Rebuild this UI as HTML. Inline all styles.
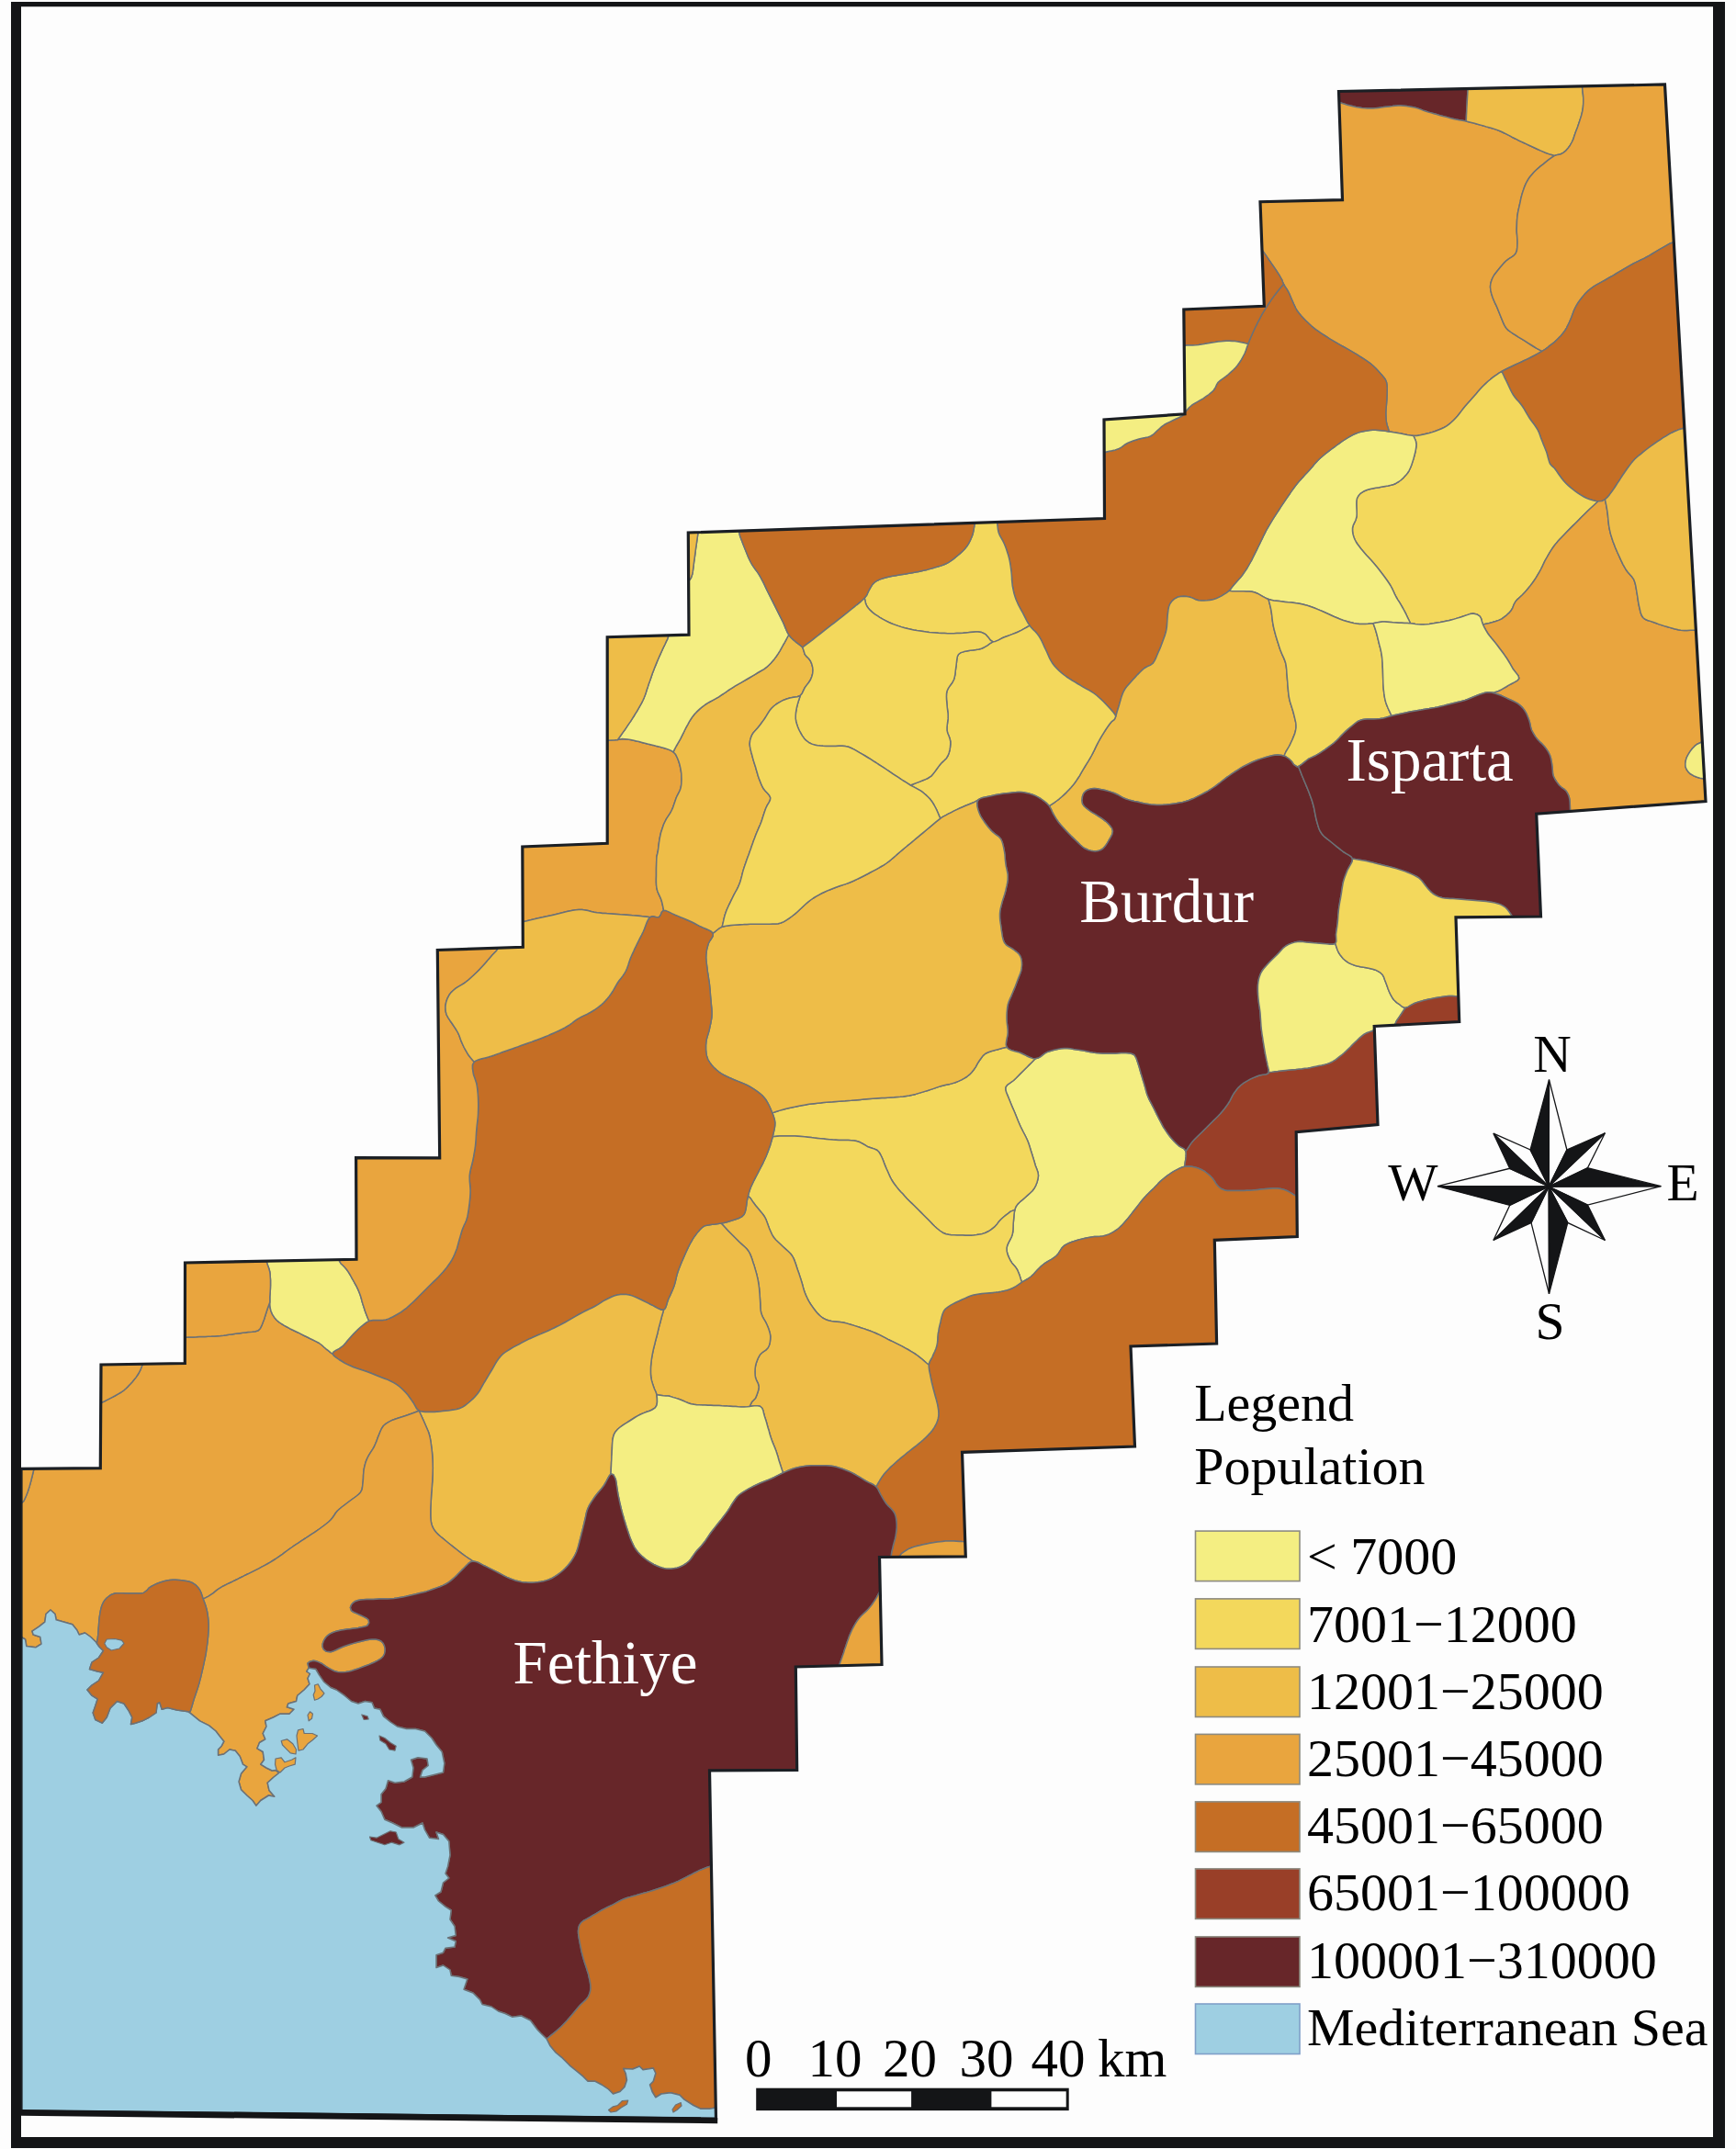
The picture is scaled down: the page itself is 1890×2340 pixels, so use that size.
<!DOCTYPE html>
<html lang="en"><head><meta charset="utf-8"><title>Population map</title>
<style>
html,body{margin:0;padding:0;background:#fdfdfd;}
svg{display:block}
text{font-family:"Liberation Serif","Times New Roman",serif;}
.lg{font-size:58px;fill:#000}
.city{font-size:67px;fill:#fff}
.cmp{font-size:57.5px;fill:#000}
.sc{font-size:59px;fill:#000}
</style></head><body>
<svg width="1890" height="2340" viewBox="0 0 1890 2340">
<rect x="0" y="0" width="1890" height="2340" fill="#fdfdfd"/>
<g id="map" stroke="#6c7176" stroke-width="1.5" stroke-linejoin="round">
<path d="M1457.9,111.2 1460.6,112.2 1463.8,113.2 1466.9,114.2 1470.0,115.0 1473.1,115.8 1476.2,116.5 1479.4,117.0 1482.5,117.5 1485.6,117.8 1488.6,118.0 1491.7,118.1 1495.0,118.0 1497.8,117.8 1500.8,117.4 1503.9,117.0 1507.0,116.6 1510.0,116.2 1513.0,115.9 1516.0,115.6 1519.0,115.2 1522.0,115.0 1525.0,115.0 1528.0,115.2 1531.1,115.5 1534.2,115.9 1537.2,116.4 1540.0,117.0 1543.2,117.9 1546.1,118.9 1549.1,120.1 1552.5,121.2 1555.2,122.1 1558.1,122.9 1561.1,123.8 1564.2,124.6 1567.2,125.5 1570.0,126.2 1573.2,127.1 1576.4,127.9 1579.4,128.7 1582.3,129.4 1585.0,130.0 1588.8,130.7 1592.1,131.2 1596.2,132.0 1596.4,128.6 1596.5,125.2 1596.7,121.8 1596.8,118.4 1597.0,115.0 1597.2,111.6 1597.4,108.2 1597.6,104.8 1597.8,101.4 1598.0,96.5 1457.5,99.5Z" fill="#672629"/>
<path d="M1596.2,132.0 1592.1,131.2 1588.8,130.7 1585.0,130.0 1582.3,129.4 1579.4,128.7 1576.4,127.9 1573.2,127.1 1570.0,126.2 1567.2,125.5 1564.2,124.6 1561.1,123.8 1558.1,122.9 1555.2,122.1 1552.5,121.2 1549.1,120.1 1546.1,118.9 1543.2,117.9 1540.0,117.0 1537.2,116.4 1534.2,115.9 1531.1,115.5 1528.0,115.2 1525.0,115.0 1522.0,115.0 1519.0,115.2 1516.0,115.6 1513.0,115.9 1510.0,116.2 1507.0,116.6 1503.9,117.0 1500.8,117.4 1497.8,117.8 1495.0,118.0 1491.7,118.1 1488.6,118.0 1485.6,117.8 1482.5,117.5 1479.4,117.0 1476.2,116.5 1473.1,115.8 1470.0,115.0 1466.9,114.2 1463.8,113.2 1460.6,112.2 1457.9,111.2 1461.5,217.6 1372.0,219.7 1374.0,272.0 1375.8,274.6 1377.7,277.3 1379.6,280.1 1381.5,283.0 1383.5,285.8 1385.3,288.5 1387.2,291.2 1388.9,293.7 1390.4,296.0 1391.8,298.1 1393.0,300.0 1395.6,304.6 1396.5,307.1 1397.5,309.5 1399.1,312.2 1400.8,314.6 1402.5,317.5 1403.8,320.1 1405.0,323.0 1406.2,325.9 1407.5,328.8 1409.0,332.2 1410.6,335.5 1412.5,338.8 1414.4,341.2 1416.5,343.8 1418.8,346.2 1421.2,348.8 1423.3,350.8 1425.4,352.8 1427.6,354.8 1430.0,356.8 1432.5,358.8 1434.8,360.4 1437.2,362.1 1439.8,363.8 1442.4,365.5 1445.0,367.2 1447.5,368.8 1450.5,370.6 1453.5,372.3 1456.5,374.1 1459.5,375.8 1462.5,377.5 1465.5,379.2 1468.5,380.9 1471.5,382.7 1474.5,384.4 1477.5,386.2 1480.1,387.8 1482.7,389.5 1485.3,391.2 1487.9,392.9 1490.3,394.6 1492.5,396.2 1495.4,398.8 1498.0,401.2 1500.3,403.8 1502.5,406.2 1504.6,408.6 1506.6,410.9 1508.3,413.3 1509.5,416.2 1510.0,419.1 1510.3,422.2 1510.2,425.6 1510.1,429.1 1510.0,432.5 1509.8,436.0 1509.5,439.7 1509.2,443.3 1508.9,446.8 1508.8,450.0 1508.9,453.6 1509.1,457.0 1509.5,459.9 1510.0,462.5 1511.2,466.0 1512.3,470.0 1512.5,470.0 1515.8,470.5 1518.8,471.0 1521.8,471.5 1525.0,472.0 1528.4,472.7 1532.0,473.5 1535.5,474.1 1538.8,474.5 1542.6,474.4 1546.3,473.8 1550.0,473.0 1553.0,472.3 1556.2,471.5 1559.3,470.6 1562.5,469.5 1565.7,468.3 1568.9,467.0 1572.1,465.5 1575.0,463.8 1577.7,461.9 1580.2,459.8 1582.6,457.5 1585.0,455.0 1587.0,452.7 1589.0,450.2 1591.0,447.6 1593.0,445.0 1595.0,442.5 1597.0,440.2 1599.0,437.9 1601.0,435.7 1603.0,433.5 1605.0,431.2 1607.0,429.0 1609.0,426.6 1611.0,424.3 1613.0,422.1 1615.0,420.0 1617.5,417.6 1620.0,415.3 1622.5,413.2 1625.0,411.2 1627.4,409.4 1629.7,407.8 1632.1,406.2 1635.0,404.5 1637.7,403.0 1640.6,401.5 1643.8,400.0 1646.9,398.5 1650.0,397.0 1653.0,395.6 1656.1,394.2 1659.1,392.8 1662.1,391.4 1665.0,390.0 1667.9,388.5 1670.8,387.0 1673.7,385.4 1676.3,383.9 1678.8,382.5 1675.9,380.9 1673.0,379.3 1670.0,377.5 1666.8,375.5 1663.4,373.4 1660.0,371.2 1656.7,369.2 1653.3,367.2 1650.0,365.0 1647.4,363.3 1644.7,361.5 1642.1,359.6 1640.0,357.5 1638.0,354.4 1636.5,351.1 1635.0,347.5 1633.8,344.5 1632.5,341.3 1631.2,338.1 1630.0,335.0 1628.7,332.1 1627.3,329.3 1626.1,326.5 1625.0,323.8 1623.8,320.0 1622.9,316.2 1622.5,312.5 1622.8,309.0 1623.7,305.7 1625.0,302.5 1626.7,299.5 1628.8,296.7 1631.2,293.8 1633.2,291.3 1635.4,288.7 1637.7,286.1 1640.0,283.8 1642.6,281.8 1645.4,280.1 1648.0,278.3 1650.0,276.2 1651.4,272.9 1651.8,269.2 1652.0,265.0 1652.0,262.2 1651.8,259.3 1651.6,256.2 1651.3,253.1 1651.2,250.0 1651.3,247.0 1651.4,243.9 1651.5,240.8 1651.7,237.8 1652.0,235.0 1652.5,231.7 1653.1,228.6 1653.8,225.6 1654.5,222.5 1655.2,219.4 1655.8,216.2 1656.6,213.1 1657.5,210.0 1658.6,206.8 1659.7,203.6 1661.0,200.4 1662.5,197.5 1664.1,194.8 1665.9,192.3 1667.9,189.9 1670.0,187.5 1672.3,185.2 1674.7,183.1 1677.3,180.9 1680.0,178.8 1682.4,176.8 1685.1,174.7 1687.8,172.7 1690.4,170.9 1692.5,169.5 1689.4,168.5 1686.2,167.6 1682.5,166.2 1679.9,165.1 1677.0,163.9 1673.9,162.5 1670.7,161.0 1667.5,159.5 1664.7,158.2 1661.9,156.9 1658.9,155.5 1655.9,154.1 1652.9,152.7 1650.0,151.2 1647.1,149.8 1644.2,148.2 1641.2,146.7 1638.3,145.2 1635.4,143.8 1632.5,142.5 1629.6,141.4 1626.7,140.4 1623.8,139.5 1620.9,138.7 1618.0,137.9 1615.0,137.0 1611.9,136.1 1608.6,135.2 1605.2,134.3 1602.0,133.4 1599.0,132.7Z" fill="#e9a53e"/>
<path d="M1596.2,132.0 1599.0,132.7 1602.0,133.4 1605.2,134.3 1608.6,135.2 1611.9,136.1 1615.0,137.0 1618.0,137.9 1620.9,138.7 1623.8,139.5 1626.7,140.4 1629.6,141.4 1632.5,142.5 1635.4,143.8 1638.3,145.2 1641.2,146.7 1644.2,148.2 1647.1,149.8 1650.0,151.2 1652.9,152.7 1655.9,154.1 1658.9,155.5 1661.9,156.9 1664.7,158.2 1667.5,159.5 1670.7,161.0 1673.9,162.5 1677.0,163.9 1679.9,165.1 1682.5,166.2 1686.2,167.6 1689.4,168.5 1692.5,169.5 1696.0,168.4 1698.8,168.0 1701.9,166.3 1705.0,163.8 1707.2,161.2 1709.4,158.2 1711.2,155.0 1712.7,151.9 1713.8,148.6 1715.0,145.0 1716.1,142.1 1717.3,138.9 1718.4,135.7 1719.5,132.5 1720.5,129.4 1721.5,126.2 1722.3,123.1 1723.0,120.0 1723.4,116.9 1723.7,113.8 1723.8,110.6 1723.8,107.5 1723.6,104.4 1723.2,101.2 1722.9,98.1 1722.5,93.9 1598.0,96.5 1597.8,101.4 1597.6,104.8 1597.4,108.2 1597.2,111.6 1597.0,115.0 1596.8,118.4 1596.7,121.8 1596.5,125.2 1596.4,128.6Z" fill="#eebd48"/>
<path d="M1722.5,93.9 1722.9,98.1 1723.2,101.2 1723.6,104.4 1723.8,107.5 1723.8,110.6 1723.7,113.8 1723.4,116.9 1723.0,120.0 1722.3,123.1 1721.5,126.2 1720.5,129.4 1719.5,132.5 1718.4,135.7 1717.3,138.9 1716.1,142.1 1715.0,145.0 1713.8,148.6 1712.7,151.9 1711.2,155.0 1709.4,158.2 1707.2,161.2 1705.0,163.8 1701.9,166.3 1698.8,168.0 1696.0,168.4 1692.5,169.5 1690.4,170.9 1687.8,172.7 1685.1,174.7 1682.4,176.8 1680.0,178.8 1677.3,180.9 1674.7,183.1 1672.3,185.2 1670.0,187.5 1667.9,189.9 1665.9,192.3 1664.1,194.8 1662.5,197.5 1661.0,200.4 1659.7,203.6 1658.6,206.8 1657.5,210.0 1656.6,213.1 1655.8,216.2 1655.2,219.4 1654.5,222.5 1653.8,225.6 1653.1,228.6 1652.5,231.7 1652.0,235.0 1651.7,237.8 1651.5,240.8 1651.4,243.9 1651.3,247.0 1651.2,250.0 1651.3,253.1 1651.6,256.2 1651.8,259.3 1652.0,262.2 1652.0,265.0 1651.8,269.2 1651.4,272.9 1650.0,276.2 1648.0,278.3 1645.4,280.1 1642.6,281.8 1640.0,283.8 1637.7,286.1 1635.4,288.7 1633.2,291.3 1631.2,293.8 1628.8,296.7 1626.7,299.5 1625.0,302.5 1623.7,305.7 1622.8,309.0 1622.5,312.5 1622.9,316.2 1623.8,320.0 1625.0,323.8 1626.1,326.5 1627.3,329.3 1628.7,332.1 1630.0,335.0 1631.2,338.1 1632.5,341.3 1633.8,344.5 1635.0,347.5 1636.5,351.1 1638.0,354.4 1640.0,357.5 1642.1,359.6 1644.7,361.5 1647.4,363.3 1650.0,365.0 1653.3,367.2 1656.7,369.2 1660.0,371.2 1663.4,373.4 1666.8,375.5 1670.0,377.5 1673.0,379.3 1675.9,380.9 1678.8,382.5 1682.1,380.3 1684.9,378.3 1687.5,376.2 1690.0,374.3 1692.5,372.4 1695.0,370.0 1697.2,367.8 1699.5,365.4 1701.7,362.8 1703.8,360.0 1705.5,357.1 1707.1,353.9 1708.6,350.7 1710.0,347.5 1711.3,344.3 1712.4,341.2 1713.6,338.0 1715.0,335.0 1716.6,332.1 1718.4,329.2 1720.4,326.4 1722.5,323.8 1724.7,321.1 1727.0,318.6 1729.6,316.1 1732.5,313.8 1735.2,311.9 1738.1,310.2 1741.3,308.4 1744.4,306.7 1747.5,305.0 1750.5,303.2 1753.5,301.5 1756.5,299.8 1759.5,298.0 1762.5,296.2 1765.5,294.5 1768.5,292.7 1771.5,290.9 1774.5,289.2 1777.5,287.5 1780.5,285.9 1783.5,284.5 1786.5,283.0 1789.5,281.6 1792.5,280.0 1795.5,278.3 1798.6,276.5 1801.6,274.7 1804.6,272.9 1807.5,271.2 1810.2,269.7 1812.8,268.2 1815.4,266.7 1817.9,265.2 1822.3,263.6 1812.5,92.0Z" fill="#e9a53e"/>
<path d="M1822.3,263.6 1817.9,265.2 1815.4,266.7 1812.8,268.2 1810.2,269.7 1807.5,271.2 1804.6,272.9 1801.6,274.7 1798.6,276.5 1795.5,278.3 1792.5,280.0 1789.5,281.6 1786.5,283.0 1783.5,284.5 1780.5,285.9 1777.5,287.5 1774.5,289.2 1771.5,290.9 1768.5,292.7 1765.5,294.5 1762.5,296.2 1759.5,298.0 1756.5,299.8 1753.5,301.5 1750.5,303.2 1747.5,305.0 1744.4,306.7 1741.3,308.4 1738.1,310.2 1735.2,311.9 1732.5,313.8 1729.6,316.1 1727.0,318.6 1724.7,321.1 1722.5,323.8 1720.4,326.4 1718.4,329.2 1716.6,332.1 1715.0,335.0 1713.6,338.0 1712.4,341.2 1711.3,344.3 1710.0,347.5 1708.6,350.7 1707.1,353.9 1705.5,357.1 1703.8,360.0 1701.7,362.8 1699.5,365.4 1697.2,367.8 1695.0,370.0 1692.5,372.4 1690.0,374.3 1687.5,376.2 1684.9,378.3 1682.1,380.3 1678.8,382.5 1676.3,383.9 1673.7,385.4 1670.8,387.0 1667.9,388.5 1665.0,390.0 1662.1,391.4 1659.1,392.8 1656.1,394.2 1653.0,395.6 1650.0,397.0 1646.9,398.5 1643.8,400.0 1640.6,401.5 1637.7,403.0 1635.0,404.5 1636.6,407.8 1638.1,411.2 1640.0,415.0 1641.3,417.8 1642.7,420.8 1644.2,424.0 1645.8,427.1 1647.5,430.0 1649.4,432.7 1651.4,435.2 1653.6,437.6 1655.6,440.0 1657.5,442.5 1659.5,445.6 1661.3,448.8 1663.1,451.9 1665.0,455.0 1666.7,457.5 1668.6,460.0 1670.5,462.5 1672.2,465.0 1673.8,467.5 1675.3,470.6 1676.5,473.8 1677.6,476.9 1678.8,480.0 1680.0,483.1 1681.3,486.2 1682.6,489.4 1683.8,492.5 1684.7,495.8 1685.6,499.2 1686.5,502.4 1687.5,505.0 1689.6,507.4 1692.5,510.0 1694.1,512.2 1696.0,515.0 1698.1,518.0 1700.3,521.0 1702.5,523.8 1704.8,526.2 1707.3,528.6 1709.9,530.9 1712.5,533.0 1715.0,535.0 1718.1,537.2 1721.2,539.2 1724.4,541.0 1727.5,542.5 1730.7,543.7 1734.1,544.7 1737.2,545.4 1740.0,545.8 1744.1,545.5 1747.5,543.8 1750.0,541.4 1752.5,538.4 1755.0,535.0 1756.9,532.4 1758.8,529.5 1760.6,526.6 1762.5,523.8 1764.4,520.9 1766.2,518.0 1768.1,515.2 1770.0,512.5 1771.9,509.8 1773.9,507.1 1775.8,504.6 1777.5,502.5 1779.7,500.0 1782.5,497.5 1784.5,495.8 1787.0,493.8 1789.6,491.7 1792.4,489.5 1795.0,487.5 1797.5,485.6 1800.0,483.9 1802.5,482.1 1805.0,480.4 1807.5,478.8 1810.6,476.7 1813.8,474.8 1816.9,472.9 1820.0,471.2 1823.0,469.8 1825.9,468.6 1828.8,467.4 1833.8,466.1Z" fill="#c56e25"/>
<path d="M1635.0,404.5 1632.1,406.2 1629.7,407.8 1627.4,409.4 1625.0,411.2 1622.5,413.2 1620.0,415.3 1617.5,417.6 1615.0,420.0 1613.0,422.1 1611.0,424.3 1609.0,426.6 1607.0,429.0 1605.0,431.2 1603.0,433.5 1601.0,435.7 1599.0,437.9 1597.0,440.2 1595.0,442.5 1593.0,445.0 1591.0,447.6 1589.0,450.2 1587.0,452.7 1585.0,455.0 1582.6,457.5 1580.2,459.8 1577.7,461.9 1575.0,463.8 1572.1,465.5 1568.9,467.0 1565.7,468.3 1562.5,469.5 1559.3,470.6 1556.2,471.5 1553.0,472.3 1550.0,473.0 1546.3,473.8 1542.6,474.4 1538.8,474.5 1540.1,477.3 1541.4,480.1 1542.0,483.8 1541.8,486.6 1541.3,489.8 1540.6,493.3 1539.7,496.7 1538.8,500.0 1537.8,503.1 1536.8,506.3 1535.6,509.3 1534.2,512.3 1532.5,515.0 1530.4,517.6 1528.1,520.1 1525.5,522.5 1522.8,524.5 1520.0,526.2 1517.2,527.5 1514.3,528.3 1511.3,528.9 1508.2,529.4 1505.0,530.0 1501.5,530.7 1497.8,531.3 1494.1,531.9 1490.6,532.7 1487.5,533.8 1484.2,535.3 1481.4,537.1 1479.2,539.4 1477.5,542.5 1476.9,545.3 1476.8,548.6 1476.9,552.3 1477.1,556.0 1477.2,559.5 1477.0,562.5 1476.0,566.2 1474.6,569.2 1473.2,572.1 1472.5,575.0 1472.5,578.1 1472.9,581.2 1473.8,584.4 1475.0,587.5 1476.3,590.0 1477.9,592.5 1479.8,595.0 1481.7,597.5 1483.8,600.0 1485.9,602.5 1488.1,605.0 1490.5,607.5 1492.8,610.0 1495.0,612.5 1497.1,615.0 1499.2,617.5 1501.2,620.0 1503.1,622.5 1505.0,625.0 1506.9,627.5 1508.7,630.0 1510.5,632.5 1512.2,635.0 1513.8,637.5 1515.5,640.6 1517.0,643.8 1518.4,646.9 1520.0,650.0 1521.8,653.1 1523.8,656.2 1525.7,659.4 1527.5,662.5 1529.3,665.8 1531.0,669.2 1532.5,672.4 1533.8,675.0 1535.6,678.8 1538.0,679.0 1541.0,679.4 1544.0,679.7 1547.0,679.9 1550.0,680.0 1553.0,679.8 1556.0,679.5 1559.0,679.0 1562.0,678.5 1565.0,678.0 1568.0,677.5 1571.1,676.9 1574.2,676.3 1577.2,675.7 1580.0,675.0 1583.3,674.1 1586.5,673.1 1589.5,672.2 1592.5,671.2 1596.5,669.9 1600.3,668.6 1603.8,668.0 1608.0,668.9 1611.2,671.2 1612.6,673.7 1613.4,676.8 1614.5,680.0 1618.0,679.2 1621.5,678.4 1625.0,677.5 1628.4,676.5 1631.7,675.4 1635.0,673.8 1637.6,671.9 1640.3,669.8 1642.9,667.4 1645.0,665.0 1646.9,661.8 1648.1,658.4 1650.0,655.0 1652.1,652.6 1654.7,650.2 1657.4,647.7 1660.0,645.0 1662.0,642.7 1664.1,640.2 1666.2,637.6 1668.2,635.0 1670.0,632.5 1672.1,629.4 1674.0,626.2 1675.8,623.1 1677.5,620.0 1679.1,616.9 1680.5,613.8 1682.0,610.7 1683.8,607.5 1685.3,604.8 1686.9,602.1 1688.6,599.3 1690.5,596.5 1692.5,593.8 1694.4,591.4 1696.4,589.1 1698.5,586.8 1700.7,584.5 1702.9,582.2 1705.0,580.0 1707.5,577.4 1710.0,574.9 1712.5,572.4 1715.0,570.0 1717.5,567.5 1720.0,564.9 1722.6,562.3 1725.2,559.8 1727.7,557.3 1730.0,555.0 1732.7,552.5 1735.2,550.2 1737.6,548.0 1740.0,545.8 1737.2,545.4 1734.1,544.7 1730.7,543.7 1727.5,542.5 1724.4,541.0 1721.2,539.2 1718.1,537.2 1715.0,535.0 1712.5,533.0 1709.9,530.9 1707.3,528.6 1704.8,526.2 1702.5,523.8 1700.3,521.0 1698.1,518.0 1696.0,515.0 1694.1,512.2 1692.5,510.0 1689.6,507.4 1687.5,505.0 1686.5,502.4 1685.6,499.2 1684.7,495.8 1683.8,492.5 1682.6,489.4 1681.3,486.2 1680.0,483.1 1678.8,480.0 1677.6,476.9 1676.5,473.8 1675.3,470.6 1673.8,467.5 1672.2,465.0 1670.5,462.5 1668.6,460.0 1666.7,457.5 1665.0,455.0 1663.1,451.9 1661.3,448.8 1659.5,445.6 1657.5,442.5 1655.6,440.0 1653.6,437.6 1651.4,435.2 1649.4,432.7 1647.5,430.0 1645.8,427.1 1644.2,424.0 1642.7,420.8 1641.3,417.8 1640.0,415.0 1638.1,411.2 1636.6,407.8Z" fill="#f3d85c"/>
<path d="M1538.8,474.5 1535.5,474.1 1532.0,473.5 1528.4,472.7 1525.0,472.0 1521.8,471.5 1518.8,471.0 1515.8,470.5 1512.5,470.0 1512.3,470.0 1509.7,469.6 1506.7,469.1 1503.6,468.7 1500.5,468.4 1497.5,468.2 1494.5,468.3 1491.4,468.5 1488.3,468.9 1485.3,469.4 1482.5,470.0 1479.3,470.9 1476.2,472.0 1473.2,473.3 1470.0,475.0 1467.7,476.3 1465.3,477.8 1462.8,479.5 1460.3,481.2 1457.7,483.1 1455.0,485.0 1452.6,486.8 1450.0,488.7 1447.4,490.6 1444.8,492.7 1442.2,494.7 1439.8,496.8 1437.5,498.8 1435.1,501.0 1433.0,503.3 1430.9,505.6 1429.0,507.9 1427.0,510.2 1425.0,512.5 1422.9,514.8 1420.7,517.1 1418.6,519.4 1416.5,521.7 1414.4,524.0 1412.5,526.2 1410.3,529.0 1408.3,531.7 1406.4,534.4 1404.5,537.2 1402.5,540.0 1400.9,542.4 1399.3,544.7 1397.7,547.1 1396.0,549.6 1394.3,552.2 1392.5,555.0 1390.8,557.6 1389.0,560.3 1387.2,563.2 1385.3,566.2 1383.5,569.1 1381.7,572.1 1380.0,575.0 1378.4,577.9 1376.9,580.8 1375.5,583.7 1374.1,586.6 1372.7,589.5 1371.3,592.3 1370.0,595.0 1368.5,598.1 1367.0,601.2 1365.5,604.1 1364.1,607.0 1362.7,609.8 1361.2,612.5 1359.5,615.5 1357.8,618.5 1356.0,621.2 1354.2,623.8 1352.5,626.2 1350.3,629.1 1348.0,631.6 1345.8,634.0 1343.8,636.2 1341.5,639.0 1339.6,641.5 1338.0,643.3 1341.6,643.7 1344.6,643.7 1347.7,643.7 1351.0,643.8 1353.8,643.8 1356.8,643.9 1359.9,644.0 1363.0,644.3 1366.0,645.0 1369.0,646.2 1372.0,647.8 1375.0,649.6 1378.0,651.2 1381.0,652.5 1383.9,653.3 1386.8,653.9 1389.6,654.2 1392.7,654.6 1396.0,655.0 1399.1,655.4 1402.5,655.8 1406.0,656.1 1409.5,656.5 1412.9,657.0 1416.0,657.5 1419.2,658.2 1421.9,658.9 1424.6,659.7 1427.5,660.7 1431.0,662.0 1433.7,663.1 1436.7,664.4 1440.0,665.8 1443.3,667.3 1446.6,668.8 1449.8,670.2 1452.6,671.5 1455.0,672.5 1459.2,674.3 1461.8,675.3 1465.0,676.2 1467.7,677.0 1470.6,677.8 1473.8,678.5 1476.9,679.1 1480.0,679.5 1483.1,679.6 1486.2,679.5 1489.4,679.3 1492.3,679.0 1495.0,678.8 1498.5,678.1 1501.5,677.4 1505.0,677.0 1507.7,677.0 1510.6,677.2 1513.8,677.5 1516.9,677.8 1520.0,678.0 1523.0,678.2 1526.0,678.3 1529.0,678.4 1532.0,678.6 1535.0,678.8 1535.6,678.8 1533.8,675.0 1532.5,672.4 1531.0,669.2 1529.3,665.8 1527.5,662.5 1525.7,659.4 1523.8,656.2 1521.8,653.1 1520.0,650.0 1518.4,646.9 1517.0,643.8 1515.5,640.6 1513.8,637.5 1512.2,635.0 1510.5,632.5 1508.7,630.0 1506.9,627.5 1505.0,625.0 1503.1,622.5 1501.2,620.0 1499.2,617.5 1497.1,615.0 1495.0,612.5 1492.8,610.0 1490.5,607.5 1488.1,605.0 1485.9,602.5 1483.8,600.0 1481.7,597.5 1479.8,595.0 1477.9,592.5 1476.3,590.0 1475.0,587.5 1473.8,584.4 1472.9,581.2 1472.5,578.1 1472.5,575.0 1473.2,572.1 1474.6,569.2 1476.0,566.2 1477.0,562.5 1477.2,559.5 1477.1,556.0 1476.9,552.3 1476.8,548.6 1476.9,545.3 1477.5,542.5 1479.2,539.4 1481.4,537.1 1484.2,535.3 1487.5,533.8 1490.6,532.7 1494.1,531.9 1497.8,531.3 1501.5,530.7 1505.0,530.0 1508.2,529.4 1511.3,528.9 1514.3,528.3 1517.2,527.5 1520.0,526.2 1522.8,524.5 1525.5,522.5 1528.1,520.1 1530.4,517.6 1532.5,515.0 1534.2,512.3 1535.6,509.3 1536.8,506.3 1537.8,503.1 1538.8,500.0 1539.7,496.7 1540.6,493.3 1541.3,489.8 1541.8,486.6 1542.0,483.8 1541.4,480.1 1540.1,477.3Z" fill="#f4ee82"/>
<path d="M1338.0,643.3 1339.6,641.5 1341.5,639.0 1343.8,636.2 1345.8,634.0 1348.0,631.6 1350.3,629.1 1352.5,626.2 1354.2,623.8 1356.0,621.2 1357.8,618.5 1359.5,615.5 1361.2,612.5 1362.7,609.8 1364.1,607.0 1365.5,604.1 1367.0,601.2 1368.5,598.1 1370.0,595.0 1371.3,592.3 1372.7,589.5 1374.1,586.6 1375.5,583.7 1376.9,580.8 1378.4,577.9 1380.0,575.0 1381.7,572.1 1383.5,569.1 1385.3,566.2 1387.2,563.2 1389.0,560.3 1390.8,557.6 1392.5,555.0 1394.3,552.2 1396.0,549.6 1397.7,547.1 1399.3,544.7 1400.9,542.4 1402.5,540.0 1404.5,537.2 1406.4,534.4 1408.3,531.7 1410.3,529.0 1412.5,526.2 1414.4,524.0 1416.5,521.7 1418.6,519.4 1420.7,517.1 1422.9,514.8 1425.0,512.5 1427.0,510.2 1429.0,507.9 1430.9,505.6 1433.0,503.3 1435.1,501.0 1437.5,498.8 1439.8,496.8 1442.2,494.7 1444.8,492.7 1447.4,490.6 1450.0,488.7 1452.6,486.8 1455.0,485.0 1457.7,483.1 1460.3,481.2 1462.8,479.5 1465.3,477.8 1467.7,476.3 1470.0,475.0 1473.2,473.3 1476.2,472.0 1479.3,470.9 1482.5,470.0 1485.3,469.4 1488.3,468.9 1491.4,468.5 1494.5,468.3 1497.5,468.2 1500.5,468.4 1503.6,468.7 1506.7,469.1 1509.7,469.6 1512.3,470.0 1511.2,466.0 1510.0,462.5 1509.5,459.9 1509.1,457.0 1508.9,453.6 1508.8,450.0 1508.9,446.8 1509.2,443.3 1509.5,439.7 1509.8,436.0 1510.0,432.5 1510.1,429.1 1510.2,425.6 1510.3,422.2 1510.0,419.1 1509.5,416.2 1508.3,413.3 1506.6,410.9 1504.6,408.6 1502.5,406.2 1500.3,403.8 1498.0,401.2 1495.4,398.8 1492.5,396.2 1490.3,394.6 1487.9,392.9 1485.3,391.2 1482.7,389.5 1480.1,387.8 1477.5,386.2 1474.5,384.4 1471.5,382.7 1468.5,380.9 1465.5,379.2 1462.5,377.5 1459.5,375.8 1456.5,374.1 1453.5,372.3 1450.5,370.6 1447.5,368.8 1445.0,367.2 1442.4,365.5 1439.8,363.8 1437.2,362.1 1434.8,360.4 1432.5,358.8 1430.0,356.8 1427.6,354.8 1425.4,352.8 1423.3,350.8 1421.2,348.8 1418.8,346.2 1416.5,343.8 1414.4,341.2 1412.5,338.8 1410.6,335.5 1409.0,332.2 1407.5,328.8 1406.2,325.9 1405.0,323.0 1403.8,320.1 1402.5,317.5 1400.8,314.6 1399.1,312.2 1397.5,309.5 1395.3,312.1 1393.1,314.6 1390.9,317.2 1388.8,320.0 1387.0,322.4 1385.2,324.9 1383.4,327.4 1381.7,330.0 1380.0,332.5 1378.0,335.6 1376.2,338.6 1374.3,341.7 1372.5,345.0 1371.0,347.8 1369.4,350.8 1367.9,353.9 1366.4,357.0 1365.0,360.0 1363.6,363.0 1362.3,366.0 1361.0,369.0 1359.8,371.9 1358.8,374.5 1357.5,378.2 1356.4,381.5 1355.0,385.0 1353.4,388.0 1351.6,391.3 1349.6,394.5 1347.5,397.5 1345.2,400.2 1342.7,402.7 1340.1,405.1 1337.5,407.5 1334.6,409.8 1331.6,412.0 1328.7,414.1 1326.2,416.2 1324.4,419.2 1323.1,422.1 1321.2,425.0 1318.9,427.2 1316.1,429.5 1313.0,431.7 1310.0,433.8 1306.8,435.7 1303.5,437.6 1300.3,439.4 1297.5,441.2 1294.6,443.8 1292.3,446.4 1290.0,449.0 1290.0,450.8 1290.0,450.8 1290.0,450.8 1286.8,453.0 1283.5,454.6 1280.0,456.2 1276.9,457.7 1273.6,459.3 1270.3,460.9 1267.5,462.5 1264.6,464.6 1262.3,466.7 1260.0,468.8 1257.7,471.0 1255.4,473.2 1252.5,475.0 1249.7,475.9 1246.6,476.6 1243.2,477.2 1240.0,478.0 1236.8,479.0 1233.6,480.0 1230.4,481.2 1227.5,482.5 1224.1,484.5 1221.1,486.8 1217.5,488.8 1214.2,489.9 1210.5,490.8 1206.7,491.6 1202.2,492.5 1202.5,564.5 1085.5,568.5 1086.1,573.5 1086.5,576.8 1087.2,580.0 1088.5,583.1 1090.2,586.1 1091.9,589.2 1093.5,592.5 1094.6,595.3 1095.7,598.3 1096.7,601.4 1097.7,604.5 1098.5,607.5 1099.2,610.5 1099.7,613.5 1100.2,616.5 1100.6,619.5 1101.0,622.5 1101.3,625.5 1101.5,628.5 1101.6,631.5 1101.9,634.5 1102.2,637.5 1102.8,640.5 1103.4,643.5 1104.1,646.5 1105.0,649.5 1106.0,652.5 1107.3,655.5 1108.7,658.6 1110.3,661.6 1111.9,664.6 1113.5,667.5 1115.0,670.4 1116.4,673.2 1117.8,676.0 1119.3,678.7 1121.0,681.2 1122.9,683.6 1124.9,685.8 1127.1,687.8 1129.1,690.1 1131.0,692.5 1132.7,695.3 1134.2,698.2 1135.6,701.3 1137.0,704.4 1138.5,707.5 1139.9,710.5 1141.3,713.6 1142.6,716.7 1144.2,719.7 1146.0,722.5 1148.1,725.2 1150.4,727.7 1152.9,730.2 1155.6,732.6 1158.5,735.0 1161.2,737.0 1164.1,738.9 1167.1,740.9 1170.2,742.7 1173.2,744.5 1176.0,746.2 1179.2,748.1 1182.3,749.8 1185.3,751.4 1188.2,753.1 1191.0,755.0 1193.7,757.0 1196.2,759.2 1198.7,761.5 1201.1,763.8 1203.5,766.2 1206.1,769.0 1208.9,771.9 1211.5,774.9 1213.6,777.7 1214.8,780.0 1215.7,776.9 1216.5,773.9 1217.5,770.8 1218.5,767.5 1219.3,764.6 1220.2,761.6 1221.1,758.4 1222.2,755.4 1223.5,752.5 1225.1,749.8 1227.0,747.3 1229.1,744.9 1231.3,742.5 1233.5,740.0 1235.9,737.4 1238.5,734.6 1241.1,732.0 1243.7,729.5 1246.0,727.5 1249.4,725.6 1252.3,724.4 1255.0,722.5 1256.8,719.9 1258.4,716.7 1259.8,713.3 1261.2,710.0 1262.6,706.9 1263.9,703.8 1265.1,700.6 1266.2,697.5 1267.3,694.4 1268.4,691.4 1269.3,688.3 1270.0,685.0 1270.4,682.1 1270.6,679.1 1270.8,675.9 1271.0,672.9 1271.2,670.0 1271.6,666.6 1272.0,663.3 1272.7,660.2 1273.8,657.5 1276.1,654.4 1279.1,651.8 1282.5,650.0 1285.4,649.4 1288.7,649.3 1292.0,649.6 1295.0,650.0 1298.3,651.1 1301.4,652.7 1305.0,653.8 1307.8,653.9 1310.9,653.9 1314.1,653.8 1317.2,653.4 1320.0,653.0 1323.8,651.9 1327.0,650.4 1330.0,648.8 1332.7,647.2 1335.2,645.6 1337.5,643.8Z" fill="#c56e25"/>
<path d="M1338.0,643.3 1337.5,643.8 1335.2,645.6 1332.7,647.2 1330.0,648.8 1327.0,650.4 1323.8,651.9 1320.0,653.0 1317.2,653.4 1314.1,653.8 1310.9,653.9 1307.8,653.9 1305.0,653.8 1301.4,652.7 1298.3,651.1 1295.0,650.0 1292.0,649.6 1288.7,649.3 1285.4,649.4 1282.5,650.0 1279.1,651.8 1276.1,654.4 1273.8,657.5 1272.7,660.2 1272.0,663.3 1271.6,666.6 1271.2,670.0 1271.0,672.9 1270.8,675.9 1270.6,679.1 1270.4,682.1 1270.0,685.0 1269.3,688.3 1268.4,691.4 1267.3,694.4 1266.2,697.5 1265.1,700.6 1263.9,703.8 1262.6,706.9 1261.2,710.0 1259.8,713.3 1258.4,716.7 1256.8,719.9 1255.0,722.5 1252.3,724.4 1249.4,725.6 1246.0,727.5 1243.7,729.5 1241.1,732.0 1238.5,734.6 1235.9,737.4 1233.5,740.0 1231.3,742.5 1229.1,744.9 1227.0,747.3 1225.1,749.8 1223.5,752.5 1222.2,755.4 1221.1,758.4 1220.2,761.6 1219.3,764.6 1218.5,767.5 1217.5,770.8 1216.5,773.9 1215.7,776.9 1214.8,780.0 1213.3,783.4 1209.8,786.2 1207.8,788.8 1205.7,791.7 1203.5,795.0 1201.7,797.8 1199.8,800.9 1197.9,804.1 1196.0,807.5 1194.5,810.4 1193.0,813.4 1191.5,816.6 1190.0,819.6 1188.5,822.5 1186.6,825.8 1184.8,828.9 1182.9,831.9 1181.0,835.0 1179.1,838.2 1177.2,841.4 1175.4,844.6 1173.5,847.5 1171.7,850.2 1169.9,852.7 1168.1,855.1 1166.0,857.5 1163.7,860.0 1161.2,862.6 1158.6,865.1 1156.0,867.5 1153.3,869.8 1150.5,872.0 1147.6,874.1 1142.3,877.6 1144.3,881.1 1146.0,885.0 1147.8,888.1 1149.9,891.6 1152.2,895.0 1154.2,897.5 1156.4,900.0 1158.7,902.5 1161.0,905.0 1163.4,907.5 1165.9,910.1 1168.5,912.6 1171.0,915.0 1173.5,917.4 1175.9,919.8 1178.4,922.0 1181.0,923.8 1184.8,925.5 1188.6,926.6 1192.2,927.0 1195.4,926.6 1198.4,925.5 1201.0,923.8 1203.3,921.3 1205.4,918.2 1207.2,915.0 1209.2,911.7 1210.9,908.3 1211.5,905.0 1210.6,901.9 1208.5,899.0 1206.0,896.2 1203.8,894.3 1201.3,892.3 1198.6,890.5 1196.0,888.8 1192.6,886.6 1189.1,884.6 1186.0,882.5 1183.0,880.2 1180.3,877.8 1178.5,875.0 1178.0,871.3 1178.5,867.2 1179.8,863.8 1182.0,861.4 1185.0,859.7 1188.5,858.8 1191.4,858.6 1194.5,858.8 1197.8,859.4 1201.0,860.0 1204.1,860.7 1207.2,861.6 1210.4,862.6 1213.5,863.8 1216.6,865.2 1219.6,866.9 1222.7,868.6 1226.0,870.0 1228.8,870.9 1231.8,871.7 1234.9,872.5 1238.0,873.1 1241.0,873.8 1244.0,874.4 1246.9,875.0 1249.8,875.5 1252.8,876.0 1256.0,876.2 1259.3,876.4 1262.8,876.4 1266.4,876.3 1270.0,876.1 1273.5,875.8 1277.0,875.3 1280.6,874.8 1284.2,874.1 1287.7,873.4 1291.0,872.5 1294.2,871.5 1297.2,870.3 1300.1,869.1 1303.0,867.7 1306.0,866.2 1309.0,864.7 1312.0,863.0 1315.0,861.3 1318.0,859.5 1321.0,857.5 1323.5,855.8 1326.0,853.9 1328.5,852.0 1331.0,850.0 1333.5,848.1 1336.0,846.2 1338.5,844.5 1341.0,842.7 1343.5,841.0 1346.0,839.4 1348.5,837.8 1351.0,836.2 1354.0,834.5 1357.0,833.0 1360.0,831.5 1363.0,830.0 1366.0,828.8 1369.1,827.5 1372.2,826.4 1375.4,825.4 1378.3,824.5 1381.0,823.8 1384.8,822.8 1387.9,822.2 1391.0,822.0 1395.6,822.5 1397.9,823.2 1400.0,818.5 1401.6,815.8 1403.2,813.1 1404.7,810.3 1406.0,807.5 1407.3,804.6 1408.5,801.6 1409.7,798.6 1410.5,795.5 1411.0,792.5 1411.0,789.5 1410.7,786.6 1410.0,783.7 1409.3,780.7 1408.5,777.5 1407.8,774.8 1406.9,771.9 1406.0,769.1 1405.0,766.1 1404.2,763.1 1403.5,760.0 1403.0,756.8 1402.6,753.4 1402.3,750.0 1402.0,746.6 1401.8,743.2 1401.5,740.0 1401.2,736.3 1400.9,732.6 1400.7,729.0 1400.3,725.6 1399.8,722.5 1398.7,719.1 1397.5,716.1 1396.1,713.2 1394.8,710.0 1393.7,707.2 1392.7,704.2 1391.7,701.1 1390.7,698.0 1389.8,695.0 1388.9,692.0 1388.1,689.0 1387.3,686.0 1386.6,683.0 1386.0,680.0 1385.5,677.0 1385.1,673.9 1384.8,670.8 1384.4,667.8 1384.0,665.0 1383.3,661.7 1382.6,658.6 1381.8,655.6 1381.0,652.5 1378.0,651.2 1375.0,649.6 1372.0,647.8 1369.0,646.2 1366.0,645.0 1363.0,644.3 1359.9,644.0 1356.8,643.9 1353.8,643.8 1351.0,643.8 1347.7,643.7 1344.6,643.7 1341.6,643.7Z" fill="#eebd48"/>
<path d="M1747.5,543.8 1744.1,545.5 1740.0,545.8 1737.6,548.0 1735.2,550.2 1732.7,552.5 1730.0,555.0 1727.7,557.3 1725.2,559.8 1722.6,562.3 1720.0,564.9 1717.5,567.5 1715.0,570.0 1712.5,572.4 1710.0,574.9 1707.5,577.4 1705.0,580.0 1702.9,582.2 1700.7,584.5 1698.5,586.8 1696.4,589.1 1694.4,591.4 1692.5,593.8 1690.5,596.5 1688.6,599.3 1686.9,602.1 1685.3,604.8 1683.8,607.5 1682.0,610.7 1680.5,613.8 1679.1,616.9 1677.5,620.0 1675.8,623.1 1674.0,626.2 1672.1,629.4 1670.0,632.5 1668.2,635.0 1666.2,637.6 1664.1,640.2 1662.0,642.7 1660.0,645.0 1657.4,647.7 1654.7,650.2 1652.1,652.6 1650.0,655.0 1648.1,658.4 1646.9,661.8 1645.0,665.0 1642.9,667.4 1640.3,669.8 1637.6,671.9 1635.0,673.8 1631.7,675.4 1628.4,676.5 1625.0,677.5 1621.5,678.4 1618.0,679.2 1614.5,680.0 1616.0,683.1 1617.8,686.4 1620.0,690.0 1621.7,692.3 1623.7,694.8 1625.8,697.3 1627.9,699.9 1630.0,702.5 1632.0,705.2 1634.1,708.0 1636.2,710.8 1638.2,713.6 1640.0,716.2 1642.1,719.5 1644.0,722.7 1645.8,725.8 1647.5,728.8 1650.3,732.4 1653.0,735.7 1653.8,738.8 1652.2,740.8 1649.2,742.7 1645.7,744.5 1642.5,746.2 1639.6,748.0 1636.6,749.7 1633.8,751.3 1631.2,752.5 1627.3,753.7 1623.8,754.0 1623.8,754.0 1627.5,755.0 1631.2,756.2 1634.1,757.3 1637.0,758.6 1639.8,759.9 1642.5,761.2 1646.0,762.8 1649.4,764.4 1652.5,766.2 1655.3,768.4 1657.8,770.9 1660.0,773.8 1661.5,776.3 1662.8,779.2 1664.0,782.2 1665.0,785.0 1665.9,788.4 1666.5,791.7 1667.5,795.0 1669.3,798.4 1671.4,801.9 1673.8,805.0 1676.2,807.6 1678.8,809.9 1681.2,812.5 1683.6,815.6 1685.7,818.9 1687.5,822.5 1688.4,825.5 1689.1,828.8 1689.6,832.0 1690.0,835.0 1690.3,838.5 1690.5,841.8 1691.2,845.0 1692.9,848.5 1695.1,851.9 1697.5,855.0 1700.0,857.3 1702.7,859.1 1705.0,861.2 1706.6,863.8 1707.9,866.6 1708.8,870.0 1709.1,873.1 1709.3,876.6 1709.4,880.2 1709.5,883.5 1857.0,872.5 1855.6,847.9 1850.7,847.2 1847.5,846.2 1843.7,844.7 1840.0,842.5 1837.9,840.4 1836.1,837.8 1835.0,835.0 1834.8,831.9 1835.2,828.4 1836.2,825.0 1837.9,821.6 1840.1,818.1 1842.5,815.0 1845.0,812.4 1847.8,810.2 1853.3,807.8 1846.4,686.1 1840.2,686.3 1836.8,686.5 1833.5,686.5 1830.0,686.2 1827.1,685.8 1824.1,685.1 1821.1,684.3 1818.0,683.4 1815.0,682.5 1811.9,681.6 1808.8,680.6 1805.7,679.6 1802.8,678.5 1800.0,677.5 1796.8,676.4 1793.7,675.5 1791.0,674.3 1788.8,672.5 1787.2,670.0 1786.1,666.9 1785.3,663.5 1784.5,660.0 1783.9,657.1 1783.4,654.1 1783.0,651.0 1782.5,648.0 1782.0,645.0 1781.4,641.4 1780.8,637.9 1780.0,634.5 1778.8,631.2 1776.9,628.3 1774.6,625.7 1772.2,623.0 1770.0,620.0 1768.4,617.2 1766.8,614.3 1765.3,611.2 1763.9,608.1 1762.5,605.0 1761.1,602.0 1759.8,599.0 1758.5,596.0 1757.4,593.0 1756.2,590.0 1755.2,587.0 1754.3,584.1 1753.4,581.2 1752.7,578.2 1752.0,575.0 1751.5,571.6 1751.1,568.0 1750.7,564.3 1750.4,560.8 1750.0,557.5 1749.4,553.8 1748.8,550.4 1748.1,547.1Z" fill="#e9a53e"/>
<path d="M1833.8,466.1 1828.8,467.4 1825.9,468.6 1823.0,469.8 1820.0,471.2 1816.9,472.9 1813.8,474.8 1810.6,476.7 1807.5,478.8 1805.0,480.4 1802.5,482.1 1800.0,483.9 1797.5,485.6 1795.0,487.5 1792.4,489.5 1789.6,491.7 1787.0,493.8 1784.5,495.8 1782.5,497.5 1779.7,500.0 1777.5,502.5 1775.8,504.6 1773.9,507.1 1771.9,509.8 1770.0,512.5 1768.1,515.2 1766.2,518.0 1764.4,520.9 1762.5,523.8 1760.6,526.6 1758.8,529.5 1756.9,532.4 1755.0,535.0 1752.5,538.4 1750.0,541.4 1747.5,543.8 1748.1,547.1 1748.8,550.4 1749.4,553.8 1750.0,557.5 1750.4,560.8 1750.7,564.3 1751.1,568.0 1751.5,571.6 1752.0,575.0 1752.7,578.2 1753.4,581.2 1754.3,584.1 1755.2,587.0 1756.2,590.0 1757.4,593.0 1758.5,596.0 1759.8,599.0 1761.1,602.0 1762.5,605.0 1763.9,608.1 1765.3,611.2 1766.8,614.3 1768.4,617.2 1770.0,620.0 1772.2,623.0 1774.6,625.7 1776.9,628.3 1778.8,631.2 1780.0,634.5 1780.8,637.9 1781.4,641.4 1782.0,645.0 1782.5,648.0 1783.0,651.0 1783.4,654.1 1783.9,657.1 1784.5,660.0 1785.3,663.5 1786.1,666.9 1787.2,670.0 1788.8,672.5 1791.0,674.3 1793.7,675.5 1796.8,676.4 1800.0,677.5 1802.8,678.5 1805.7,679.6 1808.8,680.6 1811.9,681.6 1815.0,682.5 1818.0,683.4 1821.1,684.3 1824.1,685.1 1827.1,685.8 1830.0,686.2 1833.5,686.5 1836.8,686.5 1840.2,686.3 1846.4,686.1Z" fill="#eebd48"/>
<path d="M1121.0,681.2 1119.3,678.7 1117.8,676.0 1116.4,673.2 1115.0,670.4 1113.5,667.5 1111.9,664.6 1110.3,661.6 1108.7,658.6 1107.3,655.5 1106.0,652.5 1105.0,649.5 1104.1,646.5 1103.4,643.5 1102.8,640.5 1102.2,637.5 1101.9,634.5 1101.6,631.5 1101.5,628.5 1101.3,625.5 1101.0,622.5 1100.6,619.5 1100.2,616.5 1099.7,613.5 1099.2,610.5 1098.5,607.5 1097.7,604.5 1096.7,601.4 1095.7,598.3 1094.6,595.3 1093.5,592.5 1091.9,589.2 1090.2,586.1 1088.5,583.1 1087.2,580.0 1086.5,576.8 1086.1,573.5 1085.5,568.5 1061.2,569.3 1060.7,573.1 1060.2,576.2 1059.6,579.4 1058.8,582.5 1057.5,585.7 1056.1,588.9 1054.4,592.1 1052.5,595.0 1050.3,597.7 1047.9,600.2 1045.3,602.6 1042.5,605.0 1040.2,606.9 1037.8,608.8 1035.3,610.6 1032.7,612.3 1030.0,613.8 1027.2,615.0 1024.2,616.1 1021.1,617.0 1018.0,617.9 1015.0,618.8 1012.0,619.6 1009.1,620.4 1006.2,621.1 1003.2,621.8 1000.0,622.5 996.7,623.1 993.2,623.7 989.6,624.3 986.0,624.9 982.5,625.5 978.9,626.1 975.3,626.7 971.6,627.3 968.2,628.0 965.0,628.8 961.4,629.8 958.0,630.9 955.1,632.2 952.5,633.8 949.9,636.4 948.0,639.4 946.2,642.5 944.9,645.2 943.7,648.0 941.2,651.2 941.9,654.2 942.5,657.1 943.8,660.0 945.4,662.2 947.3,664.4 949.7,666.6 952.5,668.8 955.1,670.5 957.9,672.4 961.0,674.2 964.2,675.9 967.5,677.5 970.2,678.7 973.1,679.9 975.9,680.9 978.9,681.9 981.9,682.9 985.0,683.8 988.2,684.5 991.5,685.2 994.8,685.9 998.2,686.5 1001.6,687.0 1005.0,687.5 1008.3,688.0 1011.7,688.4 1015.0,688.7 1018.3,689.0 1021.7,689.3 1025.0,689.5 1028.3,689.6 1031.7,689.7 1035.0,689.7 1038.3,689.7 1041.7,689.6 1045.0,689.5 1048.5,689.3 1052.1,688.9 1055.7,688.5 1059.2,688.2 1062.3,688.0 1065.0,688.0 1068.7,688.6 1071.2,689.7 1073.5,691.2 1075.9,693.9 1078.2,697.0 1081.0,698.8 1083.7,698.4 1086.8,697.1 1090.1,695.3 1093.5,693.8 1096.4,692.7 1099.4,691.6 1102.6,690.4 1105.6,689.2 1108.5,688.0 1111.8,686.4 1114.9,684.7 1117.9,683.0Z" fill="#f3d85c"/>
<path d="M1214.8,780.0 1213.6,777.7 1211.5,774.9 1208.9,771.9 1206.1,769.0 1203.5,766.2 1201.1,763.8 1198.7,761.5 1196.2,759.2 1193.7,757.0 1191.0,755.0 1188.2,753.1 1185.3,751.4 1182.3,749.8 1179.2,748.1 1176.0,746.2 1173.2,744.5 1170.2,742.7 1167.1,740.9 1164.1,738.9 1161.2,737.0 1158.5,735.0 1155.6,732.6 1152.9,730.2 1150.4,727.7 1148.1,725.2 1146.0,722.5 1144.2,719.7 1142.6,716.7 1141.3,713.6 1139.9,710.5 1138.5,707.5 1137.0,704.4 1135.6,701.3 1134.2,698.2 1132.7,695.3 1131.0,692.5 1129.1,690.1 1127.1,687.8 1124.9,685.8 1122.9,683.6 1121.0,681.2 1117.9,683.0 1114.9,684.7 1111.8,686.4 1108.5,688.0 1105.6,689.2 1102.6,690.4 1099.4,691.6 1096.4,692.7 1093.5,693.8 1090.1,695.3 1086.8,697.1 1083.7,698.4 1081.0,698.8 1077.9,700.7 1074.9,702.8 1071.8,704.7 1068.5,706.2 1065.6,707.0 1062.4,707.6 1059.3,707.9 1056.2,708.2 1053.5,708.8 1049.5,709.6 1046.1,710.6 1043.5,712.5 1042.3,715.0 1041.8,718.0 1041.4,721.5 1041.0,725.0 1040.6,727.9 1040.2,730.9 1039.9,734.1 1039.3,737.1 1038.5,740.0 1036.8,743.2 1034.6,746.2 1032.5,749.3 1031.0,752.5 1030.5,755.4 1030.4,758.4 1030.5,761.6 1030.8,764.6 1031.0,767.5 1031.3,770.7 1031.7,773.8 1032.1,776.8 1032.2,780.0 1032.1,782.9 1031.7,785.9 1031.3,789.1 1031.0,792.1 1031.0,795.0 1031.7,798.2 1033.0,801.2 1034.1,804.3 1034.8,807.5 1034.8,810.4 1034.5,813.6 1034.0,816.7 1033.2,819.8 1032.2,822.5 1030.5,825.4 1028.2,827.8 1025.7,830.1 1023.5,832.5 1021.5,835.1 1019.6,837.8 1017.7,840.4 1016.0,842.5 1013.7,845.2 1010.0,847.5 1007.6,848.6 1004.7,849.8 1001.4,851.1 998.0,852.4 994.5,853.7 991.2,855.0 994.3,856.7 997.1,858.1 999.8,859.6 1002.5,861.2 1005.2,863.2 1007.8,865.4 1010.3,867.7 1012.5,870.0 1014.9,873.2 1016.9,876.5 1018.8,880.0 1020.1,882.7 1021.3,885.5 1022.5,888.4 1023.8,891.2 1026.9,889.2 1029.5,887.8 1032.5,886.2 1035.3,884.8 1038.4,883.2 1041.6,881.6 1045.0,880.0 1048.0,878.7 1051.3,877.3 1054.6,876.0 1057.6,874.8 1060.0,873.8 1064.8,871.2 1066.9,869.6 1070.1,868.5 1073.8,867.7 1077.5,866.9 1081.0,866.2 1084.1,865.6 1087.1,865.0 1090.1,864.5 1093.0,864.1 1096.0,863.8 1099.0,863.4 1102.1,863.0 1105.2,862.7 1108.2,862.5 1111.0,862.5 1114.4,862.8 1117.6,863.4 1120.6,864.1 1123.5,865.0 1127.1,866.4 1130.4,868.1 1133.5,870.0 1136.7,872.3 1139.8,874.9 1142.2,877.5 1142.3,877.6 1147.6,874.1 1150.5,872.0 1153.3,869.8 1156.0,867.5 1158.6,865.1 1161.2,862.6 1163.7,860.0 1166.0,857.5 1168.1,855.1 1169.9,852.7 1171.7,850.2 1173.5,847.5 1175.4,844.6 1177.2,841.4 1179.1,838.2 1181.0,835.0 1182.9,831.9 1184.8,828.9 1186.6,825.8 1188.5,822.5 1190.0,819.6 1191.5,816.6 1193.0,813.4 1194.5,810.4 1196.0,807.5 1197.9,804.1 1199.8,800.9 1201.7,797.8 1203.5,795.0 1205.7,791.7 1207.8,788.8 1209.8,786.2 1213.3,783.4Z" fill="#f3d85c"/>
<path d="M1495.0,678.8 1492.3,679.0 1489.4,679.3 1486.2,679.5 1483.1,679.6 1480.0,679.5 1476.9,679.1 1473.8,678.5 1470.6,677.8 1467.7,677.0 1465.0,676.2 1461.8,675.3 1459.2,674.3 1455.0,672.5 1452.6,671.5 1449.8,670.2 1446.6,668.8 1443.3,667.3 1440.0,665.8 1436.7,664.4 1433.7,663.1 1431.0,662.0 1427.5,660.7 1424.6,659.7 1421.9,658.9 1419.2,658.2 1416.0,657.5 1412.9,657.0 1409.5,656.5 1406.0,656.1 1402.5,655.8 1399.1,655.4 1396.0,655.0 1392.7,654.6 1389.6,654.2 1386.8,653.9 1383.9,653.3 1381.0,652.5 1381.8,655.6 1382.6,658.6 1383.3,661.7 1384.0,665.0 1384.4,667.8 1384.8,670.8 1385.1,673.9 1385.5,677.0 1386.0,680.0 1386.6,683.0 1387.3,686.0 1388.1,689.0 1388.9,692.0 1389.8,695.0 1390.7,698.0 1391.7,701.1 1392.7,704.2 1393.7,707.2 1394.8,710.0 1396.1,713.2 1397.5,716.1 1398.7,719.1 1399.8,722.5 1400.3,725.6 1400.7,729.0 1400.9,732.6 1401.2,736.3 1401.5,740.0 1401.8,743.2 1402.0,746.6 1402.3,750.0 1402.6,753.4 1403.0,756.8 1403.5,760.0 1404.2,763.1 1405.0,766.1 1406.0,769.1 1406.9,771.9 1407.8,774.8 1408.5,777.5 1409.3,780.7 1410.0,783.7 1410.7,786.6 1411.0,789.5 1411.0,792.5 1410.5,795.5 1409.7,798.6 1408.5,801.6 1407.3,804.6 1406.0,807.5 1404.7,810.3 1403.2,813.1 1401.6,815.8 1400.0,818.5 1397.9,823.2 1399.8,823.8 1403.0,826.0 1406.0,828.8 1408.7,832.7 1412.2,835.0 1413.6,834.5 1414.4,834.2 1417.0,832.4 1419.8,830.2 1422.5,828.0 1425.0,826.2 1428.3,824.6 1431.2,823.3 1435.0,821.2 1437.2,819.8 1439.7,818.2 1442.4,816.3 1445.1,814.3 1447.8,812.4 1450.3,810.5 1452.5,808.8 1455.5,806.0 1458.0,803.5 1460.2,801.1 1462.5,798.8 1465.0,796.4 1467.5,794.1 1470.0,792.0 1472.5,790.0 1475.5,787.5 1478.4,785.4 1482.5,783.8 1485.3,783.3 1488.7,783.0 1492.3,782.9 1496.0,782.9 1499.5,782.8 1502.5,782.5 1506.0,781.9 1508.8,781.2 1511.5,780.4 1515.0,779.5 1513.7,776.6 1512.3,773.7 1511.0,770.8 1509.8,767.9 1508.8,765.0 1508.0,762.1 1507.4,759.2 1506.9,756.2 1506.6,753.2 1506.2,750.0 1506.0,746.7 1505.8,743.2 1505.7,739.6 1505.6,736.0 1505.5,732.5 1505.4,729.0 1505.2,725.4 1505.1,721.8 1504.8,718.3 1504.5,715.0 1504.0,711.8 1503.4,708.7 1502.7,705.7 1501.9,702.8 1501.2,700.0 1500.4,696.6 1499.6,693.4 1498.8,690.3 1498.0,687.5 1497.0,684.3 1496.0,681.5Z" fill="#f3d85c"/>
<path d="M1535.6,678.8 1535.0,678.8 1532.0,678.6 1529.0,678.4 1526.0,678.3 1523.0,678.2 1520.0,678.0 1516.9,677.8 1513.8,677.5 1510.6,677.2 1507.7,677.0 1505.0,677.0 1501.5,677.4 1498.5,678.1 1495.0,678.8 1496.0,681.5 1497.0,684.3 1498.0,687.5 1498.8,690.3 1499.6,693.4 1500.4,696.6 1501.2,700.0 1501.9,702.8 1502.7,705.7 1503.4,708.7 1504.0,711.8 1504.5,715.0 1504.8,718.3 1505.1,721.8 1505.2,725.4 1505.4,729.0 1505.5,732.5 1505.6,736.0 1505.7,739.6 1505.8,743.2 1506.0,746.7 1506.2,750.0 1506.6,753.2 1506.9,756.2 1507.4,759.2 1508.0,762.1 1508.8,765.0 1509.8,767.9 1511.0,770.8 1512.3,773.7 1513.7,776.6 1515.0,779.5 1518.0,778.8 1521.3,778.0 1524.8,777.2 1528.4,776.4 1531.9,775.7 1535.0,775.0 1538.3,774.4 1541.4,773.9 1544.2,773.4 1547.1,773.0 1550.0,772.5 1553.0,772.0 1556.0,771.6 1559.0,771.1 1562.0,770.6 1565.0,770.0 1568.0,769.3 1571.0,768.6 1574.0,767.8 1577.0,767.0 1580.0,766.2 1583.0,765.5 1586.1,764.8 1589.2,764.1 1592.2,763.3 1595.0,762.5 1598.3,761.3 1601.4,760.0 1604.4,758.7 1607.5,757.5 1610.7,756.3 1613.8,755.2 1617.0,754.2 1620.0,753.8 1623.8,754.0 1627.3,753.7 1631.2,752.5 1633.8,751.3 1636.6,749.7 1639.6,748.0 1642.5,746.2 1645.7,744.5 1649.2,742.7 1652.2,740.8 1653.8,738.8 1653.0,735.7 1650.3,732.4 1647.5,728.8 1645.8,725.8 1644.0,722.7 1642.1,719.5 1640.0,716.2 1638.2,713.6 1636.2,710.8 1634.1,708.0 1632.0,705.2 1630.0,702.5 1627.9,699.9 1625.8,697.3 1623.7,694.8 1621.7,692.3 1620.0,690.0 1617.8,686.4 1616.0,683.1 1614.5,680.0 1613.4,676.8 1612.6,673.7 1611.2,671.2 1608.0,668.9 1603.8,668.0 1600.3,668.6 1596.5,669.9 1592.5,671.2 1589.5,672.2 1586.5,673.1 1583.3,674.1 1580.0,675.0 1577.2,675.7 1574.2,676.3 1571.1,676.9 1568.0,677.5 1565.0,678.0 1562.0,678.5 1559.0,679.0 1556.0,679.5 1553.0,679.8 1550.0,680.0 1547.0,679.9 1544.0,679.7 1541.0,679.4 1538.0,679.0Z" fill="#f4ee82"/>
<path d="M1853.3,807.8 1847.8,810.2 1845.0,812.4 1842.5,815.0 1840.1,818.1 1837.9,821.6 1836.2,825.0 1835.2,828.4 1834.8,831.9 1835.0,835.0 1836.1,837.8 1837.9,840.4 1840.0,842.5 1843.7,844.7 1847.5,846.2 1850.7,847.2 1855.6,847.9Z" fill="#f4ee82"/>
<path d="M1289.8,1270.2 1290.1,1266.7 1290.7,1263.0 1291.1,1259.4 1291.3,1256.1 1291.0,1253.5 1289.1,1250.8 1286.3,1249.4 1283.5,1247.8 1281.0,1245.5 1278.5,1243.0 1276.0,1240.2 1274.1,1238.0 1272.2,1235.5 1270.3,1232.9 1268.5,1230.2 1266.8,1227.6 1265.3,1224.8 1263.8,1221.9 1262.2,1219.0 1260.7,1216.0 1259.1,1212.8 1257.6,1209.7 1256.0,1206.5 1254.4,1203.4 1252.7,1200.2 1251.1,1197.1 1249.8,1194.0 1248.6,1190.9 1247.7,1187.8 1246.9,1184.6 1246.0,1181.5 1245.1,1178.4 1244.1,1175.2 1243.2,1172.1 1242.2,1169.0 1241.3,1165.8 1240.4,1162.5 1239.4,1159.3 1238.5,1156.5 1236.9,1151.8 1234.8,1148.5 1231.1,1147.0 1226.0,1146.5 1223.4,1146.5 1220.6,1146.6 1217.5,1146.8 1214.3,1146.9 1211.0,1147.0 1207.7,1147.0 1204.2,1147.0 1200.6,1146.9 1197.0,1146.8 1193.5,1146.5 1190.0,1146.0 1186.5,1145.4 1183.0,1144.7 1179.5,1144.1 1176.0,1143.5 1172.5,1142.9 1169.0,1142.4 1165.5,1141.8 1162.0,1141.5 1158.5,1141.5 1154.9,1141.8 1151.3,1142.4 1147.7,1143.2 1144.3,1144.2 1141.0,1145.2 1138.0,1146.7 1135.3,1148.6 1132.8,1150.6 1130.1,1152.1 1127.2,1152.8 1125.0,1155.0 1122.8,1157.2 1120.6,1159.4 1118.3,1161.7 1116.0,1164.0 1113.5,1166.5 1110.9,1169.1 1108.3,1171.8 1105.8,1174.3 1103.5,1176.5 1099.8,1179.2 1096.6,1181.3 1094.8,1184.0 1094.8,1186.7 1095.7,1189.8 1097.1,1193.1 1098.5,1196.5 1099.6,1199.3 1100.8,1202.3 1102.1,1205.4 1103.5,1208.5 1104.8,1211.5 1106.0,1214.5 1107.2,1217.5 1108.4,1220.5 1109.7,1223.5 1111.0,1226.5 1112.5,1229.5 1114.0,1232.5 1115.6,1235.5 1117.1,1238.5 1118.5,1241.5 1119.7,1244.5 1120.7,1247.6 1121.7,1250.7 1122.6,1253.7 1123.5,1256.5 1124.5,1259.8 1125.5,1263.0 1126.4,1266.0 1127.2,1269.0 1128.7,1272.7 1130.0,1276.4 1130.5,1280.2 1130.0,1283.6 1129.1,1287.2 1127.7,1290.8 1126.0,1294.0 1123.9,1296.8 1121.3,1299.2 1118.6,1301.6 1116.0,1304.0 1113.3,1306.4 1110.5,1308.7 1108.0,1311.1 1106.0,1314.0 1105.0,1316.7 1104.9,1317.4 1104.4,1319.6 1104.0,1322.8 1103.8,1325.9 1103.5,1329.0 1103.2,1332.0 1103.1,1335.0 1103.0,1338.0 1102.8,1341.0 1102.2,1344.0 1101.2,1347.0 1099.6,1350.1 1098.0,1353.1 1096.7,1356.1 1096.0,1359.0 1096.2,1362.6 1097.1,1366.1 1098.5,1369.4 1100.0,1372.5 1101.7,1375.2 1103.7,1377.5 1105.7,1379.8 1107.5,1382.5 1108.9,1385.7 1110.2,1389.1 1111.3,1392.7 1112.5,1396.2 1115.7,1394.4 1119.0,1392.5 1122.5,1390.0 1124.8,1387.9 1127.2,1385.3 1129.7,1382.6 1132.3,1379.9 1135.0,1377.5 1137.4,1375.7 1140.1,1374.0 1142.8,1372.4 1145.4,1370.8 1147.8,1369.2 1150.0,1367.5 1152.4,1364.7 1154.2,1361.8 1156.1,1358.9 1158.5,1356.5 1161.1,1354.9 1164.0,1353.5 1167.2,1352.3 1170.4,1351.2 1173.5,1350.2 1176.5,1349.4 1179.5,1348.7 1182.5,1348.0 1185.5,1347.5 1188.5,1347.0 1191.5,1346.6 1194.6,1346.4 1197.7,1346.2 1200.7,1345.9 1203.5,1345.2 1206.9,1344.1 1210.1,1342.6 1213.1,1340.9 1216.0,1339.0 1218.7,1336.8 1221.2,1334.4 1223.6,1331.8 1226.0,1329.0 1228.0,1326.7 1230.0,1324.2 1232.0,1321.6 1234.0,1319.0 1236.0,1316.5 1238.0,1314.0 1240.0,1311.4 1242.0,1308.8 1244.0,1306.3 1246.0,1304.0 1248.5,1301.3 1251.0,1298.8 1253.5,1296.4 1256.0,1294.0 1258.4,1291.5 1260.8,1288.9 1263.3,1286.4 1266.0,1284.0 1268.4,1282.1 1270.9,1280.2 1273.5,1278.4 1276.0,1276.7 1278.5,1275.2 1281.4,1273.6 1284.2,1272.2 1287.0,1271.0Z" fill="#f4ee82"/>
<path d="M1291.0,1253.5 1291.3,1256.1 1291.1,1259.4 1290.7,1263.0 1290.1,1266.7 1289.8,1270.2 1293.5,1269.9 1297.3,1270.3 1301.0,1271.0 1304.5,1272.0 1307.8,1273.5 1311.0,1275.2 1314.1,1277.5 1317.1,1280.0 1319.8,1282.8 1322.0,1285.7 1323.9,1288.9 1326.0,1291.5 1329.2,1294.3 1333.5,1296.0 1336.0,1296.4 1339.0,1296.5 1342.1,1296.6 1345.4,1296.5 1348.5,1296.5 1351.5,1296.5 1354.5,1296.4 1357.5,1296.3 1360.5,1296.2 1363.5,1296.0 1366.5,1295.7 1369.6,1295.4 1372.7,1295.1 1375.7,1294.8 1378.5,1294.5 1381.9,1294.2 1385.1,1294.0 1388.1,1293.9 1391.0,1294.0 1394.5,1294.5 1397.7,1295.3 1401.0,1296.5 1403.6,1297.8 1406.2,1299.4 1408.9,1301.1 1411.9,1302.7 1411.2,1232.6 1500.0,1224.5 1496.3,1121.3 1493.8,1122.5 1491.3,1123.4 1488.2,1124.5 1485.0,1126.2 1482.5,1128.1 1479.9,1130.4 1477.4,1132.8 1475.0,1135.0 1472.4,1137.5 1470.1,1140.0 1467.5,1142.5 1465.2,1144.7 1462.7,1147.0 1460.1,1149.2 1457.5,1151.2 1454.4,1153.6 1451.2,1155.7 1447.5,1157.5 1444.8,1158.4 1441.9,1159.2 1438.7,1160.0 1435.6,1160.6 1432.5,1161.2 1429.5,1161.8 1426.6,1162.4 1423.7,1162.9 1420.7,1163.3 1417.5,1163.8 1414.2,1164.1 1410.7,1164.5 1407.2,1164.8 1403.6,1165.1 1400.0,1165.5 1397.0,1165.8 1394.0,1166.1 1391.0,1166.5 1388.0,1166.8 1385.0,1167.2 1381.1,1167.4 1381.0,1168.5 1378.5,1169.7 1374.7,1170.3 1371.0,1171.0 1367.7,1172.2 1364.3,1173.6 1361.0,1175.2 1357.6,1177.1 1354.1,1179.2 1351.0,1181.5 1348.3,1184.1 1345.8,1187.1 1343.5,1190.2 1341.9,1192.9 1340.5,1195.7 1339.0,1198.6 1337.2,1201.5 1335.3,1204.3 1333.1,1207.2 1330.8,1210.0 1328.5,1212.8 1326.1,1215.3 1323.6,1217.8 1321.0,1220.3 1318.5,1222.8 1316.0,1225.2 1313.5,1227.8 1311.0,1230.2 1308.5,1232.8 1305.9,1235.2 1303.3,1237.7 1300.8,1240.2 1298.5,1242.8 1296.4,1245.4 1294.6,1248.1 1292.8,1250.8Z" fill="#993f28"/>
<path d="M1127.2,1152.8 1130.1,1152.1 1132.8,1150.6 1135.3,1148.6 1138.0,1146.7 1141.0,1145.2 1144.3,1144.2 1147.7,1143.2 1151.3,1142.4 1154.9,1141.8 1158.5,1141.5 1162.0,1141.5 1165.5,1141.8 1169.0,1142.4 1172.5,1142.9 1176.0,1143.5 1179.5,1144.1 1183.0,1144.7 1186.5,1145.4 1190.0,1146.0 1193.5,1146.5 1197.0,1146.8 1200.6,1146.9 1204.2,1147.0 1207.7,1147.0 1211.0,1147.0 1214.3,1146.9 1217.5,1146.8 1220.6,1146.6 1223.4,1146.5 1226.0,1146.5 1231.1,1147.0 1234.8,1148.5 1236.9,1151.8 1238.5,1156.5 1239.4,1159.3 1240.4,1162.5 1241.3,1165.8 1242.2,1169.0 1243.2,1172.1 1244.1,1175.2 1245.1,1178.4 1246.0,1181.5 1246.9,1184.6 1247.7,1187.8 1248.6,1190.9 1249.8,1194.0 1251.1,1197.1 1252.7,1200.2 1254.4,1203.4 1256.0,1206.5 1257.6,1209.7 1259.1,1212.8 1260.7,1216.0 1262.2,1219.0 1263.8,1221.9 1265.3,1224.8 1266.8,1227.6 1268.5,1230.2 1270.3,1232.9 1272.2,1235.5 1274.1,1238.0 1276.0,1240.2 1278.5,1243.0 1281.0,1245.5 1283.5,1247.8 1286.3,1249.4 1289.1,1250.8 1291.0,1253.5 1292.8,1250.8 1294.6,1248.1 1296.4,1245.4 1298.5,1242.8 1300.8,1240.2 1303.3,1237.7 1305.9,1235.2 1308.5,1232.8 1311.0,1230.2 1313.5,1227.8 1316.0,1225.2 1318.5,1222.8 1321.0,1220.3 1323.6,1217.8 1326.1,1215.3 1328.5,1212.8 1330.8,1210.0 1333.1,1207.2 1335.3,1204.3 1337.2,1201.5 1339.0,1198.6 1340.5,1195.7 1341.9,1192.9 1343.5,1190.2 1345.8,1187.1 1348.3,1184.1 1351.0,1181.5 1354.1,1179.2 1357.6,1177.1 1361.0,1175.2 1364.3,1173.6 1367.7,1172.2 1371.0,1171.0 1374.7,1170.3 1378.5,1169.7 1381.0,1168.5 1381.1,1167.4 1381.3,1164.9 1380.0,1160.0 1379.5,1157.2 1378.8,1154.2 1378.2,1150.9 1377.5,1147.5 1377.0,1144.7 1376.5,1141.7 1376.0,1138.6 1375.5,1135.5 1375.0,1132.5 1374.6,1129.5 1374.1,1126.5 1373.7,1123.5 1373.3,1120.5 1373.0,1117.5 1372.8,1114.5 1372.6,1111.5 1372.4,1108.5 1372.2,1105.5 1372.0,1102.5 1371.6,1099.5 1371.2,1096.5 1370.7,1093.5 1370.3,1090.5 1370.0,1087.5 1369.7,1084.5 1369.5,1081.4 1369.4,1078.3 1369.4,1075.3 1369.5,1072.5 1369.9,1069.1 1370.5,1065.9 1371.4,1062.9 1372.5,1060.0 1374.0,1057.3 1375.8,1054.8 1377.8,1052.4 1380.0,1050.0 1382.3,1047.5 1384.8,1045.0 1387.4,1042.5 1390.0,1040.0 1392.4,1037.4 1394.8,1034.7 1397.3,1032.1 1400.0,1030.0 1402.9,1028.4 1406.1,1027.1 1409.3,1026.1 1412.5,1025.5 1415.6,1025.3 1418.6,1025.5 1421.7,1025.9 1425.0,1026.2 1427.9,1026.5 1430.9,1026.8 1434.0,1027.1 1437.0,1027.3 1440.0,1027.5 1443.8,1027.8 1447.8,1028.2 1451.3,1028.2 1453.8,1027.5 1454.9,1025.0 1454.7,1021.4 1454.5,1017.5 1454.9,1014.6 1455.3,1011.6 1455.8,1008.4 1456.2,1005.0 1456.5,1002.2 1456.7,999.2 1456.9,996.1 1457.2,993.0 1457.5,990.0 1457.9,987.0 1458.4,984.0 1458.9,981.0 1459.5,978.0 1460.0,975.0 1460.5,972.0 1460.9,968.9 1461.4,965.8 1461.9,962.8 1462.5,960.0 1463.5,956.7 1464.6,953.6 1465.8,950.6 1467.0,947.5 1468.7,944.3 1470.7,940.9 1472.2,937.8 1472.5,935.0 1471.1,932.8 1468.6,931.1 1465.5,929.4 1462.5,927.5 1460.1,925.7 1457.6,923.7 1455.0,921.6 1452.5,919.5 1450.0,917.5 1447.6,915.5 1445.1,913.6 1442.7,911.7 1440.6,909.7 1438.8,907.5 1437.0,904.7 1435.8,901.7 1434.8,898.5 1433.8,895.0 1432.9,891.8 1432.2,888.2 1431.5,884.6 1430.8,880.9 1430.0,877.5 1429.1,874.3 1428.2,871.3 1427.2,868.4 1426.1,865.5 1425.0,862.5 1423.8,859.5 1422.5,856.4 1421.2,853.3 1419.9,850.3 1418.8,847.5 1417.4,844.2 1416.2,841.1 1415.0,838.1 1413.6,834.5 1412.2,835.0 1408.7,832.7 1406.0,828.8 1403.0,826.0 1399.8,823.8 1397.9,823.2 1395.6,822.5 1391.0,822.0 1387.9,822.2 1384.8,822.8 1381.0,823.8 1378.3,824.5 1375.4,825.4 1372.2,826.4 1369.1,827.5 1366.0,828.8 1363.0,830.0 1360.0,831.5 1357.0,833.0 1354.0,834.5 1351.0,836.2 1348.5,837.8 1346.0,839.4 1343.5,841.0 1341.0,842.7 1338.5,844.5 1336.0,846.2 1333.5,848.1 1331.0,850.0 1328.5,852.0 1326.0,853.9 1323.5,855.8 1321.0,857.5 1318.0,859.5 1315.0,861.3 1312.0,863.0 1309.0,864.7 1306.0,866.2 1303.0,867.7 1300.1,869.1 1297.2,870.3 1294.2,871.5 1291.0,872.5 1287.7,873.4 1284.2,874.1 1280.6,874.8 1277.0,875.3 1273.5,875.8 1270.0,876.1 1266.4,876.3 1262.8,876.4 1259.3,876.4 1256.0,876.2 1252.8,876.0 1249.8,875.5 1246.9,875.0 1244.0,874.4 1241.0,873.8 1238.0,873.1 1234.9,872.5 1231.8,871.7 1228.8,870.9 1226.0,870.0 1222.7,868.6 1219.6,866.9 1216.6,865.2 1213.5,863.8 1210.4,862.6 1207.2,861.6 1204.1,860.7 1201.0,860.0 1197.8,859.4 1194.5,858.8 1191.4,858.6 1188.5,858.8 1185.0,859.7 1182.0,861.4 1179.8,863.8 1178.5,867.2 1178.0,871.3 1178.5,875.0 1180.3,877.8 1183.0,880.2 1186.0,882.5 1189.1,884.6 1192.6,886.6 1196.0,888.8 1198.6,890.5 1201.3,892.3 1203.8,894.3 1206.0,896.2 1208.5,899.0 1210.6,901.9 1211.5,905.0 1210.9,908.3 1209.2,911.7 1207.2,915.0 1205.4,918.2 1203.3,921.3 1201.0,923.8 1198.4,925.5 1195.4,926.6 1192.2,927.0 1188.6,926.6 1184.8,925.5 1181.0,923.8 1178.4,922.0 1175.9,919.8 1173.5,917.4 1171.0,915.0 1168.5,912.6 1165.9,910.1 1163.4,907.5 1161.0,905.0 1158.7,902.5 1156.4,900.0 1154.2,897.5 1152.2,895.0 1149.9,891.6 1147.8,888.1 1146.0,885.0 1144.3,881.1 1142.3,877.6 1142.2,877.5 1139.8,874.9 1136.7,872.3 1133.5,870.0 1130.4,868.1 1127.1,866.4 1123.5,865.0 1120.6,864.1 1117.6,863.4 1114.4,862.8 1111.0,862.5 1108.2,862.5 1105.2,862.7 1102.1,863.0 1099.0,863.4 1096.0,863.8 1093.0,864.1 1090.1,864.5 1087.1,865.0 1084.1,865.6 1081.0,866.2 1077.5,866.9 1073.8,867.7 1070.1,868.5 1066.9,869.6 1064.8,871.2 1063.7,874.1 1063.9,877.7 1064.8,881.4 1066.0,885.0 1067.4,888.3 1069.4,891.6 1071.5,894.7 1073.5,897.5 1076.0,900.7 1078.4,903.6 1081.0,906.2 1084.0,908.6 1087.2,910.8 1089.8,913.8 1091.1,916.8 1092.1,920.3 1092.9,924.0 1093.5,927.5 1094.0,930.7 1094.2,933.7 1094.4,936.7 1094.8,940.0 1095.2,942.8 1095.9,945.8 1096.5,948.9 1097.1,952.0 1097.2,955.0 1097.1,958.0 1096.7,961.1 1096.1,964.2 1095.4,967.2 1094.8,970.0 1093.9,973.3 1092.9,976.4 1091.9,979.4 1091.0,982.5 1090.2,985.6 1089.4,988.7 1088.8,991.8 1088.5,995.0 1088.5,998.3 1088.7,1001.7 1089.2,1005.2 1089.8,1009.0 1090.2,1012.4 1090.8,1016.2 1091.4,1020.1 1092.3,1023.6 1093.5,1026.5 1095.6,1029.1 1098.3,1030.9 1101.0,1032.4 1103.5,1034.0 1106.4,1036.3 1109.1,1038.6 1111.0,1041.5 1111.9,1044.2 1112.4,1047.3 1112.5,1050.6 1112.2,1054.0 1111.7,1056.9 1110.7,1059.9 1109.5,1063.1 1108.3,1066.1 1107.2,1069.0 1106.0,1072.3 1104.8,1075.4 1103.5,1078.4 1102.2,1081.5 1100.9,1084.6 1099.5,1087.6 1098.2,1090.7 1097.2,1094.0 1096.7,1096.8 1096.4,1099.8 1096.1,1102.9 1096.0,1106.0 1096.0,1109.0 1096.1,1112.0 1096.4,1114.9 1096.8,1117.9 1097.1,1120.9 1097.2,1124.0 1096.9,1127.3 1096.1,1130.9 1095.5,1134.4 1095.2,1137.6 1096.0,1140.2 1097.9,1142.1 1100.8,1143.5 1104.1,1144.5 1107.7,1145.4 1111.0,1146.5 1114.2,1148.0 1117.5,1149.7 1120.9,1151.2 1124.1,1152.4Z" fill="#672629"/>
<path d="M1127.2,1152.8 1124.1,1152.4 1120.9,1151.2 1117.5,1149.7 1114.2,1148.0 1111.0,1146.5 1107.7,1145.4 1104.1,1144.5 1100.8,1143.5 1097.9,1142.1 1096.0,1140.2 1092.5,1141.1 1089.0,1142.0 1085.6,1142.9 1082.5,1143.8 1078.8,1144.8 1075.4,1146.0 1072.5,1147.5 1070.1,1149.6 1068.2,1152.2 1066.2,1155.0 1064.2,1158.2 1062.2,1161.8 1060.0,1165.0 1057.8,1167.7 1055.4,1170.2 1052.5,1172.5 1049.8,1174.2 1046.7,1175.9 1043.4,1177.4 1040.0,1178.8 1037.2,1179.6 1034.2,1180.4 1031.1,1181.0 1028.0,1181.7 1025.0,1182.5 1022.1,1183.4 1019.2,1184.4 1016.4,1185.4 1013.3,1186.4 1010.0,1187.5 1007.0,1188.4 1003.7,1189.4 1000.3,1190.4 996.9,1191.4 993.4,1192.3 990.0,1193.0 986.7,1193.5 983.3,1194.0 980.0,1194.3 976.7,1194.5 973.3,1194.8 970.0,1195.0 966.7,1195.2 963.3,1195.5 960.0,1195.6 956.7,1195.8 953.3,1196.0 950.0,1196.2 946.7,1196.5 943.3,1196.8 940.0,1197.1 936.7,1197.4 933.3,1197.7 930.0,1198.0 926.7,1198.3 923.3,1198.5 920.0,1198.8 916.7,1199.0 913.3,1199.2 910.0,1199.5 906.6,1199.8 903.2,1200.0 899.8,1200.3 896.5,1200.6 893.2,1200.9 890.0,1201.2 886.3,1201.7 882.8,1202.1 879.4,1202.6 876.0,1203.2 872.5,1203.8 868.9,1204.4 865.3,1205.2 861.6,1205.9 858.2,1206.7 855.0,1207.5 851.5,1208.4 848.4,1209.4 845.5,1210.3 840.8,1211.9 841.3,1213.1 842.4,1216.1 843.3,1219.2 843.8,1222.5 843.7,1225.4 843.3,1228.4 842.6,1231.6 841.9,1234.6 841.2,1237.5 841.2,1237.8 845.9,1237.3 848.8,1237.1 851.8,1237.0 855.0,1237.0 858.3,1237.0 861.8,1237.1 865.4,1237.1 869.0,1237.3 872.5,1237.5 876.0,1237.8 879.4,1238.2 882.8,1238.6 886.3,1239.1 890.0,1239.5 893.2,1239.8 896.4,1240.1 899.7,1240.4 903.1,1240.7 906.5,1241.0 910.0,1241.2 913.2,1241.4 916.5,1241.5 920.0,1241.6 923.4,1241.6 926.7,1241.8 929.8,1242.1 932.5,1242.5 936.4,1243.8 939.5,1245.5 942.3,1247.2 945.0,1248.8 948.7,1250.0 952.1,1251.1 955.0,1252.5 957.0,1254.5 958.5,1257.0 960.0,1260.0 961.2,1262.7 962.3,1265.8 963.6,1269.1 965.0,1272.5 966.3,1275.3 967.6,1278.3 969.0,1281.4 970.6,1284.5 972.5,1287.5 974.3,1290.0 976.3,1292.6 978.4,1295.2 980.6,1297.7 982.9,1300.1 985.0,1302.5 987.5,1305.2 990.0,1307.7 992.5,1310.1 995.0,1312.5 997.5,1315.0 1000.0,1317.5 1002.6,1320.1 1005.2,1322.7 1007.7,1325.2 1010.0,1327.5 1012.7,1330.3 1015.2,1332.9 1017.6,1335.3 1020.0,1337.5 1023.1,1340.0 1026.3,1342.2 1030.0,1343.8 1032.7,1344.3 1035.6,1344.7 1038.8,1344.8 1041.9,1344.9 1045.0,1345.0 1048.0,1345.1 1051.1,1345.2 1054.2,1345.2 1057.2,1345.2 1060.0,1345.0 1063.4,1344.6 1066.6,1344.1 1069.6,1343.4 1072.5,1342.5 1076.1,1340.8 1079.4,1338.7 1082.5,1336.2 1085.0,1333.6 1087.2,1330.6 1090.0,1327.5 1092.2,1325.5 1094.8,1323.4 1097.5,1321.3 1100.3,1319.1 1104.9,1317.4 1105.0,1316.7 1106.0,1314.0 1108.0,1311.1 1110.5,1308.7 1113.3,1306.4 1116.0,1304.0 1118.6,1301.6 1121.3,1299.2 1123.9,1296.8 1126.0,1294.0 1127.7,1290.8 1129.1,1287.2 1130.0,1283.6 1130.5,1280.2 1130.0,1276.4 1128.7,1272.7 1127.2,1269.0 1126.4,1266.0 1125.5,1263.0 1124.5,1259.8 1123.5,1256.5 1122.6,1253.7 1121.7,1250.7 1120.7,1247.6 1119.7,1244.5 1118.5,1241.5 1117.1,1238.5 1115.6,1235.5 1114.0,1232.5 1112.5,1229.5 1111.0,1226.5 1109.7,1223.5 1108.4,1220.5 1107.2,1217.5 1106.0,1214.5 1104.8,1211.5 1103.5,1208.5 1102.1,1205.4 1100.8,1202.3 1099.6,1199.3 1098.5,1196.5 1097.1,1193.1 1095.7,1189.8 1094.8,1186.7 1094.8,1184.0 1096.6,1181.3 1099.8,1179.2 1103.5,1176.5 1105.8,1174.3 1108.3,1171.8 1110.9,1169.1 1113.5,1166.5 1116.0,1164.0 1118.3,1161.7 1120.6,1159.4 1122.8,1157.2 1125.0,1155.0Z" fill="#f3d85c"/>
<path d="M1096.0,1140.2 1095.2,1137.6 1095.5,1134.4 1096.1,1130.9 1096.9,1127.3 1097.2,1124.0 1097.1,1120.9 1096.8,1117.9 1096.4,1114.9 1096.1,1112.0 1096.0,1109.0 1096.0,1106.0 1096.1,1102.9 1096.4,1099.8 1096.7,1096.8 1097.2,1094.0 1098.2,1090.7 1099.5,1087.6 1100.9,1084.6 1102.2,1081.5 1103.5,1078.4 1104.8,1075.4 1106.0,1072.3 1107.2,1069.0 1108.3,1066.1 1109.5,1063.1 1110.7,1059.9 1111.7,1056.9 1112.2,1054.0 1112.5,1050.6 1112.4,1047.3 1111.9,1044.2 1111.0,1041.5 1109.1,1038.6 1106.4,1036.3 1103.5,1034.0 1101.0,1032.4 1098.3,1030.9 1095.6,1029.1 1093.5,1026.5 1092.3,1023.6 1091.4,1020.1 1090.8,1016.2 1090.2,1012.4 1089.8,1009.0 1089.2,1005.2 1088.7,1001.7 1088.5,998.3 1088.5,995.0 1088.8,991.8 1089.4,988.7 1090.2,985.6 1091.0,982.5 1091.9,979.4 1092.9,976.4 1093.9,973.3 1094.8,970.0 1095.4,967.2 1096.1,964.2 1096.7,961.1 1097.1,958.0 1097.2,955.0 1097.1,952.0 1096.5,948.9 1095.9,945.8 1095.2,942.8 1094.8,940.0 1094.4,936.7 1094.2,933.7 1094.0,930.7 1093.5,927.5 1092.9,924.0 1092.1,920.3 1091.1,916.8 1089.8,913.8 1087.2,910.8 1084.0,908.6 1081.0,906.2 1078.4,903.6 1076.0,900.7 1073.5,897.5 1071.5,894.7 1069.4,891.6 1067.4,888.3 1066.0,885.0 1064.8,881.4 1063.9,877.7 1063.7,874.1 1064.8,871.2 1060.0,873.8 1057.6,874.8 1054.6,876.0 1051.3,877.3 1048.0,878.7 1045.0,880.0 1041.6,881.6 1038.4,883.2 1035.3,884.8 1032.5,886.2 1029.5,887.8 1026.9,889.2 1023.8,891.2 1021.3,893.1 1018.7,895.2 1015.8,897.6 1012.9,900.1 1010.0,902.5 1007.6,904.5 1005.1,906.6 1002.6,908.7 1000.0,910.8 997.5,912.9 995.0,915.0 992.5,917.1 990.0,919.2 987.5,921.2 985.0,923.3 982.5,925.4 980.0,927.5 977.5,929.6 975.1,931.8 972.7,933.9 970.2,936.0 967.6,938.1 965.0,940.0 962.3,941.8 959.4,943.5 956.6,945.2 953.6,946.8 950.6,948.4 947.5,950.0 944.8,951.5 941.9,953.0 939.0,954.5 936.0,956.0 933.1,957.4 930.2,958.8 927.5,960.0 924.4,961.3 921.4,962.4 918.4,963.4 915.6,964.3 912.7,965.3 910.0,966.2 906.8,967.5 903.7,968.7 900.7,969.9 897.8,971.2 895.0,972.5 891.6,974.3 888.4,976.1 885.4,978.0 882.5,980.0 879.8,982.1 877.3,984.3 874.9,986.5 872.5,988.8 870.1,991.0 867.7,993.2 865.2,995.4 862.5,997.5 859.6,999.6 856.6,1001.7 853.4,1003.6 850.0,1005.0 847.2,1005.7 844.2,1006.0 841.1,1006.1 838.0,1006.2 835.0,1006.2 832.0,1006.3 829.1,1006.3 826.2,1006.3 823.2,1006.2 820.0,1006.2 816.6,1006.3 813.1,1006.4 809.5,1006.6 806.0,1006.7 802.5,1007.0 799.1,1007.3 795.6,1007.6 792.2,1007.9 789.1,1008.5 786.2,1009.2 783.3,1010.7 780.9,1012.5 778.6,1014.4 776.2,1016.2 776.3,1018.8 774.8,1021.6 772.8,1024.5 771.2,1027.5 770.4,1030.5 769.6,1033.5 769.1,1036.7 768.8,1040.0 768.7,1042.8 768.9,1045.7 769.2,1048.7 769.6,1051.8 770.0,1055.0 770.4,1058.4 771.0,1061.9 771.5,1065.6 772.1,1069.1 772.5,1072.5 772.8,1075.6 773.1,1078.6 773.3,1081.4 773.5,1084.4 773.8,1087.5 774.1,1090.9 774.4,1094.4 774.8,1098.1 775.0,1101.6 775.0,1105.0 774.8,1108.2 774.3,1111.2 773.8,1114.1 773.1,1117.0 772.5,1120.0 771.8,1123.0 770.9,1126.0 770.0,1129.0 769.2,1132.0 768.8,1135.0 768.5,1138.1 768.5,1141.2 768.6,1144.4 769.0,1147.3 769.5,1150.0 770.8,1153.8 772.7,1156.9 775.0,1160.0 777.1,1162.3 779.6,1164.6 782.2,1166.8 785.0,1168.8 787.9,1170.5 790.9,1172.0 794.1,1173.5 797.5,1175.0 800.4,1176.2 803.4,1177.4 806.6,1178.7 809.6,1179.9 812.5,1181.2 815.9,1183.0 819.1,1184.8 822.2,1186.8 825.0,1188.8 827.5,1190.8 829.8,1192.8 831.8,1195.0 833.8,1197.5 835.5,1200.4 837.2,1203.5 838.7,1206.8 840.0,1210.0 840.8,1211.9 845.5,1210.3 848.4,1209.4 851.5,1208.4 855.0,1207.5 858.2,1206.7 861.6,1205.9 865.3,1205.2 868.9,1204.4 872.5,1203.8 876.0,1203.2 879.4,1202.6 882.8,1202.1 886.3,1201.7 890.0,1201.2 893.2,1200.9 896.5,1200.6 899.8,1200.3 903.2,1200.0 906.6,1199.8 910.0,1199.5 913.3,1199.2 916.7,1199.0 920.0,1198.8 923.3,1198.5 926.7,1198.3 930.0,1198.0 933.3,1197.7 936.7,1197.4 940.0,1197.1 943.3,1196.8 946.7,1196.5 950.0,1196.2 953.3,1196.0 956.7,1195.8 960.0,1195.6 963.3,1195.5 966.7,1195.2 970.0,1195.0 973.3,1194.8 976.7,1194.5 980.0,1194.3 983.3,1194.0 986.7,1193.5 990.0,1193.0 993.4,1192.3 996.9,1191.4 1000.3,1190.4 1003.7,1189.4 1007.0,1188.4 1010.0,1187.5 1013.3,1186.4 1016.4,1185.4 1019.2,1184.4 1022.1,1183.4 1025.0,1182.5 1028.0,1181.7 1031.1,1181.0 1034.2,1180.4 1037.2,1179.6 1040.0,1178.8 1043.4,1177.4 1046.7,1175.9 1049.8,1174.2 1052.5,1172.5 1055.4,1170.2 1057.8,1167.7 1060.0,1165.0 1062.2,1161.8 1064.2,1158.2 1066.2,1155.0 1068.2,1152.2 1070.1,1149.6 1072.5,1147.5 1075.4,1146.0 1078.8,1144.8 1082.5,1143.8 1085.6,1142.9 1089.0,1142.0 1092.5,1141.1Z" fill="#eebd48"/>
<path d="M1515.0,779.5 1511.5,780.4 1508.8,781.2 1506.0,781.9 1502.5,782.5 1499.5,782.8 1496.0,782.9 1492.3,782.9 1488.7,783.0 1485.3,783.3 1482.5,783.8 1478.4,785.4 1475.5,787.5 1472.5,790.0 1470.0,792.0 1467.5,794.1 1465.0,796.4 1462.5,798.8 1460.2,801.1 1458.0,803.5 1455.5,806.0 1452.5,808.8 1450.3,810.5 1447.8,812.4 1445.1,814.3 1442.4,816.3 1439.7,818.2 1437.2,819.8 1435.0,821.2 1431.2,823.3 1428.3,824.6 1425.0,826.2 1422.5,828.0 1419.8,830.2 1417.0,832.4 1414.4,834.2 1413.6,834.5 1415.0,838.1 1416.2,841.1 1417.4,844.2 1418.8,847.5 1419.9,850.3 1421.2,853.3 1422.5,856.4 1423.8,859.5 1425.0,862.5 1426.1,865.5 1427.2,868.4 1428.2,871.3 1429.1,874.3 1430.0,877.5 1430.8,880.9 1431.5,884.6 1432.2,888.2 1432.9,891.8 1433.8,895.0 1434.8,898.5 1435.8,901.7 1437.0,904.7 1438.8,907.5 1440.6,909.7 1442.7,911.7 1445.1,913.6 1447.6,915.5 1450.0,917.5 1452.5,919.5 1455.0,921.6 1457.6,923.7 1460.1,925.7 1462.5,927.5 1465.5,929.4 1468.6,931.1 1471.1,932.8 1472.5,935.0 1475.5,935.5 1478.5,935.9 1481.5,936.4 1484.5,936.9 1487.5,937.5 1490.5,938.2 1493.5,938.9 1496.5,939.7 1499.5,940.5 1502.5,941.2 1505.5,942.0 1508.5,942.7 1511.5,943.4 1514.5,944.2 1517.5,945.0 1520.5,945.9 1523.6,946.9 1526.7,947.9 1529.7,948.9 1532.5,950.0 1535.9,951.4 1539.2,952.9 1542.3,954.5 1545.0,956.2 1547.9,959.0 1550.2,962.0 1552.5,965.0 1554.9,967.9 1557.3,970.6 1560.0,973.0 1563.0,974.9 1566.2,976.4 1570.0,977.5 1572.7,978.0 1575.6,978.2 1578.8,978.4 1581.9,978.6 1585.0,978.8 1588.0,979.0 1591.0,979.2 1594.0,979.5 1597.0,979.8 1600.0,980.0 1603.0,980.2 1606.0,980.4 1609.0,980.7 1612.0,980.9 1615.0,981.2 1618.1,981.6 1621.3,982.1 1624.5,982.6 1627.4,983.1 1630.0,983.8 1633.5,984.9 1636.3,986.3 1638.8,988.0 1641.0,990.2 1643.0,992.8 1644.5,995.0 1646.7,998.3 1677.5,998.0 1672.7,886.2 1709.5,883.5 1709.4,880.2 1709.3,876.6 1709.1,873.1 1708.8,870.0 1707.9,866.6 1706.6,863.8 1705.0,861.2 1702.7,859.1 1700.0,857.3 1697.5,855.0 1695.1,851.9 1692.9,848.5 1691.2,845.0 1690.5,841.8 1690.3,838.5 1690.0,835.0 1689.6,832.0 1689.1,828.8 1688.4,825.5 1687.5,822.5 1685.7,818.9 1683.6,815.6 1681.2,812.5 1678.8,809.9 1676.2,807.6 1673.8,805.0 1671.4,801.9 1669.3,798.4 1667.5,795.0 1666.5,791.7 1665.9,788.4 1665.0,785.0 1664.0,782.2 1662.8,779.2 1661.5,776.3 1660.0,773.8 1657.8,770.9 1655.3,768.4 1652.5,766.2 1649.4,764.4 1646.0,762.8 1642.5,761.2 1639.8,759.9 1637.0,758.6 1634.1,757.3 1631.2,756.2 1627.5,755.0 1623.8,754.0 1623.8,754.0 1620.0,753.8 1617.0,754.2 1613.8,755.2 1610.7,756.3 1607.5,757.5 1604.4,758.7 1601.4,760.0 1598.3,761.3 1595.0,762.5 1592.2,763.3 1589.2,764.1 1586.1,764.8 1583.0,765.5 1580.0,766.2 1577.0,767.0 1574.0,767.8 1571.0,768.6 1568.0,769.3 1565.0,770.0 1562.0,770.6 1559.0,771.1 1556.0,771.6 1553.0,772.0 1550.0,772.5 1547.1,773.0 1544.2,773.4 1541.4,773.9 1538.3,774.4 1535.0,775.0 1531.9,775.7 1528.4,776.4 1524.8,777.2 1521.3,778.0 1518.0,778.8Z" fill="#672629"/>
<path d="M1453.8,1027.5 1451.3,1028.2 1447.8,1028.2 1443.8,1027.8 1440.0,1027.5 1437.0,1027.3 1434.0,1027.1 1430.9,1026.8 1427.9,1026.5 1425.0,1026.2 1421.7,1025.9 1418.6,1025.5 1415.6,1025.3 1412.5,1025.5 1409.3,1026.1 1406.1,1027.1 1402.9,1028.4 1400.0,1030.0 1397.3,1032.1 1394.8,1034.7 1392.4,1037.4 1390.0,1040.0 1387.4,1042.5 1384.8,1045.0 1382.3,1047.5 1380.0,1050.0 1377.8,1052.4 1375.8,1054.8 1374.0,1057.3 1372.5,1060.0 1371.4,1062.9 1370.5,1065.9 1369.9,1069.1 1369.5,1072.5 1369.4,1075.3 1369.4,1078.3 1369.5,1081.4 1369.7,1084.5 1370.0,1087.5 1370.3,1090.5 1370.7,1093.5 1371.2,1096.5 1371.6,1099.5 1372.0,1102.5 1372.2,1105.5 1372.4,1108.5 1372.6,1111.5 1372.8,1114.5 1373.0,1117.5 1373.3,1120.5 1373.7,1123.5 1374.1,1126.5 1374.6,1129.5 1375.0,1132.5 1375.5,1135.5 1376.0,1138.6 1376.5,1141.7 1377.0,1144.7 1377.5,1147.5 1378.2,1150.9 1378.8,1154.2 1379.5,1157.2 1380.0,1160.0 1381.3,1164.9 1381.1,1167.4 1385.0,1167.2 1388.0,1166.8 1391.0,1166.5 1394.0,1166.1 1397.0,1165.8 1400.0,1165.5 1403.6,1165.1 1407.2,1164.8 1410.7,1164.5 1414.2,1164.1 1417.5,1163.8 1420.7,1163.3 1423.7,1162.9 1426.6,1162.4 1429.5,1161.8 1432.5,1161.2 1435.6,1160.6 1438.7,1160.0 1441.9,1159.2 1444.8,1158.4 1447.5,1157.5 1451.2,1155.7 1454.4,1153.6 1457.5,1151.2 1460.1,1149.2 1462.7,1147.0 1465.2,1144.7 1467.5,1142.5 1470.1,1140.0 1472.4,1137.5 1475.0,1135.0 1477.4,1132.8 1479.9,1130.4 1482.5,1128.1 1485.0,1126.2 1488.2,1124.5 1491.3,1123.4 1493.8,1122.5 1496.3,1121.3 1496.2,1117.5 1518.5,1116.3 1520.0,1112.5 1521.4,1110.2 1523.2,1107.6 1525.0,1105.0 1526.7,1102.5 1528.3,1100.0 1530.0,1097.5 1526.6,1096.2 1523.8,1093.8 1520.5,1091.6 1517.5,1088.8 1515.7,1086.2 1514.0,1083.1 1512.5,1080.0 1511.2,1076.7 1510.0,1073.3 1508.8,1070.0 1507.6,1066.9 1506.5,1063.8 1505.0,1061.2 1502.9,1059.2 1500.3,1057.6 1497.5,1056.2 1494.4,1055.2 1491.1,1054.5 1487.5,1053.8 1484.5,1053.2 1481.2,1052.7 1478.0,1052.1 1475.0,1051.2 1471.4,1049.9 1468.1,1048.3 1465.0,1046.2 1462.2,1043.7 1459.6,1040.6 1457.5,1037.5 1456.0,1034.3 1454.9,1030.9Z" fill="#f4ee82"/>
<path d="M1472.5,935.0 1472.2,937.8 1470.7,940.9 1468.7,944.3 1467.0,947.5 1465.8,950.6 1464.6,953.6 1463.5,956.7 1462.5,960.0 1461.9,962.8 1461.4,965.8 1460.9,968.9 1460.5,972.0 1460.0,975.0 1459.5,978.0 1458.9,981.0 1458.4,984.0 1457.9,987.0 1457.5,990.0 1457.2,993.0 1456.9,996.1 1456.7,999.2 1456.5,1002.2 1456.2,1005.0 1455.8,1008.4 1455.3,1011.6 1454.9,1014.6 1454.5,1017.5 1454.7,1021.4 1454.9,1025.0 1453.8,1027.5 1454.9,1030.9 1456.0,1034.3 1457.5,1037.5 1459.6,1040.6 1462.2,1043.7 1465.0,1046.2 1468.1,1048.3 1471.4,1049.9 1475.0,1051.2 1478.0,1052.1 1481.2,1052.7 1484.5,1053.2 1487.5,1053.8 1491.1,1054.5 1494.4,1055.2 1497.5,1056.2 1500.3,1057.6 1502.9,1059.2 1505.0,1061.2 1506.5,1063.8 1507.6,1066.9 1508.8,1070.0 1510.0,1073.3 1511.2,1076.7 1512.5,1080.0 1514.0,1083.1 1515.7,1086.2 1517.5,1088.8 1520.5,1091.6 1523.8,1093.8 1526.6,1096.2 1530.0,1097.5 1533.0,1096.4 1536.3,1094.4 1540.0,1092.5 1542.9,1091.4 1546.1,1090.5 1549.3,1089.6 1552.5,1088.8 1555.6,1088.0 1558.8,1087.4 1561.9,1086.8 1565.0,1086.2 1568.2,1085.7 1571.4,1085.2 1574.5,1084.8 1577.5,1084.5 1581.1,1084.5 1584.6,1084.8 1587.8,1085.0 1585.0,998.8 1646.7,998.3 1644.5,995.0 1643.0,992.8 1641.0,990.2 1638.8,988.0 1636.3,986.3 1633.5,984.9 1630.0,983.8 1627.4,983.1 1624.5,982.6 1621.3,982.1 1618.1,981.6 1615.0,981.2 1612.0,980.9 1609.0,980.7 1606.0,980.4 1603.0,980.2 1600.0,980.0 1597.0,979.8 1594.0,979.5 1591.0,979.2 1588.0,979.0 1585.0,978.8 1581.9,978.6 1578.8,978.4 1575.6,978.2 1572.7,978.0 1570.0,977.5 1566.2,976.4 1563.0,974.9 1560.0,973.0 1557.3,970.6 1554.9,967.9 1552.5,965.0 1550.2,962.0 1547.9,959.0 1545.0,956.2 1542.3,954.5 1539.2,952.9 1535.9,951.4 1532.5,950.0 1529.7,948.9 1526.7,947.9 1523.6,946.9 1520.5,945.9 1517.5,945.0 1514.5,944.2 1511.5,943.4 1508.5,942.7 1505.5,942.0 1502.5,941.2 1499.5,940.5 1496.5,939.7 1493.5,938.9 1490.5,938.2 1487.5,937.5 1484.5,936.9 1481.5,936.4 1478.5,935.9 1475.5,935.5Z" fill="#f3d85c"/>
<path d="M1587.8,1085.0 1584.6,1084.8 1581.1,1084.5 1577.5,1084.5 1574.5,1084.8 1571.4,1085.2 1568.2,1085.7 1565.0,1086.2 1561.9,1086.8 1558.8,1087.4 1555.6,1088.0 1552.5,1088.8 1549.3,1089.6 1546.1,1090.5 1542.9,1091.4 1540.0,1092.5 1536.3,1094.4 1533.0,1096.4 1530.0,1097.5 1528.3,1100.0 1526.7,1102.5 1525.0,1105.0 1523.2,1107.6 1521.4,1110.2 1520.0,1112.5 1518.5,1116.3 1588.7,1112.5Z" fill="#993f28"/>
<path d="M1411.9,1302.7 1408.9,1301.1 1406.2,1299.4 1403.6,1297.8 1401.0,1296.5 1397.7,1295.3 1394.5,1294.5 1391.0,1294.0 1388.1,1293.9 1385.1,1294.0 1381.9,1294.2 1378.5,1294.5 1375.7,1294.8 1372.7,1295.1 1369.6,1295.4 1366.5,1295.7 1363.5,1296.0 1360.5,1296.2 1357.5,1296.3 1354.5,1296.4 1351.5,1296.5 1348.5,1296.5 1345.4,1296.5 1342.1,1296.6 1339.0,1296.5 1336.0,1296.4 1333.5,1296.0 1329.2,1294.3 1326.0,1291.5 1323.9,1288.9 1322.0,1285.7 1319.8,1282.8 1317.1,1280.0 1314.1,1277.5 1311.0,1275.2 1307.8,1273.5 1304.5,1272.0 1301.0,1271.0 1297.3,1270.3 1293.5,1269.9 1289.8,1270.2 1287.0,1271.0 1284.2,1272.2 1281.4,1273.6 1278.5,1275.2 1276.0,1276.7 1273.5,1278.4 1270.9,1280.2 1268.4,1282.1 1266.0,1284.0 1263.3,1286.4 1260.8,1288.9 1258.4,1291.5 1256.0,1294.0 1253.5,1296.4 1251.0,1298.8 1248.5,1301.3 1246.0,1304.0 1244.0,1306.3 1242.0,1308.8 1240.0,1311.4 1238.0,1314.0 1236.0,1316.5 1234.0,1319.0 1232.0,1321.6 1230.0,1324.2 1228.0,1326.7 1226.0,1329.0 1223.6,1331.8 1221.2,1334.4 1218.7,1336.8 1216.0,1339.0 1213.1,1340.9 1210.1,1342.6 1206.9,1344.1 1203.5,1345.2 1200.7,1345.9 1197.7,1346.2 1194.6,1346.4 1191.5,1346.6 1188.5,1347.0 1185.5,1347.5 1182.5,1348.0 1179.5,1348.7 1176.5,1349.4 1173.5,1350.2 1170.4,1351.2 1167.2,1352.3 1164.0,1353.5 1161.1,1354.9 1158.5,1356.5 1156.1,1358.9 1154.2,1361.8 1152.4,1364.7 1150.0,1367.5 1147.8,1369.2 1145.4,1370.8 1142.8,1372.4 1140.1,1374.0 1137.4,1375.7 1135.0,1377.5 1132.3,1379.9 1129.7,1382.6 1127.2,1385.3 1124.8,1387.9 1122.5,1390.0 1119.0,1392.5 1115.7,1394.4 1112.5,1396.2 1109.3,1398.4 1106.0,1400.6 1102.5,1402.5 1099.6,1403.7 1096.6,1404.7 1093.4,1405.5 1090.0,1406.2 1087.2,1406.7 1084.2,1407.1 1081.1,1407.4 1078.0,1407.7 1075.0,1408.0 1072.0,1408.3 1068.9,1408.6 1065.8,1409.0 1062.8,1409.4 1060.0,1410.0 1056.7,1411.0 1053.6,1412.2 1050.6,1413.6 1047.5,1415.0 1044.3,1416.5 1040.9,1418.0 1037.8,1419.7 1035.0,1421.2 1032.0,1423.1 1029.5,1425.0 1027.5,1427.5 1026.3,1430.2 1025.3,1433.4 1024.5,1436.7 1023.8,1440.0 1023.0,1443.1 1022.3,1446.2 1021.8,1449.4 1021.2,1452.5 1020.9,1455.6 1020.8,1458.8 1020.5,1461.9 1020.0,1465.0 1019.0,1468.2 1017.7,1471.5 1016.2,1474.6 1015.0,1477.5 1013.4,1480.4 1012.0,1482.9 1011.2,1486.2 1011.3,1489.0 1011.7,1492.3 1012.4,1495.7 1013.1,1499.2 1013.8,1502.5 1014.4,1505.6 1015.2,1508.6 1015.9,1511.6 1016.7,1514.5 1017.5,1517.5 1018.3,1520.5 1019.2,1523.6 1020.0,1526.7 1020.7,1529.7 1021.2,1532.5 1021.7,1535.8 1021.9,1538.9 1021.8,1541.9 1021.2,1545.0 1020.3,1548.1 1018.9,1551.2 1017.1,1554.4 1015.0,1557.5 1012.9,1560.0 1010.5,1562.6 1007.8,1565.2 1005.1,1567.7 1002.5,1570.0 1000.0,1572.1 997.6,1574.1 995.2,1575.9 992.7,1577.9 990.0,1580.0 987.6,1581.9 985.1,1584.0 982.5,1586.1 979.9,1588.2 977.4,1590.4 975.0,1592.5 972.3,1595.0 969.6,1597.4 967.1,1599.9 964.7,1602.4 962.5,1605.0 960.5,1607.7 958.7,1610.4 957.1,1613.2 955.4,1616.0 953.8,1618.8 955.8,1621.4 957.2,1624.4 958.8,1627.5 960.6,1630.7 962.7,1634.1 965.0,1637.5 967.2,1639.9 969.6,1642.3 971.9,1644.8 973.8,1647.5 974.9,1650.4 975.6,1653.6 976.0,1656.8 976.2,1660.0 976.2,1663.2 975.9,1666.4 975.5,1669.6 975.0,1672.5 974.3,1676.0 973.4,1679.2 972.5,1682.5 971.7,1686.0 970.8,1689.5 970.0,1695.4 978.8,1695.4 981.5,1691.6 984.3,1689.7 987.1,1687.8 990.0,1686.2 993.0,1685.0 996.0,1684.1 999.2,1683.3 1002.5,1682.5 1005.3,1681.8 1008.3,1681.2 1011.4,1680.6 1014.5,1680.0 1017.5,1679.5 1020.5,1679.1 1023.4,1678.7 1026.3,1678.4 1029.3,1678.1 1032.5,1678.0 1035.3,1678.0 1038.3,1678.1 1041.3,1678.2 1044.4,1678.4 1047.5,1678.6 1050.8,1678.7 1047.5,1581.3 1235.5,1575.0 1231.0,1466.0 1324.6,1463.0 1322.3,1350.3 1412.3,1346.5Z" fill="#c56e25"/>
<path d="M1011.2,1486.2 1012.0,1482.9 1013.4,1480.4 1015.0,1477.5 1016.2,1474.6 1017.7,1471.5 1019.0,1468.2 1020.0,1465.0 1020.5,1461.9 1020.8,1458.8 1020.9,1455.6 1021.2,1452.5 1021.8,1449.4 1022.3,1446.2 1023.0,1443.1 1023.8,1440.0 1024.5,1436.7 1025.3,1433.4 1026.3,1430.2 1027.5,1427.5 1029.5,1425.0 1032.0,1423.1 1035.0,1421.2 1037.8,1419.7 1040.9,1418.0 1044.3,1416.5 1047.5,1415.0 1050.6,1413.6 1053.6,1412.2 1056.7,1411.0 1060.0,1410.0 1062.8,1409.4 1065.8,1409.0 1068.9,1408.6 1072.0,1408.3 1075.0,1408.0 1078.0,1407.7 1081.1,1407.4 1084.2,1407.1 1087.2,1406.7 1090.0,1406.2 1093.4,1405.5 1096.6,1404.7 1099.6,1403.7 1102.5,1402.5 1106.0,1400.6 1109.3,1398.4 1112.5,1396.2 1111.3,1392.7 1110.2,1389.1 1108.9,1385.7 1107.5,1382.5 1105.7,1379.8 1103.7,1377.5 1101.7,1375.2 1100.0,1372.5 1098.5,1369.4 1097.1,1366.1 1096.2,1362.6 1096.0,1359.0 1096.7,1356.1 1098.0,1353.1 1099.6,1350.1 1101.2,1347.0 1102.2,1344.0 1102.8,1341.0 1103.0,1338.0 1103.1,1335.0 1103.2,1332.0 1103.5,1329.0 1103.8,1325.9 1104.0,1322.8 1104.4,1319.6 1104.9,1317.4 1100.3,1319.1 1097.5,1321.3 1094.8,1323.4 1092.2,1325.5 1090.0,1327.5 1087.2,1330.6 1085.0,1333.6 1082.5,1336.2 1079.4,1338.7 1076.1,1340.8 1072.5,1342.5 1069.6,1343.4 1066.6,1344.1 1063.4,1344.6 1060.0,1345.0 1057.2,1345.2 1054.2,1345.2 1051.1,1345.2 1048.0,1345.1 1045.0,1345.0 1041.9,1344.9 1038.8,1344.8 1035.6,1344.7 1032.7,1344.3 1030.0,1343.8 1026.3,1342.2 1023.1,1340.0 1020.0,1337.5 1017.6,1335.3 1015.2,1332.9 1012.7,1330.3 1010.0,1327.5 1007.7,1325.2 1005.2,1322.7 1002.6,1320.1 1000.0,1317.5 997.5,1315.0 995.0,1312.5 992.5,1310.1 990.0,1307.7 987.5,1305.2 985.0,1302.5 982.9,1300.1 980.6,1297.7 978.4,1295.2 976.3,1292.6 974.3,1290.0 972.5,1287.5 970.6,1284.5 969.0,1281.4 967.6,1278.3 966.3,1275.3 965.0,1272.5 963.6,1269.1 962.3,1265.8 961.2,1262.7 960.0,1260.0 958.5,1257.0 957.0,1254.5 955.0,1252.5 952.1,1251.1 948.7,1250.0 945.0,1248.8 942.3,1247.2 939.5,1245.5 936.4,1243.8 932.5,1242.5 929.8,1242.1 926.7,1241.8 923.4,1241.6 920.0,1241.6 916.5,1241.5 913.2,1241.4 910.0,1241.2 906.5,1241.0 903.1,1240.7 899.7,1240.4 896.4,1240.1 893.2,1239.8 890.0,1239.5 886.3,1239.1 882.8,1238.6 879.4,1238.2 876.0,1237.8 872.5,1237.5 869.0,1237.3 865.4,1237.1 861.8,1237.1 858.3,1237.0 855.0,1237.0 851.8,1237.0 848.8,1237.1 845.9,1237.3 841.2,1237.8 840.4,1240.8 839.5,1243.9 838.6,1246.9 837.5,1250.0 836.4,1253.1 835.2,1256.1 834.0,1259.2 832.5,1262.5 831.2,1265.3 829.7,1268.3 828.1,1271.4 826.5,1274.5 825.0,1277.5 823.4,1280.5 821.8,1283.6 820.2,1286.7 818.8,1289.7 817.5,1292.5 816.3,1295.7 815.4,1298.6 814.6,1301.6 814.4,1302.2 817.2,1304.9 818.8,1307.3 820.5,1309.8 822.5,1312.5 824.4,1314.8 826.5,1317.3 828.7,1319.9 830.8,1322.5 832.5,1325.0 834.1,1328.2 835.3,1331.4 836.4,1334.6 837.5,1337.5 839.0,1341.0 840.5,1344.3 842.5,1347.5 844.6,1350.0 847.2,1352.5 849.9,1355.0 852.5,1357.5 855.1,1359.9 857.8,1362.3 860.4,1364.8 862.5,1367.5 864.1,1370.4 865.3,1373.4 866.4,1376.6 867.5,1380.0 868.5,1382.9 869.6,1385.9 870.6,1389.1 871.6,1392.1 872.5,1395.0 873.5,1398.3 874.3,1401.4 875.2,1404.4 876.2,1407.5 877.5,1410.6 879.0,1413.8 880.6,1416.9 882.5,1420.0 884.3,1422.6 886.2,1425.3 888.3,1428.0 890.4,1430.4 892.5,1432.5 895.6,1435.0 898.8,1436.7 902.5,1438.0 905.1,1438.6 908.0,1438.9 911.1,1439.2 914.3,1439.5 917.5,1440.0 920.3,1440.6 923.1,1441.4 926.1,1442.2 929.1,1443.1 932.1,1444.1 935.0,1445.0 937.9,1446.0 940.9,1446.9 943.9,1448.0 946.9,1449.0 949.7,1450.1 952.5,1451.2 955.7,1452.7 958.7,1454.2 961.6,1455.7 964.5,1457.2 967.5,1458.8 970.5,1460.2 973.5,1461.7 976.5,1463.2 979.5,1464.7 982.5,1466.2 985.5,1467.9 988.6,1469.5 991.6,1471.3 994.6,1473.1 997.5,1475.0 1000.3,1477.1 1003.1,1479.3 1005.8,1481.6 1008.5,1484.0Z" fill="#f3d85c"/>
<path d="M953.8,1618.8 955.4,1616.0 957.1,1613.2 958.7,1610.4 960.5,1607.7 962.5,1605.0 964.7,1602.4 967.1,1599.9 969.6,1597.4 972.3,1595.0 975.0,1592.5 977.4,1590.4 979.9,1588.2 982.5,1586.1 985.1,1584.0 987.6,1581.9 990.0,1580.0 992.7,1577.9 995.2,1575.9 997.6,1574.1 1000.0,1572.1 1002.5,1570.0 1005.1,1567.7 1007.8,1565.2 1010.5,1562.6 1012.9,1560.0 1015.0,1557.5 1017.1,1554.4 1018.9,1551.2 1020.3,1548.1 1021.2,1545.0 1021.8,1541.9 1021.9,1538.9 1021.7,1535.8 1021.2,1532.5 1020.7,1529.7 1020.0,1526.7 1019.2,1523.6 1018.3,1520.5 1017.5,1517.5 1016.7,1514.5 1015.9,1511.6 1015.2,1508.6 1014.4,1505.6 1013.8,1502.5 1013.1,1499.2 1012.4,1495.7 1011.7,1492.3 1011.3,1489.0 1011.2,1486.2 1008.5,1484.0 1005.8,1481.6 1003.1,1479.3 1000.3,1477.1 997.5,1475.0 994.6,1473.1 991.6,1471.3 988.6,1469.5 985.5,1467.9 982.5,1466.2 979.5,1464.7 976.5,1463.2 973.5,1461.7 970.5,1460.2 967.5,1458.8 964.5,1457.2 961.6,1455.7 958.7,1454.2 955.7,1452.7 952.5,1451.2 949.7,1450.1 946.9,1449.0 943.9,1448.0 940.9,1446.9 937.9,1446.0 935.0,1445.0 932.1,1444.1 929.1,1443.1 926.1,1442.2 923.1,1441.4 920.3,1440.6 917.5,1440.0 914.3,1439.5 911.1,1439.2 908.0,1438.9 905.1,1438.6 902.5,1438.0 898.8,1436.7 895.6,1435.0 892.5,1432.5 890.4,1430.4 888.3,1428.0 886.2,1425.3 884.3,1422.6 882.5,1420.0 880.6,1416.9 879.0,1413.8 877.5,1410.6 876.2,1407.5 875.2,1404.4 874.3,1401.4 873.5,1398.3 872.5,1395.0 871.6,1392.1 870.6,1389.1 869.6,1385.9 868.5,1382.9 867.5,1380.0 866.4,1376.6 865.3,1373.4 864.1,1370.4 862.5,1367.5 860.4,1364.8 857.8,1362.3 855.1,1359.9 852.5,1357.5 849.9,1355.0 847.2,1352.5 844.6,1350.0 842.5,1347.5 840.5,1344.3 839.0,1341.0 837.5,1337.5 836.4,1334.6 835.3,1331.4 834.1,1328.2 832.5,1325.0 830.8,1322.5 828.7,1319.9 826.5,1317.3 824.4,1314.8 822.5,1312.5 820.5,1309.8 818.8,1307.3 817.2,1304.9 814.4,1302.2 813.8,1305.0 813.1,1308.4 812.7,1312.2 812.1,1316.1 811.3,1319.6 810.0,1322.5 807.5,1324.9 804.3,1326.5 800.8,1327.7 797.5,1328.8 794.4,1329.8 791.2,1330.7 788.1,1331.4 785.0,1332.0 787.5,1334.6 790.0,1337.3 792.5,1339.9 795.0,1342.5 797.5,1345.0 800.0,1347.5 802.5,1350.0 805.0,1352.5 807.6,1354.9 810.3,1357.3 812.9,1359.8 815.0,1362.5 816.6,1365.4 817.9,1368.6 819.0,1371.8 820.0,1375.0 821.1,1378.1 822.0,1381.2 822.9,1384.4 823.8,1387.5 824.5,1390.6 825.2,1393.6 825.7,1396.7 826.2,1400.0 826.6,1402.8 826.8,1405.8 827.1,1408.9 827.3,1412.0 827.5,1415.0 827.7,1418.0 827.8,1421.1 827.9,1424.2 828.2,1427.2 828.8,1430.0 830.0,1433.3 831.7,1436.4 833.5,1439.4 835.0,1442.5 836.3,1445.6 837.4,1448.8 838.3,1451.9 838.8,1455.0 838.7,1458.2 838.3,1461.6 837.5,1464.7 836.2,1467.5 833.7,1470.2 830.4,1472.3 827.5,1475.0 825.9,1477.8 824.5,1480.9 823.3,1484.3 822.5,1487.5 822.1,1490.7 822.0,1493.9 822.1,1497.1 822.5,1500.0 823.8,1503.4 825.4,1506.6 826.2,1510.0 825.8,1513.2 824.8,1516.6 823.6,1519.9 822.5,1522.5 818.8,1526.2 817.4,1528.9 816.2,1531.4 817.4,1531.2 821.3,1530.8 824.8,1530.7 827.5,1531.2 829.7,1533.2 830.9,1536.0 831.6,1539.3 832.5,1542.5 833.5,1545.5 834.5,1548.7 835.3,1551.8 836.2,1555.0 837.2,1558.1 838.0,1561.2 839.0,1564.4 840.0,1567.5 841.2,1570.6 842.5,1573.8 843.8,1576.9 845.0,1580.0 846.0,1583.2 847.0,1586.3 847.8,1589.5 848.8,1592.5 850.0,1596.3 851.2,1600.0 852.5,1603.8 855.6,1602.4 858.8,1601.0 861.9,1599.8 865.0,1598.8 868.1,1597.9 871.2,1597.2 874.4,1596.7 877.5,1596.2 880.6,1596.0 883.6,1595.8 886.7,1595.8 890.0,1595.8 892.9,1595.7 895.9,1595.7 899.1,1595.8 902.1,1596.0 905.0,1596.2 908.3,1596.8 911.4,1597.6 914.4,1598.5 917.5,1599.5 920.6,1600.7 923.8,1602.0 926.9,1603.4 930.0,1605.0 933.2,1606.8 936.3,1608.7 939.5,1610.7 942.5,1612.5 945.5,1614.1 948.6,1615.5 951.4,1617.0Z" fill="#eebd48"/>
<path d="M816.2,1531.4 817.4,1528.9 818.8,1526.2 822.5,1522.5 823.6,1519.9 824.8,1516.6 825.8,1513.2 826.2,1510.0 825.4,1506.6 823.8,1503.4 822.5,1500.0 822.1,1497.1 822.0,1493.9 822.1,1490.7 822.5,1487.5 823.3,1484.3 824.5,1480.9 825.9,1477.8 827.5,1475.0 830.4,1472.3 833.7,1470.2 836.2,1467.5 837.5,1464.7 838.3,1461.6 838.7,1458.2 838.8,1455.0 838.3,1451.9 837.4,1448.8 836.3,1445.6 835.0,1442.5 833.5,1439.4 831.7,1436.4 830.0,1433.3 828.8,1430.0 828.2,1427.2 827.9,1424.2 827.8,1421.1 827.7,1418.0 827.5,1415.0 827.3,1412.0 827.1,1408.9 826.8,1405.8 826.6,1402.8 826.2,1400.0 825.7,1396.7 825.2,1393.6 824.5,1390.6 823.8,1387.5 822.9,1384.4 822.0,1381.2 821.1,1378.1 820.0,1375.0 819.0,1371.8 817.9,1368.6 816.6,1365.4 815.0,1362.5 812.9,1359.8 810.3,1357.3 807.6,1354.9 805.0,1352.5 802.5,1350.0 800.0,1347.5 797.5,1345.0 795.0,1342.5 792.5,1339.9 790.0,1337.3 787.5,1334.6 785.0,1332.0 781.8,1332.5 778.5,1332.9 775.3,1333.2 772.5,1333.8 769.5,1334.2 766.9,1334.9 764.0,1337.0 762.2,1338.8 760.3,1340.9 758.3,1343.4 756.2,1346.2 754.1,1349.4 752.0,1353.0 750.7,1355.4 749.3,1358.1 747.9,1361.1 746.5,1364.2 745.1,1367.4 743.7,1370.6 742.3,1373.7 741.1,1376.7 740.0,1379.5 739.0,1382.0 737.7,1385.7 736.8,1388.9 736.1,1391.9 735.5,1394.6 734.8,1397.3 734.0,1400.0 732.8,1403.3 731.4,1406.4 730.1,1409.4 728.7,1412.3 727.5,1415.0 726.3,1418.5 725.4,1421.9 724.2,1424.7 722.5,1426.2 721.6,1429.7 720.6,1433.0 719.7,1436.5 718.8,1440.0 718.0,1442.9 717.2,1445.9 716.5,1448.9 715.8,1452.0 715.0,1455.0 714.2,1458.0 713.4,1461.0 712.7,1464.0 711.9,1467.0 711.2,1470.0 710.6,1473.0 710.0,1476.0 709.5,1479.0 709.1,1482.0 708.8,1485.0 708.5,1488.0 708.4,1491.1 708.4,1494.2 708.5,1497.2 708.8,1500.0 709.5,1503.4 710.5,1506.8 711.6,1509.9 712.5,1512.5 714.0,1515.7 715.0,1518.8 718.6,1519.2 722.2,1519.7 725.0,1520.0 727.5,1520.0 729.9,1520.6 733.1,1521.6 736.6,1522.6 740.0,1523.8 743.1,1525.0 746.2,1526.4 749.4,1527.7 752.5,1528.8 755.6,1529.3 758.6,1529.7 761.7,1529.8 765.0,1530.0 767.8,1530.1 770.8,1530.2 773.9,1530.3 777.0,1530.4 780.0,1530.5 783.0,1530.6 786.0,1530.8 789.0,1530.9 792.0,1531.1 795.0,1531.2 798.0,1531.4 800.9,1531.6 803.8,1531.8 806.8,1531.9 810.0,1532.0 813.5,1531.8Z" fill="#eebd48"/>
<path d="M707.5,998.8 710.8,997.8 714.4,998.7 717.5,998.8 719.3,996.3 720.5,993.1 722.5,991.2 721.8,987.5 721.0,983.8 720.0,980.0 718.8,977.1 717.4,974.1 716.0,971.0 715.0,967.5 714.6,964.3 714.4,960.9 714.4,957.2 714.5,953.6 714.5,950.0 714.5,946.3 714.6,942.4 714.7,938.6 714.8,935.2 715.0,932.5 716.2,927.5 716.6,924.8 717.0,921.3 717.5,917.4 718.1,913.5 718.8,910.0 719.5,906.8 720.5,903.7 721.5,900.7 722.5,897.8 723.8,895.0 725.5,891.7 727.5,888.7 729.5,885.7 731.2,882.5 732.7,879.1 733.9,875.5 735.1,872.0 736.2,868.8 737.6,865.8 739.0,863.2 740.3,860.5 741.2,857.5 741.7,854.7 741.9,851.7 742.0,848.6 741.9,845.5 741.8,842.5 741.3,838.9 740.6,835.3 739.8,831.9 738.8,828.8 737.3,825.0 735.6,821.6 733.0,818.8 730.3,817.1 727.1,815.9 723.6,814.8 720.0,813.8 717.1,812.9 714.1,812.2 711.1,811.4 708.0,810.7 705.0,810.0 702.0,809.2 698.9,808.4 695.8,807.6 692.8,806.9 690.0,806.2 686.5,805.6 683.1,805.1 680.0,804.7 677.5,804.5 672.5,805.5 669.5,805.8 666.0,806.0 661.2,806.2 661.2,918.3 568.8,922.0 569.2,1003.8 572.6,1003.0 575.6,1002.2 578.7,1001.5 581.8,1000.8 585.0,1000.0 588.4,999.3 591.9,998.5 595.4,997.8 599.0,997.0 602.5,996.2 605.5,995.5 608.5,994.8 611.5,994.0 614.4,993.2 617.3,992.6 620.0,992.0 623.6,991.3 627.0,990.8 630.2,990.5 633.8,990.5 636.9,990.9 640.1,991.6 643.5,992.4 646.8,993.2 650.0,993.8 653.0,994.1 656.0,994.4 658.9,994.6 661.9,994.8 665.0,995.0 668.4,995.2 671.9,995.5 675.6,995.8 679.1,996.0 682.5,996.2 685.7,996.5 688.9,996.8 692.0,997.0 694.9,997.2 697.5,997.5 701.2,997.9 704.4,998.3Z" fill="#e9a53e"/>
<path d="M722.5,991.2 720.5,993.1 719.3,996.3 717.5,998.8 714.4,998.7 710.8,997.8 707.5,998.8 705.8,1001.0 704.3,1004.1 702.9,1007.8 701.5,1011.6 700.0,1015.0 698.5,1018.1 696.9,1021.1 695.4,1024.2 693.9,1027.1 692.5,1030.0 691.1,1032.8 689.9,1035.6 688.6,1038.3 687.4,1041.0 686.2,1043.8 685.0,1047.2 683.9,1050.7 682.7,1054.2 681.2,1057.5 679.7,1060.1 678.0,1062.6 676.1,1065.1 674.2,1067.5 672.5,1070.0 670.6,1073.2 668.8,1076.3 667.0,1079.5 665.0,1082.5 663.2,1084.9 661.3,1087.2 659.3,1089.5 657.2,1091.7 655.0,1093.8 652.7,1095.7 650.2,1097.5 647.6,1099.3 645.0,1101.0 642.5,1102.5 639.4,1104.2 636.2,1105.6 633.1,1107.1 630.0,1108.8 627.5,1110.4 625.1,1112.1 622.7,1114.0 620.2,1115.8 617.5,1117.5 614.7,1119.1 611.7,1120.7 608.6,1122.2 605.5,1123.6 602.5,1125.0 599.5,1126.3 596.6,1127.6 593.7,1128.8 590.7,1130.0 587.5,1131.2 584.7,1132.3 581.9,1133.3 578.9,1134.4 575.9,1135.4 572.9,1136.5 570.0,1137.5 567.1,1138.5 564.2,1139.6 561.2,1140.6 558.3,1141.7 555.4,1142.7 552.5,1143.8 549.6,1144.8 546.7,1145.8 543.8,1146.9 540.9,1147.9 538.0,1149.0 535.0,1150.0 531.7,1151.0 528.2,1151.9 524.6,1152.8 521.3,1153.8 518.4,1154.9 516.2,1156.2 514.4,1159.6 514.4,1163.5 515.0,1167.5 515.6,1170.5 516.7,1173.5 517.8,1176.7 518.8,1180.0 519.3,1182.8 519.7,1185.7 520.0,1188.7 520.3,1191.8 520.5,1195.0 520.6,1198.3 520.7,1201.8 520.7,1205.4 520.6,1209.0 520.5,1212.5 520.3,1216.0 519.9,1219.5 519.5,1223.0 519.1,1226.5 518.8,1230.0 518.5,1233.5 518.3,1237.1 518.1,1240.7 517.8,1244.2 517.5,1247.5 517.1,1250.6 516.6,1253.6 516.1,1256.4 515.6,1259.4 515.0,1262.5 514.3,1265.8 513.4,1269.2 512.5,1272.7 511.7,1276.3 511.2,1280.0 511.2,1283.1 511.3,1286.3 511.6,1289.5 511.9,1292.9 512.1,1296.3 512.0,1300.0 511.8,1303.0 511.5,1306.2 511.2,1309.6 510.7,1313.0 510.3,1316.3 509.8,1319.5 509.3,1322.4 508.8,1325.0 507.6,1329.0 506.3,1332.0 505.0,1334.7 503.8,1337.5 502.7,1340.6 501.8,1343.8 500.9,1346.9 500.0,1350.0 499.1,1353.1 498.3,1356.2 497.4,1359.4 496.2,1362.5 495.0,1365.6 493.5,1368.8 491.9,1371.9 490.0,1375.0 488.2,1377.5 486.3,1380.1 484.2,1382.7 482.1,1385.2 480.0,1387.5 477.5,1390.2 475.0,1392.7 472.5,1395.1 470.0,1397.5 467.5,1400.0 465.0,1402.5 462.5,1405.0 460.0,1407.5 457.5,1410.0 455.0,1412.6 452.5,1415.1 450.0,1417.5 447.5,1419.8 445.0,1422.1 442.5,1424.3 440.0,1426.2 436.7,1428.6 433.3,1430.6 430.0,1432.5 426.7,1434.3 423.3,1435.9 420.0,1437.0 416.6,1437.5 413.2,1437.5 410.0,1437.5 406.0,1437.5 402.0,1438.2 401.8,1438.4 399.0,1439.9 395.8,1442.3 392.5,1445.0 390.0,1447.2 387.5,1449.7 385.0,1452.3 382.5,1455.0 380.5,1457.2 378.5,1459.6 376.5,1462.0 374.5,1464.2 372.5,1466.2 369.4,1468.4 366.0,1470.2 363.2,1471.9 362.0,1473.8 362.3,1474.3 363.1,1475.9 365.8,1478.2 369.2,1480.5 372.5,1482.5 375.4,1484.3 378.5,1485.9 381.7,1487.3 385.0,1488.8 387.9,1489.8 390.9,1490.8 394.1,1491.8 397.1,1492.8 400.0,1493.8 403.3,1495.0 406.4,1496.2 409.4,1497.5 412.5,1498.8 415.7,1500.0 418.9,1501.2 422.1,1502.4 425.0,1503.8 428.6,1505.6 431.9,1507.7 435.0,1510.0 437.3,1512.0 439.6,1514.2 441.8,1516.5 443.8,1518.8 446.0,1521.7 448.0,1524.6 450.0,1527.5 451.8,1530.7 453.6,1533.9 456.2,1536.2 459.1,1537.1 462.6,1537.5 466.3,1537.5 470.0,1537.5 472.9,1537.4 475.9,1537.2 478.9,1537.0 482.0,1536.6 485.0,1536.2 488.1,1535.9 491.2,1535.5 494.4,1535.1 497.3,1534.5 500.0,1533.8 503.7,1532.1 506.9,1530.0 510.0,1527.5 512.6,1525.3 515.2,1522.9 517.7,1520.3 520.0,1517.5 522.1,1514.6 523.9,1511.4 525.7,1508.2 527.5,1505.0 529.4,1501.9 531.2,1498.8 533.1,1495.6 535.0,1492.5 536.9,1489.3 538.8,1485.9 540.6,1482.8 542.5,1480.0 544.7,1477.2 546.9,1474.9 550.0,1472.5 552.5,1470.8 555.5,1469.0 558.6,1467.2 561.9,1465.4 565.0,1463.8 568.0,1462.2 570.9,1460.7 573.8,1459.2 576.8,1457.7 580.0,1456.2 582.8,1455.0 585.6,1453.8 588.6,1452.6 591.6,1451.3 594.6,1450.1 597.5,1448.8 600.4,1447.4 603.3,1446.0 606.2,1444.5 609.2,1443.1 612.1,1441.5 615.0,1440.0 617.9,1438.4 620.9,1436.7 623.9,1434.9 626.9,1433.2 629.7,1431.5 632.5,1430.0 635.7,1428.3 638.8,1426.8 641.8,1425.4 644.7,1424.0 647.5,1422.5 650.8,1420.6 653.9,1418.6 656.9,1416.7 660.0,1415.0 663.1,1413.5 666.2,1412.0 669.4,1410.8 672.5,1410.0 675.6,1409.5 678.8,1409.4 681.9,1409.5 685.0,1410.0 688.1,1410.9 691.2,1412.1 694.4,1413.5 697.5,1415.0 700.6,1416.5 703.8,1418.1 706.9,1419.7 710.0,1421.2 713.3,1423.0 716.7,1424.8 719.9,1426.2 722.5,1426.2 724.2,1424.7 725.4,1421.9 726.3,1418.5 727.5,1415.0 728.7,1412.3 730.1,1409.4 731.4,1406.4 732.8,1403.3 734.0,1400.0 734.8,1397.3 735.5,1394.6 736.1,1391.9 736.8,1388.9 737.7,1385.7 739.0,1382.0 740.0,1379.5 741.1,1376.7 742.3,1373.7 743.7,1370.6 745.1,1367.4 746.5,1364.2 747.9,1361.1 749.3,1358.1 750.7,1355.4 752.0,1353.0 754.1,1349.4 756.2,1346.2 758.3,1343.4 760.3,1340.9 762.2,1338.8 764.0,1337.0 766.9,1334.9 769.5,1334.2 772.5,1333.8 775.3,1333.2 778.5,1332.9 781.8,1332.5 785.0,1332.0 788.1,1331.4 791.2,1330.7 794.4,1329.8 797.5,1328.8 800.8,1327.7 804.3,1326.5 807.5,1324.9 810.0,1322.5 811.3,1319.6 812.1,1316.1 812.7,1312.2 813.1,1308.4 813.8,1305.0 814.4,1302.2 814.6,1301.6 815.4,1298.6 816.3,1295.7 817.5,1292.5 818.8,1289.7 820.2,1286.7 821.8,1283.6 823.4,1280.5 825.0,1277.5 826.5,1274.5 828.1,1271.4 829.7,1268.3 831.2,1265.3 832.5,1262.5 834.0,1259.2 835.2,1256.1 836.4,1253.1 837.5,1250.0 838.6,1246.9 839.5,1243.9 840.4,1240.8 841.2,1237.8 841.2,1237.5 841.9,1234.6 842.6,1231.6 843.3,1228.4 843.7,1225.4 843.8,1222.5 843.3,1219.2 842.4,1216.1 841.3,1213.1 840.8,1211.9 840.0,1210.0 838.7,1206.8 837.2,1203.5 835.5,1200.4 833.8,1197.5 831.8,1195.0 829.8,1192.8 827.5,1190.8 825.0,1188.8 822.2,1186.8 819.1,1184.8 815.9,1183.0 812.5,1181.2 809.6,1179.9 806.6,1178.7 803.4,1177.4 800.4,1176.2 797.5,1175.0 794.1,1173.5 790.9,1172.0 787.9,1170.5 785.0,1168.8 782.2,1166.8 779.6,1164.6 777.1,1162.3 775.0,1160.0 772.7,1156.9 770.8,1153.8 769.5,1150.0 769.0,1147.3 768.6,1144.4 768.5,1141.2 768.5,1138.1 768.8,1135.0 769.2,1132.0 770.0,1129.0 770.9,1126.0 771.8,1123.0 772.5,1120.0 773.1,1117.0 773.8,1114.1 774.3,1111.2 774.8,1108.2 775.0,1105.0 775.0,1101.6 774.8,1098.1 774.4,1094.4 774.1,1090.9 773.8,1087.5 773.5,1084.4 773.3,1081.4 773.1,1078.6 772.8,1075.6 772.5,1072.5 772.1,1069.1 771.5,1065.6 771.0,1061.9 770.4,1058.4 770.0,1055.0 769.6,1051.8 769.2,1048.7 768.9,1045.7 768.7,1042.8 768.8,1040.0 769.1,1036.7 769.6,1033.5 770.4,1030.5 771.2,1027.5 772.8,1024.5 774.8,1021.6 776.3,1018.8 776.2,1016.2 774.7,1014.5 772.0,1012.9 768.8,1011.5 765.5,1010.1 762.5,1008.8 759.3,1007.1 756.3,1005.5 753.3,1004.0 750.0,1002.5 747.1,1001.2 744.1,999.9 740.9,998.7 737.9,997.4 735.0,996.2 731.5,994.6 728.1,992.9 725.0,991.6Z" fill="#c56e25"/>
<path d="M722.5,991.2 725.0,991.6 728.1,992.9 731.5,994.6 735.0,996.2 737.9,997.4 740.9,998.7 744.1,999.9 747.1,1001.2 750.0,1002.5 753.3,1004.0 756.3,1005.5 759.3,1007.1 762.5,1008.8 765.5,1010.1 768.8,1011.5 772.0,1012.9 774.7,1014.5 776.2,1016.2 778.6,1014.4 780.9,1012.5 783.3,1010.7 786.2,1009.2 786.9,1006.2 787.6,1003.2 788.2,1000.2 789.0,997.1 790.0,994.0 791.0,991.3 792.2,988.5 793.5,985.7 794.9,982.9 796.2,980.2 797.5,977.5 799.0,974.4 800.6,971.5 802.2,968.6 803.7,965.6 805.0,962.5 806.0,959.7 806.8,956.9 807.6,953.9 808.3,950.9 809.1,947.9 810.0,945.0 811.0,942.1 812.0,939.2 813.0,936.2 814.1,933.3 815.2,930.4 816.2,927.5 817.3,924.6 818.3,921.6 819.4,918.6 820.4,915.6 821.5,912.8 822.5,910.0 823.8,906.8 825.1,903.8 826.3,900.9 827.6,898.0 828.8,895.0 829.8,891.9 830.8,888.8 831.8,885.7 832.8,882.8 833.8,880.0 835.3,876.9 837.0,874.1 838.4,871.4 838.8,868.8 837.7,866.2 835.6,863.8 833.2,861.3 831.2,858.8 829.8,856.1 828.5,853.3 827.4,850.4 826.2,847.5 825.2,844.5 824.3,841.3 823.4,838.2 822.5,835.0 821.5,831.9 820.5,828.8 819.6,825.6 818.8,822.5 817.9,819.3 817.1,816.1 816.5,812.9 816.2,810.0 816.6,806.4 817.5,803.1 818.8,800.0 820.5,797.4 822.7,795.1 825.0,792.5 826.8,790.2 828.7,787.7 830.6,785.1 832.5,782.5 834.3,779.7 836.1,776.7 837.9,773.8 840.0,771.2 842.3,769.0 844.8,767.0 847.4,765.3 850.0,763.8 853.3,762.2 856.6,761.0 860.0,760.0 863.9,759.3 867.9,758.8 871.2,757.5 873.3,755.0 874.7,751.9 876.2,748.8 878.4,745.9 880.6,743.0 882.5,740.0 883.8,736.8 884.7,733.4 885.0,730.0 884.7,726.6 883.8,723.1 882.5,720.0 880.6,717.3 878.2,714.9 876.2,712.5 875.1,708.7 873.8,705.0 871.6,702.9 868.9,700.9 866.2,698.8 863.7,696.6 861.2,694.3 858.8,691.2 857.2,694.0 855.7,696.8 854.2,699.6 852.5,702.5 850.8,705.6 849.0,708.8 847.1,711.9 845.0,715.0 843.2,717.4 841.2,719.8 839.1,722.2 837.0,724.3 835.0,726.2 831.8,728.7 828.5,730.5 825.0,732.5 822.1,734.3 819.1,736.1 815.9,738.0 812.5,740.0 809.7,741.6 806.7,743.4 803.6,745.1 800.5,746.9 797.5,748.8 795.0,750.4 792.5,752.0 790.0,753.8 787.5,755.5 785.0,757.1 782.5,758.8 779.4,760.6 776.3,762.3 773.2,764.0 770.3,765.7 767.5,767.5 765.0,769.4 762.5,771.4 760.3,773.4 758.2,775.4 756.2,777.5 754.1,780.2 752.2,783.0 750.4,785.8 748.8,788.8 747.1,791.8 745.5,795.0 744.0,798.2 742.5,801.2 740.9,804.3 739.2,807.3 737.6,810.1 736.2,812.5 734.4,815.9 733.0,818.8 735.6,821.6 737.3,825.0 738.8,828.8 739.8,831.9 740.6,835.3 741.3,838.9 741.8,842.5 741.9,845.5 742.0,848.6 741.9,851.7 741.7,854.7 741.2,857.5 740.3,860.5 739.0,863.2 737.6,865.8 736.2,868.8 735.1,872.0 733.9,875.5 732.7,879.1 731.2,882.5 729.5,885.7 727.5,888.7 725.5,891.7 723.8,895.0 722.5,897.8 721.5,900.7 720.5,903.7 719.5,906.8 718.8,910.0 718.1,913.5 717.5,917.4 717.0,921.3 716.6,924.8 716.2,927.5 715.0,932.5 714.8,935.2 714.7,938.6 714.6,942.4 714.5,946.3 714.5,950.0 714.5,953.6 714.4,957.2 714.4,960.9 714.6,964.3 715.0,967.5 716.0,971.0 717.4,974.1 718.8,977.1 720.0,980.0 721.0,983.8 721.8,987.5Z" fill="#eebd48"/>
<path d="M722.5,1426.2 719.9,1426.2 716.7,1424.8 713.3,1423.0 710.0,1421.2 706.9,1419.7 703.8,1418.1 700.6,1416.5 697.5,1415.0 694.4,1413.5 691.2,1412.1 688.1,1410.9 685.0,1410.0 681.9,1409.5 678.8,1409.4 675.6,1409.5 672.5,1410.0 669.4,1410.8 666.2,1412.0 663.1,1413.5 660.0,1415.0 656.9,1416.7 653.9,1418.6 650.8,1420.6 647.5,1422.5 644.7,1424.0 641.8,1425.4 638.8,1426.8 635.7,1428.3 632.5,1430.0 629.7,1431.5 626.9,1433.2 623.9,1434.9 620.9,1436.7 617.9,1438.4 615.0,1440.0 612.1,1441.5 609.2,1443.1 606.2,1444.5 603.3,1446.0 600.4,1447.4 597.5,1448.8 594.6,1450.1 591.6,1451.3 588.6,1452.6 585.6,1453.8 582.8,1455.0 580.0,1456.2 576.8,1457.7 573.8,1459.2 570.9,1460.7 568.0,1462.2 565.0,1463.8 561.9,1465.4 558.6,1467.2 555.5,1469.0 552.5,1470.8 550.0,1472.5 546.9,1474.9 544.7,1477.2 542.5,1480.0 540.6,1482.8 538.8,1485.9 536.9,1489.3 535.0,1492.5 533.1,1495.6 531.2,1498.8 529.4,1501.9 527.5,1505.0 525.7,1508.2 523.9,1511.4 522.1,1514.6 520.0,1517.5 517.7,1520.3 515.2,1522.9 512.6,1525.3 510.0,1527.5 506.9,1530.0 503.7,1532.1 500.0,1533.8 497.3,1534.5 494.4,1535.1 491.2,1535.5 488.1,1535.9 485.0,1536.2 482.0,1536.6 478.9,1537.0 475.9,1537.2 472.9,1537.4 470.0,1537.5 466.3,1537.5 462.6,1537.5 459.1,1537.1 456.2,1536.2 457.5,1539.0 458.8,1541.8 460.1,1544.6 461.3,1547.3 462.5,1550.0 463.9,1553.2 465.2,1556.2 466.5,1559.2 467.5,1562.5 468.2,1565.3 468.7,1568.2 469.2,1571.2 469.6,1574.3 470.0,1577.5 470.4,1580.8 470.7,1584.3 470.9,1587.9 471.1,1591.5 471.2,1595.0 471.3,1598.5 471.2,1602.0 471.1,1605.5 470.9,1609.0 470.8,1612.5 470.5,1616.0 470.3,1619.5 470.0,1623.0 469.7,1626.5 469.5,1630.0 469.3,1633.6 469.1,1637.2 468.9,1640.9 468.8,1644.3 468.8,1647.5 468.8,1651.1 469.0,1654.3 469.4,1657.3 470.0,1660.0 471.2,1663.2 472.8,1666.0 475.0,1668.8 477.1,1670.9 479.5,1673.0 482.2,1675.2 485.0,1677.5 487.4,1679.5 489.9,1681.5 492.6,1683.6 495.1,1685.6 497.5,1687.5 500.2,1689.6 502.8,1691.6 505.2,1693.4 507.5,1695.0 510.2,1696.9 512.6,1698.4 515.0,1700.0 517.7,1700.4 520.8,1701.5 523.9,1703.1 527.1,1704.8 530.0,1706.2 533.3,1707.8 536.4,1709.4 539.4,1710.9 542.5,1712.5 545.6,1714.1 548.8,1715.8 551.9,1717.4 555.0,1718.8 558.1,1719.9 561.1,1721.0 564.2,1721.8 567.5,1722.5 570.3,1722.9 573.3,1723.1 576.4,1723.2 579.5,1723.2 582.5,1723.0 585.5,1722.7 588.6,1722.3 591.7,1721.7 594.7,1720.9 597.5,1720.0 600.9,1718.5 604.1,1716.7 607.1,1714.7 610.0,1712.5 612.7,1710.2 615.3,1707.8 617.7,1705.2 620.0,1702.5 622.1,1699.7 624.1,1696.7 625.9,1693.5 627.5,1690.0 628.5,1687.3 629.4,1684.4 630.2,1681.4 631.0,1678.3 631.8,1675.3 632.5,1672.5 633.3,1669.3 634.1,1666.3 634.8,1663.4 635.5,1660.5 636.2,1657.5 636.9,1654.5 637.6,1651.4 638.2,1648.3 639.0,1645.3 640.0,1642.5 641.6,1639.2 643.4,1636.1 645.4,1633.1 647.5,1630.0 649.4,1627.5 651.4,1625.0 653.6,1622.5 655.6,1620.0 657.5,1617.5 659.6,1614.0 661.6,1610.2 663.4,1606.9 665.0,1605.0 665.2,1601.9 665.3,1598.7 665.5,1595.0 665.6,1592.3 665.8,1589.4 665.9,1586.2 666.1,1583.1 666.2,1580.0 666.4,1576.9 666.5,1573.7 666.7,1570.5 667.0,1567.6 667.5,1565.0 668.6,1561.6 670.1,1558.9 672.5,1556.2 674.5,1554.5 677.0,1552.7 679.6,1550.9 682.4,1549.2 685.0,1547.5 688.1,1545.5 691.2,1543.5 694.4,1541.7 697.5,1540.0 700.8,1538.6 704.2,1537.3 707.4,1536.2 710.0,1535.0 713.3,1532.9 715.0,1530.0 715.5,1526.5 715.4,1522.4 715.0,1518.8 714.0,1515.7 712.5,1512.5 711.6,1509.9 710.5,1506.8 709.5,1503.4 708.8,1500.0 708.5,1497.2 708.4,1494.2 708.4,1491.1 708.5,1488.0 708.8,1485.0 709.1,1482.0 709.5,1479.0 710.0,1476.0 710.6,1473.0 711.2,1470.0 711.9,1467.0 712.7,1464.0 713.4,1461.0 714.2,1458.0 715.0,1455.0 715.8,1452.0 716.5,1448.9 717.2,1445.9 718.0,1442.9 718.8,1440.0 719.7,1436.5 720.6,1433.0 721.6,1429.7Z" fill="#eebd48"/>
<path d="M456.2,1536.2 453.6,1533.9 451.8,1530.7 450.0,1527.5 448.0,1524.6 446.0,1521.7 443.8,1518.8 441.8,1516.5 439.6,1514.2 437.3,1512.0 435.0,1510.0 431.9,1507.7 428.6,1505.6 425.0,1503.8 422.1,1502.4 418.9,1501.2 415.7,1500.0 412.5,1498.8 409.4,1497.5 406.4,1496.2 403.3,1495.0 400.0,1493.8 397.1,1492.8 394.1,1491.8 390.9,1490.8 387.9,1489.8 385.0,1488.8 381.7,1487.3 378.5,1485.9 375.4,1484.3 372.5,1482.5 369.2,1480.5 365.8,1478.2 363.1,1475.9 362.3,1474.3 359.7,1472.6 357.4,1470.7 355.0,1468.8 352.6,1466.7 350.2,1464.5 347.5,1462.5 344.4,1460.8 341.1,1459.2 337.5,1457.5 334.6,1456.0 331.4,1454.5 328.2,1452.8 325.0,1451.2 321.8,1449.7 318.7,1448.2 315.5,1446.7 312.5,1445.0 309.5,1443.3 306.5,1441.5 303.7,1439.6 301.2,1437.5 298.6,1434.4 296.5,1431.1 295.0,1427.5 294.3,1424.6 293.9,1421.6 293.8,1418.4 293.8,1418.0 292.5,1421.6 291.2,1425.1 290.0,1428.8 288.8,1432.6 287.6,1436.4 286.2,1440.0 284.9,1443.4 283.4,1446.4 281.2,1448.8 278.1,1449.8 274.3,1450.2 270.0,1450.5 267.2,1450.9 264.3,1451.3 261.2,1451.7 258.1,1452.1 255.0,1452.5 252.1,1452.9 249.2,1453.3 246.4,1453.8 243.3,1454.2 240.0,1454.5 236.9,1454.7 233.6,1454.9 230.2,1455.1 226.7,1455.2 223.3,1455.4 220.0,1455.5 216.9,1455.6 213.8,1455.8 210.8,1455.9 207.8,1456.0 204.8,1456.1 201.4,1456.2 201.3,1484.5 155.5,1485.3 154.2,1488.3 152.9,1491.7 151.2,1495.0 149.6,1497.5 147.8,1500.1 145.8,1502.6 143.8,1505.0 141.7,1507.3 139.5,1509.6 137.3,1511.8 135.0,1513.8 131.9,1516.0 128.7,1517.9 125.0,1520.0 122.4,1521.4 119.5,1522.9 116.5,1524.4 113.5,1526.0 109.7,1527.5 109.3,1598.6 37.0,1599.2 36.2,1602.8 35.4,1606.0 34.6,1609.3 33.8,1612.5 32.9,1615.7 32.0,1618.9 31.0,1622.1 30.0,1625.0 28.5,1628.8 26.9,1632.4 25.5,1635.0 23.0,1636.5 23.0,1782.5 27.5,1785.0 28.8,1792.5 38.8,1793.8 45.0,1790.0 43.8,1782.5 36.2,1780.0 35.0,1776.2 42.5,1771.2 48.8,1766.2 50.0,1757.5 55.0,1753.0 60.0,1757.5 61.2,1763.8 70.0,1766.2 78.8,1768.8 83.8,1775.0 86.2,1780.0 92.5,1778.0 98.8,1782.5 104.5,1788.0 105.5,1789.5 105.9,1786.4 106.4,1783.2 106.8,1780.0 107.0,1776.8 107.2,1773.5 107.5,1770.0 107.7,1767.0 108.0,1763.8 108.3,1760.5 108.8,1757.5 109.4,1753.9 110.2,1750.6 111.2,1747.5 112.6,1744.7 114.2,1742.2 116.2,1740.0 118.7,1738.0 121.5,1736.2 125.0,1735.0 127.6,1734.7 130.5,1734.7 133.6,1734.8 136.8,1735.0 140.0,1735.0 143.3,1735.0 146.9,1735.1 150.4,1735.1 153.6,1734.9 156.2,1734.5 159.8,1731.9 162.5,1728.8 165.5,1727.0 168.8,1725.3 172.5,1723.8 175.4,1722.7 178.6,1721.8 181.8,1721.0 185.0,1720.5 188.1,1720.3 191.2,1720.2 194.4,1720.4 197.5,1720.8 200.7,1721.2 204.1,1721.8 207.2,1722.6 210.0,1723.8 213.0,1725.8 215.5,1728.4 217.5,1731.2 219.0,1734.4 220.1,1737.7 221.2,1741.2 224.1,1739.7 227.0,1738.1 230.0,1736.2 232.3,1734.6 234.6,1732.7 237.1,1730.7 240.0,1728.8 242.7,1727.2 245.6,1725.8 248.8,1724.2 251.9,1722.8 255.0,1721.2 258.0,1719.8 261.0,1718.2 264.0,1716.8 267.0,1715.2 270.0,1713.8 273.0,1712.3 276.0,1710.8 279.0,1709.3 282.0,1707.8 285.0,1706.2 288.0,1704.6 290.9,1703.0 293.8,1701.3 296.8,1699.5 300.0,1697.5 302.4,1695.9 304.9,1694.1 307.5,1692.3 310.0,1690.4 312.6,1688.5 315.1,1686.7 317.5,1685.0 320.1,1683.2 322.7,1681.5 325.2,1679.8 327.6,1678.2 330.0,1676.6 332.5,1675.0 335.0,1673.3 337.6,1671.7 340.2,1670.0 342.7,1668.3 345.1,1666.7 347.5,1665.0 350.2,1663.0 352.9,1661.0 355.5,1659.0 357.9,1657.0 360.0,1655.0 362.1,1652.5 363.8,1650.0 365.4,1647.5 367.5,1645.0 369.7,1643.0 372.1,1641.0 374.8,1639.0 377.4,1637.0 380.0,1635.0 382.7,1633.0 385.5,1631.0 388.2,1629.0 390.6,1627.0 392.5,1625.0 394.1,1621.9 394.6,1618.7 395.0,1615.0 395.3,1612.3 395.5,1609.2 395.6,1606.1 395.9,1602.9 396.2,1600.0 396.9,1596.7 397.7,1593.6 398.7,1590.6 400.0,1587.5 401.7,1584.4 403.7,1581.2 405.7,1578.1 407.5,1575.0 408.9,1571.8 410.2,1568.6 411.3,1565.4 412.5,1562.5 414.0,1558.8 415.5,1555.5 417.5,1552.5 420.3,1550.1 423.6,1548.1 427.5,1546.2 430.2,1545.2 433.2,1544.2 436.3,1543.2 439.5,1542.2 442.5,1541.2 446.0,1540.0 449.5,1538.8 452.8,1537.5Z" fill="#e9a53e"/>
<path d="M362.3,1474.3 362.0,1473.8 363.2,1471.9 366.0,1470.2 369.4,1468.4 372.5,1466.2 374.5,1464.2 376.5,1462.0 378.5,1459.6 380.5,1457.2 382.5,1455.0 385.0,1452.3 387.5,1449.7 390.0,1447.2 392.5,1445.0 395.8,1442.3 399.0,1439.9 401.8,1438.4 400.4,1435.2 398.8,1431.2 397.5,1427.8 396.3,1424.0 395.0,1420.0 394.1,1417.0 393.3,1413.8 392.4,1410.7 391.2,1407.5 389.9,1404.4 388.4,1401.2 386.7,1398.1 385.0,1395.0 383.2,1391.8 381.4,1388.5 379.5,1385.4 377.5,1382.5 375.4,1380.0 373.2,1377.8 371.0,1375.7 368.7,1371.7 290.0,1373.2 291.4,1377.5 292.7,1381.0 293.8,1385.0 294.1,1387.7 294.3,1390.7 294.5,1393.8 294.5,1396.9 294.5,1400.0 294.4,1403.0 294.2,1406.1 294.0,1409.2 293.8,1412.2 293.8,1415.0 293.8,1418.0 293.8,1418.4 293.9,1421.6 294.3,1424.6 295.0,1427.5 296.5,1431.1 298.6,1434.4 301.2,1437.5 303.7,1439.6 306.5,1441.5 309.5,1443.3 312.5,1445.0 315.5,1446.7 318.7,1448.2 321.8,1449.7 325.0,1451.2 328.2,1452.8 331.4,1454.5 334.6,1456.0 337.5,1457.5 341.1,1459.2 344.4,1460.8 347.5,1462.5 350.2,1464.5 352.6,1466.7 355.0,1468.8 357.4,1470.7 359.7,1472.6Z" fill="#f4ee82"/>
<path d="M401.8,1438.4 402.0,1438.2 406.0,1437.5 410.0,1437.5 413.2,1437.5 416.6,1437.5 420.0,1437.0 423.3,1435.9 426.7,1434.3 430.0,1432.5 433.3,1430.6 436.7,1428.6 440.0,1426.2 442.5,1424.3 445.0,1422.1 447.5,1419.8 450.0,1417.5 452.5,1415.1 455.0,1412.6 457.5,1410.0 460.0,1407.5 462.5,1405.0 465.0,1402.5 467.5,1400.0 470.0,1397.5 472.5,1395.1 475.0,1392.7 477.5,1390.2 480.0,1387.5 482.1,1385.2 484.2,1382.7 486.3,1380.1 488.2,1377.5 490.0,1375.0 491.9,1371.9 493.5,1368.8 495.0,1365.6 496.2,1362.5 497.4,1359.4 498.3,1356.2 499.1,1353.1 500.0,1350.0 500.9,1346.9 501.8,1343.8 502.7,1340.6 503.8,1337.5 505.0,1334.7 506.3,1332.0 507.6,1329.0 508.8,1325.0 509.3,1322.4 509.8,1319.5 510.3,1316.3 510.7,1313.0 511.2,1309.6 511.5,1306.2 511.8,1303.0 512.0,1300.0 512.1,1296.3 511.9,1292.9 511.6,1289.5 511.3,1286.3 511.2,1283.1 511.2,1280.0 511.7,1276.3 512.5,1272.7 513.4,1269.2 514.3,1265.8 515.0,1262.5 515.6,1259.4 516.1,1256.4 516.6,1253.6 517.1,1250.6 517.5,1247.5 517.8,1244.2 518.1,1240.7 518.3,1237.1 518.5,1233.5 518.8,1230.0 519.1,1226.5 519.5,1223.0 519.9,1219.5 520.3,1216.0 520.5,1212.5 520.6,1209.0 520.7,1205.4 520.7,1201.8 520.6,1198.3 520.5,1195.0 520.3,1191.8 520.0,1188.7 519.7,1185.7 519.3,1182.8 518.8,1180.0 517.8,1176.7 516.7,1173.5 515.6,1170.5 515.0,1167.5 514.4,1163.5 514.4,1159.6 516.2,1156.2 514.2,1153.9 512.1,1151.5 510.0,1148.8 508.4,1146.2 506.8,1143.4 505.2,1140.5 503.8,1137.5 502.4,1134.4 501.2,1131.2 500.1,1128.0 498.8,1125.0 496.8,1121.5 494.6,1118.2 492.5,1115.0 490.2,1111.7 488.0,1108.3 486.2,1105.0 485.3,1101.7 484.9,1098.4 485.0,1095.0 485.7,1091.2 487.0,1087.3 488.8,1083.8 490.9,1080.9 493.4,1078.5 496.2,1076.2 499.4,1074.1 502.9,1072.1 506.2,1070.0 509.2,1067.7 512.0,1065.2 515.0,1062.5 517.4,1060.2 520.0,1057.7 522.6,1055.1 525.0,1052.5 527.3,1050.0 529.5,1047.5 531.6,1044.9 533.8,1042.5 535.9,1040.1 538.1,1037.8 540.3,1035.5 542.5,1032.2 476.3,1034.5 478.7,1260.8 387.6,1260.6 388.0,1371.3 368.7,1371.7 371.0,1375.7 373.2,1377.8 375.4,1380.0 377.5,1382.5 379.5,1385.4 381.4,1388.5 383.2,1391.8 385.0,1395.0 386.7,1398.1 388.4,1401.2 389.9,1404.4 391.2,1407.5 392.4,1410.7 393.3,1413.8 394.1,1417.0 395.0,1420.0 396.3,1424.0 397.5,1427.8 398.8,1431.2 400.4,1435.2Z" fill="#e9a53e"/>
<path d="M516.2,1156.2 518.4,1154.9 521.3,1153.8 524.6,1152.8 528.2,1151.9 531.7,1151.0 535.0,1150.0 538.0,1149.0 540.9,1147.9 543.8,1146.9 546.7,1145.8 549.6,1144.8 552.5,1143.8 555.4,1142.7 558.3,1141.7 561.2,1140.6 564.2,1139.6 567.1,1138.5 570.0,1137.5 572.9,1136.5 575.9,1135.4 578.9,1134.4 581.9,1133.3 584.7,1132.3 587.5,1131.2 590.7,1130.0 593.7,1128.8 596.6,1127.6 599.5,1126.3 602.5,1125.0 605.5,1123.6 608.6,1122.2 611.7,1120.7 614.7,1119.1 617.5,1117.5 620.2,1115.8 622.7,1114.0 625.1,1112.1 627.5,1110.4 630.0,1108.8 633.1,1107.1 636.2,1105.6 639.4,1104.2 642.5,1102.5 645.0,1101.0 647.6,1099.3 650.2,1097.5 652.7,1095.7 655.0,1093.8 657.2,1091.7 659.3,1089.5 661.3,1087.2 663.2,1084.9 665.0,1082.5 667.0,1079.5 668.8,1076.3 670.6,1073.2 672.5,1070.0 674.2,1067.5 676.1,1065.1 678.0,1062.6 679.7,1060.1 681.2,1057.5 682.7,1054.2 683.9,1050.7 685.0,1047.2 686.2,1043.8 687.4,1041.0 688.6,1038.3 689.9,1035.6 691.1,1032.8 692.5,1030.0 693.9,1027.1 695.4,1024.2 696.9,1021.1 698.5,1018.1 700.0,1015.0 701.5,1011.6 702.9,1007.8 704.3,1004.1 705.8,1001.0 707.5,998.8 704.4,998.3 701.2,997.9 697.5,997.5 694.9,997.2 692.0,997.0 688.9,996.8 685.7,996.5 682.5,996.2 679.1,996.0 675.6,995.8 671.9,995.5 668.4,995.2 665.0,995.0 661.9,994.8 658.9,994.6 656.0,994.4 653.0,994.1 650.0,993.8 646.8,993.2 643.5,992.4 640.1,991.6 636.9,990.9 633.8,990.5 630.2,990.5 627.0,990.8 623.6,991.3 620.0,992.0 617.3,992.6 614.4,993.2 611.5,994.0 608.5,994.8 605.5,995.5 602.5,996.2 599.0,997.0 595.4,997.8 591.9,998.5 588.4,999.3 585.0,1000.0 581.8,1000.8 578.7,1001.5 575.6,1002.2 572.6,1003.0 569.2,1003.8 569.3,1031.3 542.5,1032.2 540.3,1035.5 538.1,1037.8 535.9,1040.1 533.8,1042.5 531.6,1044.9 529.5,1047.5 527.3,1050.0 525.0,1052.5 522.6,1055.1 520.0,1057.7 517.4,1060.2 515.0,1062.5 512.0,1065.2 509.2,1067.7 506.2,1070.0 502.9,1072.1 499.4,1074.1 496.2,1076.2 493.4,1078.5 490.9,1080.9 488.8,1083.8 487.0,1087.3 485.7,1091.2 485.0,1095.0 484.9,1098.4 485.3,1101.7 486.2,1105.0 488.0,1108.3 490.2,1111.7 492.5,1115.0 494.6,1118.2 496.8,1121.5 498.8,1125.0 500.1,1128.0 501.2,1131.2 502.4,1134.4 503.8,1137.5 505.2,1140.5 506.8,1143.4 508.4,1146.2 510.0,1148.8 512.1,1151.5 514.2,1153.9Z" fill="#eebd48"/>
<path d="M672.5,805.5 677.5,804.5 680.0,804.7 683.1,805.1 686.5,805.6 690.0,806.2 692.8,806.9 695.8,807.6 698.9,808.4 702.0,809.2 705.0,810.0 708.0,810.7 711.1,811.4 714.1,812.2 717.1,812.9 720.0,813.8 723.6,814.8 727.1,815.9 730.3,817.1 733.0,818.8 734.4,815.9 736.2,812.5 737.6,810.1 739.2,807.3 740.9,804.3 742.5,801.2 744.0,798.2 745.5,795.0 747.1,791.8 748.8,788.8 750.4,785.8 752.2,783.0 754.1,780.2 756.2,777.5 758.2,775.4 760.3,773.4 762.5,771.4 765.0,769.4 767.5,767.5 770.3,765.7 773.2,764.0 776.3,762.3 779.4,760.6 782.5,758.8 785.0,757.1 787.5,755.5 790.0,753.8 792.5,752.0 795.0,750.4 797.5,748.8 800.5,746.9 803.6,745.1 806.7,743.4 809.7,741.6 812.5,740.0 815.9,738.0 819.1,736.1 822.1,734.3 825.0,732.5 828.5,730.5 831.8,728.7 835.0,726.2 837.0,724.3 839.1,722.2 841.2,719.8 843.2,717.4 845.0,715.0 847.1,711.9 849.0,708.8 850.8,705.6 852.5,702.5 854.2,699.6 855.7,696.8 857.2,694.0 858.8,691.2 857.4,688.9 856.2,686.3 855.0,683.4 853.8,680.4 852.5,677.5 851.1,674.6 849.6,671.7 848.1,668.7 846.6,665.7 845.0,662.5 843.6,659.7 842.2,656.9 840.7,653.9 839.2,650.9 837.7,647.9 836.2,645.0 834.8,642.1 833.4,639.1 832.0,636.1 830.5,633.1 829.0,630.3 827.5,627.5 825.9,624.9 824.2,622.4 822.4,620.0 820.7,617.6 819.0,615.1 817.5,612.5 816.1,609.7 814.7,606.7 813.5,603.7 812.3,600.7 811.1,597.8 810.0,595.0 808.8,591.9 807.7,589.0 806.6,586.2 805.6,583.4 804.4,578.1 760.0,579.6 759.5,583.5 759.0,587.1 758.5,590.7 758.0,594.2 757.5,597.5 757.1,600.7 756.7,603.8 756.3,606.8 755.9,609.7 755.5,612.5 755.1,615.9 754.7,619.2 754.3,622.2 753.8,625.0 752.4,629.3 749.6,633.0 750.0,691.2 728.0,691.8 726.7,695.8 725.3,698.6 724.0,701.5 722.6,704.3 721.3,707.1 720.0,710.0 718.7,712.9 717.4,715.8 716.1,718.7 714.9,721.6 713.7,724.6 712.5,727.5 711.4,730.4 710.3,733.3 709.3,736.2 708.3,739.2 707.3,742.1 706.2,745.0 705.3,747.9 704.3,750.8 703.4,753.8 702.4,756.7 701.3,759.6 700.0,762.5 698.6,765.4 696.9,768.4 695.2,771.4 693.5,774.4 691.7,777.2 690.0,780.0 688.3,782.7 686.6,785.4 684.8,787.9 683.1,790.4 681.5,792.8 680.0,795.0 677.9,797.9 676.1,800.5 674.3,803.0Z" fill="#f4ee82"/>
<path d="M661.2,806.2 666.0,806.0 669.5,805.8 672.5,805.5 674.3,803.0 676.1,800.5 677.9,797.9 680.0,795.0 681.5,792.8 683.1,790.4 684.8,787.9 686.6,785.4 688.3,782.7 690.0,780.0 691.7,777.2 693.5,774.4 695.2,771.4 696.9,768.4 698.6,765.4 700.0,762.5 701.3,759.6 702.4,756.7 703.4,753.8 704.3,750.8 705.3,747.9 706.2,745.0 707.3,742.1 708.3,739.2 709.3,736.2 710.3,733.3 711.4,730.4 712.5,727.5 713.7,724.6 714.9,721.6 716.1,718.7 717.4,715.8 718.7,712.9 720.0,710.0 721.3,707.1 722.6,704.3 724.0,701.5 725.3,698.6 726.7,695.8 728.0,691.8 661.2,693.7Z" fill="#eebd48"/>
<path d="M804.4,578.1 805.6,583.4 806.6,586.2 807.7,589.0 808.8,591.9 810.0,595.0 811.1,597.8 812.3,600.7 813.5,603.7 814.7,606.7 816.1,609.7 817.5,612.5 819.0,615.1 820.7,617.6 822.4,620.0 824.2,622.4 825.9,624.9 827.5,627.5 829.0,630.3 830.5,633.1 832.0,636.1 833.4,639.1 834.8,642.1 836.2,645.0 837.7,647.9 839.2,650.9 840.7,653.9 842.2,656.9 843.6,659.7 845.0,662.5 846.6,665.7 848.1,668.7 849.6,671.7 851.1,674.6 852.5,677.5 853.8,680.4 855.0,683.4 856.2,686.3 857.4,688.9 858.8,691.2 861.2,694.3 863.7,696.6 866.2,698.8 868.9,700.9 871.6,702.9 873.8,705.0 876.4,702.9 879.1,700.9 881.8,698.8 884.5,696.8 887.2,694.7 890.0,692.5 892.4,690.6 894.9,688.7 897.4,686.7 899.9,684.7 902.5,682.7 905.0,680.7 907.5,678.8 910.0,676.8 912.5,674.8 915.1,672.9 917.6,670.9 920.1,668.9 922.6,667.0 925.0,665.0 927.5,663.0 930.1,660.9 932.6,658.8 935.1,656.8 937.5,654.8 939.5,653.0 941.2,651.2 943.7,648.0 944.9,645.2 946.2,642.5 948.0,639.4 949.9,636.4 952.5,633.8 955.1,632.2 958.0,630.9 961.4,629.8 965.0,628.8 968.2,628.0 971.6,627.3 975.3,626.7 978.9,626.1 982.5,625.5 986.0,624.9 989.6,624.3 993.2,623.7 996.7,623.1 1000.0,622.5 1003.2,621.8 1006.2,621.1 1009.1,620.4 1012.0,619.6 1015.0,618.8 1018.0,617.9 1021.1,617.0 1024.2,616.1 1027.2,615.0 1030.0,613.8 1032.7,612.3 1035.3,610.6 1037.8,608.8 1040.2,606.9 1042.5,605.0 1045.3,602.6 1047.9,600.2 1050.3,597.7 1052.5,595.0 1054.4,592.1 1056.1,588.9 1057.5,585.7 1058.8,582.5 1059.6,579.4 1060.2,576.2 1060.7,573.1 1061.2,569.3Z" fill="#c56e25"/>
<path d="M873.8,705.0 875.1,708.7 876.2,712.5 878.2,714.9 880.6,717.3 882.5,720.0 883.8,723.1 884.7,726.6 885.0,730.0 884.7,733.4 883.8,736.8 882.5,740.0 880.6,743.0 878.4,745.9 876.2,748.8 874.7,751.9 873.3,755.0 871.2,757.5 870.3,760.6 869.2,763.8 868.3,766.9 867.5,770.0 866.9,773.1 866.4,776.2 866.2,779.4 866.2,782.5 866.7,785.7 867.6,788.8 868.7,792.0 870.0,795.0 871.6,798.0 873.4,801.1 875.4,803.9 877.5,806.2 880.5,808.5 883.7,810.1 887.5,811.2 890.1,811.8 893.0,812.1 896.1,812.3 899.3,812.4 902.5,812.5 906.0,812.5 909.7,812.4 913.4,812.3 916.9,812.3 920.0,812.5 923.7,813.3 926.6,814.5 930.0,816.2 932.6,817.6 935.5,819.3 938.6,821.1 941.8,823.0 945.0,825.0 947.8,826.7 950.7,828.6 953.8,830.5 956.8,832.5 959.7,834.4 962.5,836.2 965.2,838.0 967.7,839.7 970.2,841.4 972.7,843.1 975.1,844.7 977.5,846.2 980.4,848.1 983.2,850.0 986.0,851.7 988.7,853.4 991.2,855.0 994.5,853.7 998.0,852.4 1001.4,851.1 1004.7,849.8 1007.6,848.6 1010.0,847.5 1013.7,845.2 1016.0,842.5 1017.7,840.4 1019.6,837.8 1021.5,835.1 1023.5,832.5 1025.7,830.1 1028.2,827.8 1030.5,825.4 1032.2,822.5 1033.2,819.8 1034.0,816.7 1034.5,813.6 1034.8,810.4 1034.8,807.5 1034.1,804.3 1033.0,801.2 1031.7,798.2 1031.0,795.0 1031.0,792.1 1031.3,789.1 1031.7,785.9 1032.1,782.9 1032.2,780.0 1032.1,776.8 1031.7,773.8 1031.3,770.7 1031.0,767.5 1030.8,764.6 1030.5,761.6 1030.4,758.4 1030.5,755.4 1031.0,752.5 1032.5,749.3 1034.6,746.2 1036.8,743.2 1038.5,740.0 1039.3,737.1 1039.9,734.1 1040.2,730.9 1040.6,727.9 1041.0,725.0 1041.4,721.5 1041.8,718.0 1042.3,715.0 1043.5,712.5 1046.1,710.6 1049.5,709.6 1053.5,708.8 1056.2,708.2 1059.3,707.9 1062.4,707.6 1065.6,707.0 1068.5,706.2 1071.8,704.7 1074.9,702.8 1077.9,700.7 1081.0,698.8 1078.2,697.0 1075.9,693.9 1073.5,691.2 1071.2,689.7 1068.7,688.6 1065.0,688.0 1062.3,688.0 1059.2,688.2 1055.7,688.5 1052.1,688.9 1048.5,689.3 1045.0,689.5 1041.7,689.6 1038.3,689.7 1035.0,689.7 1031.7,689.7 1028.3,689.6 1025.0,689.5 1021.7,689.3 1018.3,689.0 1015.0,688.7 1011.7,688.4 1008.3,688.0 1005.0,687.5 1001.6,687.0 998.2,686.5 994.8,685.9 991.5,685.2 988.2,684.5 985.0,683.8 981.9,682.9 978.9,681.9 975.9,680.9 973.1,679.9 970.2,678.7 967.5,677.5 964.2,675.9 961.0,674.2 957.9,672.4 955.1,670.5 952.5,668.8 949.7,666.6 947.3,664.4 945.4,662.2 943.8,660.0 942.5,657.1 941.9,654.2 941.2,651.2 939.5,653.0 937.5,654.8 935.1,656.8 932.6,658.8 930.1,660.9 927.5,663.0 925.0,665.0 922.6,667.0 920.1,668.9 917.6,670.9 915.1,672.9 912.5,674.8 910.0,676.8 907.5,678.8 905.0,680.7 902.5,682.7 899.9,684.7 897.4,686.7 894.9,688.7 892.4,690.6 890.0,692.5 887.2,694.7 884.5,696.8 881.8,698.8 879.1,700.9 876.4,702.9Z" fill="#f3d85c"/>
<path d="M871.2,757.5 867.9,758.8 863.9,759.3 860.0,760.0 856.6,761.0 853.3,762.2 850.0,763.8 847.4,765.3 844.8,767.0 842.3,769.0 840.0,771.2 837.9,773.8 836.1,776.7 834.3,779.7 832.5,782.5 830.6,785.1 828.7,787.7 826.8,790.2 825.0,792.5 822.7,795.1 820.5,797.4 818.8,800.0 817.5,803.1 816.6,806.4 816.2,810.0 816.5,812.9 817.1,816.1 817.9,819.3 818.8,822.5 819.6,825.6 820.5,828.8 821.5,831.9 822.5,835.0 823.4,838.2 824.3,841.3 825.2,844.5 826.2,847.5 827.4,850.4 828.5,853.3 829.8,856.1 831.2,858.8 833.2,861.3 835.6,863.8 837.7,866.2 838.8,868.8 838.4,871.4 837.0,874.1 835.3,876.9 833.8,880.0 832.8,882.8 831.8,885.7 830.8,888.8 829.8,891.9 828.8,895.0 827.6,898.0 826.3,900.9 825.1,903.8 823.8,906.8 822.5,910.0 821.5,912.8 820.4,915.6 819.4,918.6 818.3,921.6 817.3,924.6 816.2,927.5 815.2,930.4 814.1,933.3 813.0,936.2 812.0,939.2 811.0,942.1 810.0,945.0 809.1,947.9 808.3,950.9 807.6,953.9 806.8,956.9 806.0,959.7 805.0,962.5 803.7,965.6 802.2,968.6 800.6,971.5 799.0,974.4 797.5,977.5 796.2,980.2 794.9,982.9 793.5,985.7 792.2,988.5 791.0,991.3 790.0,994.0 789.0,997.1 788.2,1000.2 787.6,1003.2 786.9,1006.2 786.2,1009.2 789.1,1008.5 792.2,1007.9 795.6,1007.6 799.1,1007.3 802.5,1007.0 806.0,1006.7 809.5,1006.6 813.1,1006.4 816.6,1006.3 820.0,1006.2 823.2,1006.2 826.2,1006.3 829.1,1006.3 832.0,1006.3 835.0,1006.2 838.0,1006.2 841.1,1006.1 844.2,1006.0 847.2,1005.7 850.0,1005.0 853.4,1003.6 856.6,1001.7 859.6,999.6 862.5,997.5 865.2,995.4 867.7,993.2 870.1,991.0 872.5,988.8 874.9,986.5 877.3,984.3 879.8,982.1 882.5,980.0 885.4,978.0 888.4,976.1 891.6,974.3 895.0,972.5 897.8,971.2 900.7,969.9 903.7,968.7 906.8,967.5 910.0,966.2 912.7,965.3 915.6,964.3 918.4,963.4 921.4,962.4 924.4,961.3 927.5,960.0 930.2,958.8 933.1,957.4 936.0,956.0 939.0,954.5 941.9,953.0 944.8,951.5 947.5,950.0 950.6,948.4 953.6,946.8 956.6,945.2 959.4,943.5 962.3,941.8 965.0,940.0 967.6,938.1 970.2,936.0 972.7,933.9 975.1,931.8 977.5,929.6 980.0,927.5 982.5,925.4 985.0,923.3 987.5,921.2 990.0,919.2 992.5,917.1 995.0,915.0 997.5,912.9 1000.0,910.8 1002.6,908.7 1005.1,906.6 1007.6,904.5 1010.0,902.5 1012.9,900.1 1015.8,897.6 1018.7,895.2 1021.3,893.1 1023.8,891.2 1022.5,888.4 1021.3,885.5 1020.1,882.7 1018.8,880.0 1016.9,876.5 1014.9,873.2 1012.5,870.0 1010.3,867.7 1007.8,865.4 1005.2,863.2 1002.5,861.2 999.8,859.6 997.1,858.1 994.3,856.7 991.2,855.0 988.7,853.4 986.0,851.7 983.2,850.0 980.4,848.1 977.5,846.2 975.1,844.7 972.7,843.1 970.2,841.4 967.7,839.7 965.2,838.0 962.5,836.2 959.7,834.4 956.8,832.5 953.8,830.5 950.7,828.6 947.8,826.7 945.0,825.0 941.8,823.0 938.6,821.1 935.5,819.3 932.6,817.6 930.0,816.2 926.6,814.5 923.7,813.3 920.0,812.5 916.9,812.3 913.4,812.3 909.7,812.4 906.0,812.5 902.5,812.5 899.3,812.4 896.1,812.3 893.0,812.1 890.1,811.8 887.5,811.2 883.7,810.1 880.5,808.5 877.5,806.2 875.4,803.9 873.4,801.1 871.6,798.0 870.0,795.0 868.7,792.0 867.6,788.8 866.7,785.7 866.2,782.5 866.2,779.4 866.4,776.2 866.9,773.1 867.5,770.0 868.3,766.9 869.2,763.8 870.3,760.6Z" fill="#f3d85c"/>
<path d="M749.6,633.0 752.4,629.3 753.8,625.0 754.3,622.2 754.7,619.2 755.1,615.9 755.5,612.5 755.9,609.7 756.3,606.8 756.7,603.8 757.1,600.7 757.5,597.5 758.0,594.2 758.5,590.7 759.0,587.1 759.5,583.5 760.0,579.6 749.3,580.0Z" fill="#eebd48"/>
<path d="M1397.5,309.5 1396.5,307.1 1395.6,304.6 1393.0,300.0 1391.8,298.1 1390.4,296.0 1388.9,293.7 1387.2,291.2 1385.3,288.5 1383.5,285.8 1381.5,283.0 1379.6,280.1 1377.7,277.3 1375.8,274.6 1374.0,272.0 1376.3,333.3 1288.8,337.0 1289.2,376.3 1292.6,376.1 1295.7,376.0 1298.8,375.9 1301.9,375.8 1305.0,375.5 1308.0,375.1 1311.0,374.6 1314.0,374.0 1317.0,373.5 1320.0,373.0 1323.0,372.6 1326.1,372.1 1329.2,371.7 1332.2,371.4 1335.0,371.2 1338.3,371.2 1341.5,371.4 1344.5,371.6 1347.5,372.0 1351.3,372.7 1355.0,373.6 1358.8,374.5 1359.8,371.9 1361.0,369.0 1362.3,366.0 1363.6,363.0 1365.0,360.0 1366.4,357.0 1367.9,353.9 1369.4,350.8 1371.0,347.8 1372.5,345.0 1374.3,341.7 1376.2,338.6 1378.0,335.6 1380.0,332.5 1381.7,330.0 1383.4,327.4 1385.2,324.9 1387.0,322.4 1388.8,320.0 1390.9,317.2 1393.1,314.6 1395.3,312.1Z" fill="#c56e25"/>
<path d="M1290.0,449.0 1292.3,446.4 1294.6,443.8 1297.5,441.2 1300.3,439.4 1303.5,437.6 1306.8,435.7 1310.0,433.8 1313.0,431.7 1316.1,429.5 1318.9,427.2 1321.2,425.0 1323.1,422.1 1324.4,419.2 1326.2,416.2 1328.7,414.1 1331.6,412.0 1334.6,409.8 1337.5,407.5 1340.1,405.1 1342.7,402.7 1345.2,400.2 1347.5,397.5 1349.6,394.5 1351.6,391.3 1353.4,388.0 1355.0,385.0 1356.4,381.5 1357.5,378.2 1358.8,374.5 1355.0,373.6 1351.3,372.7 1347.5,372.0 1344.5,371.6 1341.5,371.4 1338.3,371.2 1335.0,371.2 1332.2,371.4 1329.2,371.7 1326.1,372.1 1323.0,372.6 1320.0,373.0 1317.0,373.5 1314.0,374.0 1311.0,374.6 1308.0,375.1 1305.0,375.5 1301.9,375.8 1298.8,375.9 1295.7,376.0 1292.6,376.1 1289.2,376.3Z" fill="#f4ee82"/>
<path d="M1202.2,492.5 1206.7,491.6 1210.5,490.8 1214.2,489.9 1217.5,488.8 1221.1,486.8 1224.1,484.5 1227.5,482.5 1230.4,481.2 1233.6,480.0 1236.8,479.0 1240.0,478.0 1243.2,477.2 1246.6,476.6 1249.7,475.9 1252.5,475.0 1255.4,473.2 1257.7,471.0 1260.0,468.8 1262.3,466.7 1264.6,464.6 1267.5,462.5 1270.3,460.9 1273.6,459.3 1276.9,457.7 1280.0,456.2 1283.5,454.6 1286.8,453.0 1290.0,450.8 1202.0,457.0Z" fill="#f4ee82"/>
<path d="M201.4,1456.2 204.8,1456.1 207.8,1456.0 210.8,1455.9 213.8,1455.8 216.9,1455.6 220.0,1455.5 223.3,1455.4 226.7,1455.2 230.2,1455.1 233.6,1454.9 236.9,1454.7 240.0,1454.5 243.3,1454.2 246.4,1453.8 249.2,1453.3 252.1,1452.9 255.0,1452.5 258.1,1452.1 261.2,1451.7 264.3,1451.3 267.2,1450.9 270.0,1450.5 274.3,1450.2 278.1,1449.8 281.2,1448.8 283.4,1446.4 284.9,1443.4 286.2,1440.0 287.6,1436.4 288.8,1432.6 290.0,1428.8 291.2,1425.1 292.5,1421.6 293.8,1418.0 293.8,1415.0 293.8,1412.2 294.0,1409.2 294.2,1406.1 294.4,1403.0 294.5,1400.0 294.5,1396.9 294.5,1393.8 294.3,1390.7 294.1,1387.7 293.8,1385.0 292.7,1381.0 291.4,1377.5 290.0,1373.2 201.5,1375.0Z" fill="#e9a53e"/>
<path d="M109.7,1527.5 113.5,1526.0 116.5,1524.4 119.5,1522.9 122.4,1521.4 125.0,1520.0 128.7,1517.9 131.9,1516.0 135.0,1513.8 137.3,1511.8 139.5,1509.6 141.7,1507.3 143.8,1505.0 145.8,1502.6 147.8,1500.1 149.6,1497.5 151.2,1495.0 152.9,1491.7 154.2,1488.3 155.5,1485.3 110.0,1486.0Z" fill="#e9a53e"/>
<path d="M23.0,1636.5 25.5,1635.0 26.9,1632.4 28.5,1628.8 30.0,1625.0 31.0,1622.1 32.0,1618.9 32.9,1615.7 33.8,1612.5 34.6,1609.3 35.4,1606.0 36.2,1602.8 37.0,1599.2 23.0,1599.3Z" fill="#e9a53e"/>
<path d="M456.2,1536.2 452.8,1537.5 449.5,1538.8 446.0,1540.0 442.5,1541.2 439.5,1542.2 436.3,1543.2 433.2,1544.2 430.2,1545.2 427.5,1546.2 423.6,1548.1 420.3,1550.1 417.5,1552.5 415.5,1555.5 414.0,1558.8 412.5,1562.5 411.3,1565.4 410.2,1568.6 408.9,1571.8 407.5,1575.0 405.7,1578.1 403.7,1581.2 401.7,1584.4 400.0,1587.5 398.7,1590.6 397.7,1593.6 396.9,1596.7 396.2,1600.0 395.9,1602.9 395.6,1606.1 395.5,1609.2 395.3,1612.3 395.0,1615.0 394.6,1618.7 394.1,1621.9 392.5,1625.0 390.6,1627.0 388.2,1629.0 385.5,1631.0 382.7,1633.0 380.0,1635.0 377.4,1637.0 374.8,1639.0 372.1,1641.0 369.7,1643.0 367.5,1645.0 365.4,1647.5 363.8,1650.0 362.1,1652.5 360.0,1655.0 357.9,1657.0 355.5,1659.0 352.9,1661.0 350.2,1663.0 347.5,1665.0 345.1,1666.7 342.7,1668.3 340.2,1670.0 337.6,1671.7 335.0,1673.3 332.5,1675.0 330.0,1676.6 327.6,1678.2 325.2,1679.8 322.7,1681.5 320.1,1683.2 317.5,1685.0 315.1,1686.7 312.6,1688.5 310.0,1690.4 307.5,1692.3 304.9,1694.1 302.4,1695.9 300.0,1697.5 296.8,1699.5 293.8,1701.3 290.9,1703.0 288.0,1704.6 285.0,1706.2 282.0,1707.8 279.0,1709.3 276.0,1710.8 273.0,1712.3 270.0,1713.8 267.0,1715.2 264.0,1716.8 261.0,1718.2 258.0,1719.8 255.0,1721.2 251.9,1722.8 248.8,1724.2 245.6,1725.8 242.7,1727.2 240.0,1728.8 237.1,1730.7 234.6,1732.7 232.3,1734.6 230.0,1736.2 227.0,1738.1 224.1,1739.7 221.2,1741.2 222.6,1744.8 223.9,1748.4 225.0,1752.5 225.6,1755.2 226.1,1758.1 226.5,1761.1 226.8,1764.3 227.0,1767.5 227.1,1770.8 227.0,1774.3 226.8,1777.9 226.6,1781.5 226.2,1785.0 225.9,1788.5 225.4,1792.0 224.9,1795.5 224.4,1799.0 223.8,1802.5 223.1,1806.0 222.3,1809.6 221.6,1813.2 220.8,1816.7 220.0,1820.0 219.3,1823.2 218.6,1826.2 217.8,1829.1 217.1,1832.0 216.2,1835.0 215.3,1838.0 214.3,1841.1 213.2,1844.2 212.2,1847.2 211.2,1850.0 210.2,1853.5 209.2,1857.0 208.3,1860.1 207.5,1862.5 206.2,1864.7 217.5,1873.8 227.5,1878.8 235.0,1885.0 238.8,1890.0 243.8,1896.2 241.2,1901.2 237.5,1905.0 237.5,1911.2 243.8,1910.0 250.0,1905.0 256.2,1906.2 261.2,1912.5 264.5,1921.2 268.8,1923.8 262.5,1931.2 260.0,1940.0 262.5,1948.8 268.8,1955.0 275.0,1960.5 278.8,1966.2 283.8,1960.5 292.5,1955.0 298.8,1956.2 293.0,1949.5 291.2,1941.2 297.5,1935.5 303.8,1930.5 300.0,1927.5 296.2,1928.0 290.0,1925.0 283.8,1921.2 287.5,1916.2 286.2,1907.5 280.0,1903.8 282.5,1897.5 288.8,1893.8 286.2,1887.5 290.0,1880.0 288.8,1873.8 297.5,1870.0 305.0,1866.2 315.0,1866.2 320.0,1861.2 312.5,1858.8 313.8,1855.0 322.5,1852.5 323.8,1846.2 331.2,1840.0 337.0,1833.8 335.0,1827.5 337.5,1822.5 333.8,1820.0 336.2,1816.2 335.0,1811.2 337.5,1809.2 341.2,1808.2 344.0,1808.7 347.1,1809.9 350.0,1811.2 352.5,1812.8 354.9,1814.6 357.5,1816.2 360.6,1817.9 363.9,1819.5 367.5,1820.5 370.4,1820.8 373.4,1820.8 376.6,1820.6 380.0,1820.0 382.9,1819.3 385.9,1818.3 389.1,1817.2 392.1,1816.1 395.0,1815.0 398.4,1813.8 401.6,1812.6 404.6,1811.3 407.5,1810.0 411.2,1808.1 414.5,1806.1 417.0,1803.8 418.5,1801.0 419.2,1798.0 419.2,1795.0 418.5,1792.1 417.1,1789.2 415.0,1787.0 412.3,1785.7 408.9,1785.1 405.0,1785.0 402.3,1785.3 399.4,1785.8 396.2,1786.5 393.1,1787.2 390.0,1788.0 387.0,1788.8 384.0,1789.6 381.0,1790.5 378.0,1791.5 375.0,1792.5 371.9,1793.8 368.6,1795.3 365.5,1796.8 362.5,1798.0 360.0,1798.8 355.4,1798.3 352.5,1796.2 351.2,1793.4 351.2,1790.0 352.6,1786.2 355.0,1782.5 357.0,1780.6 359.5,1778.9 362.5,1777.5 365.2,1776.6 368.3,1775.8 371.6,1775.1 375.0,1774.5 377.9,1774.0 381.1,1773.7 384.2,1773.3 387.3,1772.9 390.0,1772.5 394.0,1771.8 397.5,1771.1 400.0,1770.0 401.8,1767.0 401.2,1763.8 399.1,1762.0 395.9,1760.4 392.5,1758.8 388.9,1757.1 385.1,1755.5 382.5,1753.8 381.4,1750.6 382.5,1747.5 384.0,1745.6 386.3,1743.8 390.0,1742.5 392.6,1742.1 395.6,1741.8 399.1,1741.6 402.7,1741.5 406.4,1741.4 410.0,1741.2 413.0,1741.1 416.1,1741.0 419.2,1741.0 422.4,1740.9 425.6,1740.7 429.0,1740.4 432.5,1740.0 435.4,1739.5 438.6,1738.9 441.9,1738.3 445.2,1737.5 448.5,1736.8 451.8,1736.0 454.8,1735.3 457.6,1734.6 460.0,1734.0 464.2,1732.9 467.2,1731.9 469.7,1731.0 472.5,1730.0 475.7,1728.9 478.9,1727.7 482.1,1726.4 485.0,1725.0 487.7,1723.4 490.2,1721.6 492.6,1719.6 495.0,1717.5 497.5,1715.1 500.0,1712.5 502.5,1709.9 505.0,1707.5 507.4,1705.1 509.7,1702.7 512.1,1700.8 515.0,1700.0 512.6,1698.4 510.2,1696.9 507.5,1695.0 505.2,1693.4 502.8,1691.6 500.2,1689.6 497.5,1687.5 495.1,1685.6 492.6,1683.6 489.9,1681.5 487.4,1679.5 485.0,1677.5 482.2,1675.2 479.5,1673.0 477.1,1670.9 475.0,1668.8 472.8,1666.0 471.2,1663.2 470.0,1660.0 469.4,1657.3 469.0,1654.3 468.8,1651.1 468.8,1647.5 468.8,1644.3 468.9,1640.9 469.1,1637.2 469.3,1633.6 469.5,1630.0 469.7,1626.5 470.0,1623.0 470.3,1619.5 470.5,1616.0 470.8,1612.5 470.9,1609.0 471.1,1605.5 471.2,1602.0 471.3,1598.5 471.2,1595.0 471.1,1591.5 470.9,1587.9 470.7,1584.3 470.4,1580.8 470.0,1577.5 469.6,1574.3 469.2,1571.2 468.7,1568.2 468.2,1565.3 467.5,1562.5 466.5,1559.2 465.2,1556.2 463.9,1553.2 462.5,1550.0 461.3,1547.3 460.1,1544.6 458.8,1541.8 457.5,1539.0Z" fill="#e9a53e"/>
<path d="M715.0,1518.8 715.4,1522.4 715.5,1526.5 715.0,1530.0 713.3,1532.9 710.0,1535.0 707.4,1536.2 704.2,1537.3 700.8,1538.6 697.5,1540.0 694.4,1541.7 691.2,1543.5 688.1,1545.5 685.0,1547.5 682.4,1549.2 679.6,1550.9 677.0,1552.7 674.5,1554.5 672.5,1556.2 670.1,1558.9 668.6,1561.6 667.5,1565.0 667.0,1567.6 666.7,1570.5 666.5,1573.7 666.4,1576.9 666.2,1580.0 666.1,1583.1 665.9,1586.2 665.8,1589.4 665.6,1592.3 665.5,1595.0 665.3,1598.7 665.2,1601.9 665.0,1605.0 667.8,1605.8 670.0,1610.0 670.6,1612.3 671.1,1615.2 671.5,1618.3 672.0,1621.7 672.5,1625.0 673.1,1628.3 673.9,1631.8 674.6,1635.4 675.4,1639.0 676.2,1642.5 677.0,1645.4 677.8,1648.4 678.7,1651.4 679.5,1654.4 680.4,1657.2 681.2,1660.0 682.2,1663.2 683.2,1666.3 684.2,1669.3 685.2,1672.2 686.2,1675.0 687.6,1678.4 689.1,1681.6 690.6,1684.6 692.5,1687.5 694.7,1690.2 697.1,1692.8 699.7,1695.2 702.5,1697.5 705.4,1699.7 708.6,1701.7 711.8,1703.5 715.0,1705.0 718.1,1706.2 721.2,1707.2 724.4,1707.9 727.5,1708.2 730.7,1708.2 733.9,1707.8 737.1,1707.2 740.0,1706.2 743.6,1704.6 746.9,1702.5 750.0,1700.0 752.0,1697.8 753.8,1695.2 755.6,1692.6 757.5,1690.0 759.6,1687.6 761.8,1685.2 764.0,1682.7 766.2,1680.0 768.0,1677.7 769.7,1675.2 771.4,1672.6 773.2,1670.0 775.0,1667.5 777.0,1665.0 779.0,1662.4 781.1,1659.8 783.1,1657.3 785.0,1655.0 787.1,1652.3 789.0,1649.8 790.8,1647.4 792.5,1645.0 794.7,1641.6 796.7,1638.1 798.8,1635.0 800.7,1632.3 802.6,1629.8 805.0,1627.5 808.0,1625.3 811.3,1623.3 815.0,1621.2 817.9,1619.7 821.1,1618.0 824.3,1616.5 827.5,1615.0 830.6,1613.7 833.8,1612.5 836.9,1611.3 840.0,1610.0 843.1,1608.5 846.2,1606.9 849.4,1605.3 852.5,1603.8 851.2,1600.0 850.0,1596.3 848.8,1592.5 847.8,1589.5 847.0,1586.3 846.0,1583.2 845.0,1580.0 843.8,1576.9 842.5,1573.8 841.2,1570.6 840.0,1567.5 839.0,1564.4 838.0,1561.2 837.2,1558.1 836.2,1555.0 835.3,1551.8 834.5,1548.7 833.5,1545.5 832.5,1542.5 831.6,1539.3 830.9,1536.0 829.7,1533.2 827.5,1531.2 824.8,1530.7 821.3,1530.8 817.4,1531.2 816.2,1531.4 813.5,1531.8 810.0,1532.0 806.8,1531.9 803.8,1531.8 800.9,1531.6 798.0,1531.4 795.0,1531.2 792.0,1531.1 789.0,1530.9 786.0,1530.8 783.0,1530.6 780.0,1530.5 777.0,1530.4 773.9,1530.3 770.8,1530.2 767.8,1530.1 765.0,1530.0 761.7,1529.8 758.6,1529.7 755.6,1529.3 752.5,1528.8 749.4,1527.7 746.2,1526.4 743.1,1525.0 740.0,1523.8 736.6,1522.6 733.1,1521.6 729.9,1520.6 727.5,1520.0 725.0,1520.0 722.2,1519.7 718.6,1519.2Z" fill="#f4ee82"/>
<path d="M515.0,1700.0 512.1,1700.8 509.7,1702.7 507.4,1705.1 505.0,1707.5 502.5,1709.9 500.0,1712.5 497.5,1715.1 495.0,1717.5 492.6,1719.6 490.2,1721.6 487.7,1723.4 485.0,1725.0 482.1,1726.4 478.9,1727.7 475.7,1728.9 472.5,1730.0 469.7,1731.0 467.2,1731.9 464.2,1732.9 460.0,1734.0 457.6,1734.6 454.8,1735.3 451.8,1736.0 448.5,1736.8 445.2,1737.5 441.9,1738.3 438.6,1738.9 435.4,1739.5 432.5,1740.0 429.0,1740.4 425.6,1740.7 422.4,1740.9 419.2,1741.0 416.1,1741.0 413.0,1741.1 410.0,1741.2 406.4,1741.4 402.7,1741.5 399.1,1741.6 395.6,1741.8 392.6,1742.1 390.0,1742.5 386.3,1743.8 384.0,1745.6 382.5,1747.5 381.4,1750.6 382.5,1753.8 385.1,1755.5 388.9,1757.1 392.5,1758.8 395.9,1760.4 399.1,1762.0 401.2,1763.8 401.8,1767.0 400.0,1770.0 397.5,1771.1 394.0,1771.8 390.0,1772.5 387.3,1772.9 384.2,1773.3 381.1,1773.7 377.9,1774.0 375.0,1774.5 371.6,1775.1 368.3,1775.8 365.2,1776.6 362.5,1777.5 359.5,1778.9 357.0,1780.6 355.0,1782.5 352.6,1786.2 351.2,1790.0 351.2,1793.4 352.5,1796.2 355.4,1798.3 360.0,1798.8 362.5,1798.0 365.5,1796.8 368.6,1795.3 371.9,1793.8 375.0,1792.5 378.0,1791.5 381.0,1790.5 384.0,1789.6 387.0,1788.8 390.0,1788.0 393.1,1787.2 396.2,1786.5 399.4,1785.8 402.3,1785.3 405.0,1785.0 408.9,1785.1 412.3,1785.7 415.0,1787.0 417.1,1789.2 418.5,1792.1 419.2,1795.0 419.2,1798.0 418.5,1801.0 417.0,1803.8 414.5,1806.1 411.2,1808.1 407.5,1810.0 404.6,1811.3 401.6,1812.6 398.4,1813.8 395.0,1815.0 392.1,1816.1 389.1,1817.2 385.9,1818.3 382.9,1819.3 380.0,1820.0 376.6,1820.6 373.4,1820.8 370.4,1820.8 367.5,1820.5 363.9,1819.5 360.6,1817.9 357.5,1816.2 354.9,1814.6 352.5,1812.8 350.0,1811.2 347.1,1809.9 344.0,1808.7 341.2,1808.2 337.5,1809.2 335.0,1811.2 336.2,1816.2 343.8,1817.5 347.5,1823.8 352.5,1831.2 360.0,1837.5 366.2,1840.0 375.0,1846.2 382.5,1852.5 390.0,1855.0 397.5,1852.5 405.0,1853.8 407.5,1860.0 413.8,1861.2 417.5,1868.8 425.0,1875.0 432.5,1880.0 442.5,1882.5 452.5,1882.5 462.5,1885.0 470.0,1892.5 475.0,1900.0 481.2,1907.5 483.8,1920.0 482.5,1930.0 472.5,1932.5 462.5,1935.0 457.5,1935.0 460.0,1927.5 466.2,1922.5 465.0,1915.0 455.0,1913.8 447.5,1916.2 450.0,1925.0 448.8,1935.0 440.0,1940.0 430.0,1941.2 422.5,1938.8 420.0,1947.5 415.0,1953.8 415.0,1962.5 410.0,1966.2 415.0,1972.5 418.8,1981.2 427.5,1985.0 437.5,1990.0 450.0,1990.0 460.0,1985.0 462.5,1992.5 467.5,2001.2 477.5,2002.5 475.0,1995.0 482.5,1997.5 488.8,2005.0 490.0,2020.0 487.5,2032.5 485.0,2040.0 488.8,2045.0 482.5,2050.0 480.0,2060.0 473.8,2063.8 477.5,2070.0 485.0,2076.2 491.2,2080.0 490.0,2090.0 495.0,2097.5 496.2,2107.5 487.5,2110.0 496.2,2113.8 495.0,2120.0 485.0,2121.2 482.5,2126.2 475.0,2128.8 475.0,2142.5 482.5,2140.0 490.0,2145.0 491.2,2151.2 500.0,2152.5 508.8,2155.0 505.0,2166.2 515.0,2170.0 522.5,2177.5 525.0,2182.5 535.0,2185.0 542.5,2190.0 550.0,2192.5 557.5,2196.2 567.5,2195.0 577.5,2200.0 585.0,2210.0 588.8,2214.0 595.0,2220.0 597.3,2218.4 600.0,2216.2 602.6,2214.1 605.7,2211.5 608.8,2208.8 611.0,2206.7 613.2,2204.5 615.4,2202.2 617.5,2200.0 620.1,2197.1 622.5,2194.2 625.0,2191.2 627.5,2188.3 630.0,2185.3 632.5,2182.5 635.2,2180.0 637.8,2177.6 640.0,2175.0 641.5,2171.9 642.5,2168.6 643.0,2165.0 642.9,2162.1 642.5,2158.9 641.9,2155.7 641.2,2152.5 640.5,2149.4 639.5,2146.2 638.5,2143.1 637.5,2140.0 636.5,2136.9 635.5,2133.8 634.6,2130.6 633.8,2127.5 633.0,2124.4 632.4,2121.2 631.8,2118.1 631.2,2115.0 630.6,2111.8 630.0,2108.5 629.6,2105.4 629.5,2102.5 629.9,2099.2 630.8,2096.3 632.5,2093.8 635.2,2091.5 638.7,2089.6 642.5,2087.5 645.4,2085.7 648.6,2083.8 651.8,2081.8 655.0,2080.0 658.1,2078.3 661.2,2076.8 664.4,2075.3 667.5,2073.8 670.6,2072.1 673.6,2070.5 676.7,2068.9 680.0,2067.5 682.8,2066.5 685.8,2065.6 688.9,2064.7 692.0,2063.9 695.0,2063.0 698.0,2062.1 701.0,2061.3 704.0,2060.5 707.0,2059.6 710.0,2058.8 713.0,2057.8 716.1,2056.8 719.2,2055.8 722.2,2054.8 725.0,2053.8 728.3,2052.5 731.4,2051.3 734.4,2050.1 737.5,2048.8 740.6,2047.3 743.8,2045.7 746.9,2044.1 750.0,2042.5 753.2,2040.9 756.3,2039.2 759.5,2037.7 762.5,2036.2 766.3,2034.7 769.9,2033.3 774.4,2032.0 772.5,1927.8 867.7,1927.3 866.3,1815.0 913.2,1813.7 914.3,1811.6 915.3,1808.7 916.4,1805.7 917.5,1802.5 918.5,1799.7 919.4,1796.6 920.5,1793.5 921.5,1790.4 922.5,1787.5 923.7,1784.2 924.8,1781.1 926.1,1778.1 927.5,1775.0 929.1,1771.8 930.9,1768.6 932.9,1765.4 935.0,1762.5 937.4,1759.8 940.0,1757.3 942.6,1754.9 945.0,1752.5 947.1,1750.1 948.9,1747.7 950.7,1745.2 952.5,1742.5 954.3,1739.6 956.0,1736.4 957.8,1733.2 958.2,1730.0 957.5,1695.5 970.0,1695.4 970.8,1689.5 971.7,1686.0 972.5,1682.5 973.4,1679.2 974.3,1676.0 975.0,1672.5 975.5,1669.6 975.9,1666.4 976.2,1663.2 976.2,1660.0 976.0,1656.8 975.6,1653.6 974.9,1650.4 973.8,1647.5 971.9,1644.8 969.6,1642.3 967.2,1639.9 965.0,1637.5 962.7,1634.1 960.6,1630.7 958.8,1627.5 957.2,1624.4 955.8,1621.4 953.8,1618.8 951.4,1617.0 948.6,1615.5 945.5,1614.1 942.5,1612.5 939.5,1610.7 936.3,1608.7 933.2,1606.8 930.0,1605.0 926.9,1603.4 923.8,1602.0 920.6,1600.7 917.5,1599.5 914.4,1598.5 911.4,1597.6 908.3,1596.8 905.0,1596.2 902.1,1596.0 899.1,1595.8 895.9,1595.7 892.9,1595.7 890.0,1595.8 886.7,1595.8 883.6,1595.8 880.6,1596.0 877.5,1596.2 874.4,1596.7 871.2,1597.2 868.1,1597.9 865.0,1598.8 861.9,1599.8 858.8,1601.0 855.6,1602.4 852.5,1603.8 849.4,1605.3 846.2,1606.9 843.1,1608.5 840.0,1610.0 836.9,1611.3 833.8,1612.5 830.6,1613.7 827.5,1615.0 824.3,1616.5 821.1,1618.0 817.9,1619.7 815.0,1621.2 811.3,1623.3 808.0,1625.3 805.0,1627.5 802.6,1629.8 800.7,1632.3 798.8,1635.0 796.7,1638.1 794.7,1641.6 792.5,1645.0 790.8,1647.4 789.0,1649.8 787.1,1652.3 785.0,1655.0 783.1,1657.3 781.1,1659.8 779.0,1662.4 777.0,1665.0 775.0,1667.5 773.2,1670.0 771.4,1672.6 769.7,1675.2 768.0,1677.7 766.2,1680.0 764.0,1682.7 761.8,1685.2 759.6,1687.6 757.5,1690.0 755.6,1692.6 753.8,1695.2 752.0,1697.8 750.0,1700.0 746.9,1702.5 743.6,1704.6 740.0,1706.2 737.1,1707.2 733.9,1707.8 730.7,1708.2 727.5,1708.2 724.4,1707.9 721.2,1707.2 718.1,1706.2 715.0,1705.0 711.8,1703.5 708.6,1701.7 705.4,1699.7 702.5,1697.5 699.7,1695.2 697.1,1692.8 694.7,1690.2 692.5,1687.5 690.6,1684.6 689.1,1681.6 687.6,1678.4 686.2,1675.0 685.2,1672.2 684.2,1669.3 683.2,1666.3 682.2,1663.2 681.2,1660.0 680.4,1657.2 679.5,1654.4 678.7,1651.4 677.8,1648.4 677.0,1645.4 676.2,1642.5 675.4,1639.0 674.6,1635.4 673.9,1631.8 673.1,1628.3 672.5,1625.0 672.0,1621.7 671.5,1618.3 671.1,1615.2 670.6,1612.3 670.0,1610.0 667.8,1605.8 665.0,1605.0 663.4,1606.9 661.6,1610.2 659.6,1614.0 657.5,1617.5 655.6,1620.0 653.6,1622.5 651.4,1625.0 649.4,1627.5 647.5,1630.0 645.4,1633.1 643.4,1636.1 641.6,1639.2 640.0,1642.5 639.0,1645.3 638.2,1648.3 637.6,1651.4 636.9,1654.5 636.2,1657.5 635.5,1660.5 634.8,1663.4 634.1,1666.3 633.3,1669.3 632.5,1672.5 631.8,1675.3 631.0,1678.3 630.2,1681.4 629.4,1684.4 628.5,1687.3 627.5,1690.0 625.9,1693.5 624.1,1696.7 622.1,1699.7 620.0,1702.5 617.7,1705.2 615.3,1707.8 612.7,1710.2 610.0,1712.5 607.1,1714.7 604.1,1716.7 600.9,1718.5 597.5,1720.0 594.7,1720.9 591.7,1721.7 588.6,1722.3 585.5,1722.7 582.5,1723.0 579.5,1723.2 576.4,1723.2 573.3,1723.1 570.3,1722.9 567.5,1722.5 564.2,1721.8 561.1,1721.0 558.1,1719.9 555.0,1718.8 551.9,1717.4 548.8,1715.8 545.6,1714.1 542.5,1712.5 539.4,1710.9 536.4,1709.4 533.3,1707.8 530.0,1706.2 527.1,1704.8 523.9,1703.1 520.8,1701.5 517.7,1700.4Z" fill="#672629"/>
<path d="M958.2,1730.0 957.8,1733.2 956.0,1736.4 954.3,1739.6 952.5,1742.5 950.7,1745.2 948.9,1747.7 947.1,1750.1 945.0,1752.5 942.6,1754.9 940.0,1757.3 937.4,1759.8 935.0,1762.5 932.9,1765.4 930.9,1768.6 929.1,1771.8 927.5,1775.0 926.1,1778.1 924.8,1781.1 923.7,1784.2 922.5,1787.5 921.5,1790.4 920.5,1793.5 919.4,1796.6 918.5,1799.7 917.5,1802.5 916.4,1805.7 915.3,1808.7 914.3,1811.6 913.2,1813.7 960.0,1812.5Z" fill="#e9a53e"/>
<path d="M1050.8,1678.7 1047.5,1678.6 1044.4,1678.4 1041.3,1678.2 1038.3,1678.1 1035.3,1678.0 1032.5,1678.0 1029.3,1678.1 1026.3,1678.4 1023.4,1678.7 1020.5,1679.1 1017.5,1679.5 1014.5,1680.0 1011.4,1680.6 1008.3,1681.2 1005.3,1681.8 1002.5,1682.5 999.2,1683.3 996.0,1684.1 993.0,1685.0 990.0,1686.2 987.1,1687.8 984.3,1689.7 981.5,1691.6 978.8,1695.4 1051.3,1695.0Z" fill="#e9a53e"/>
<path d="M774.4,2032.0 769.9,2033.3 766.3,2034.7 762.5,2036.2 759.5,2037.7 756.3,2039.2 753.2,2040.9 750.0,2042.5 746.9,2044.1 743.8,2045.7 740.6,2047.3 737.5,2048.8 734.4,2050.1 731.4,2051.3 728.3,2052.5 725.0,2053.8 722.2,2054.8 719.2,2055.8 716.1,2056.8 713.0,2057.8 710.0,2058.8 707.0,2059.6 704.0,2060.5 701.0,2061.3 698.0,2062.1 695.0,2063.0 692.0,2063.9 688.9,2064.7 685.8,2065.6 682.8,2066.5 680.0,2067.5 676.7,2068.9 673.6,2070.5 670.6,2072.1 667.5,2073.8 664.4,2075.3 661.2,2076.8 658.1,2078.3 655.0,2080.0 651.8,2081.8 648.6,2083.8 645.4,2085.7 642.5,2087.5 638.7,2089.6 635.2,2091.5 632.5,2093.8 630.8,2096.3 629.9,2099.2 629.5,2102.5 629.6,2105.4 630.0,2108.5 630.6,2111.8 631.2,2115.0 631.8,2118.1 632.4,2121.2 633.0,2124.4 633.8,2127.5 634.6,2130.6 635.5,2133.8 636.5,2136.9 637.5,2140.0 638.5,2143.1 639.5,2146.2 640.5,2149.4 641.2,2152.5 641.9,2155.7 642.5,2158.9 642.9,2162.1 643.0,2165.0 642.5,2168.6 641.5,2171.9 640.0,2175.0 637.8,2177.6 635.2,2180.0 632.5,2182.5 630.0,2185.3 627.5,2188.3 625.0,2191.2 622.5,2194.2 620.1,2197.1 617.5,2200.0 615.4,2202.2 613.2,2204.5 611.0,2206.7 608.8,2208.8 605.7,2211.5 602.6,2214.1 600.0,2216.2 597.3,2218.4 595.0,2220.0 598.8,2227.5 605.0,2235.0 612.5,2241.2 620.0,2248.8 627.5,2255.0 635.0,2261.2 640.0,2266.2 647.5,2266.2 655.0,2270.0 662.5,2275.0 667.5,2280.0 675.0,2277.5 680.0,2272.5 682.5,2265.0 681.2,2257.5 678.8,2252.5 688.8,2253.0 696.2,2250.0 700.0,2253.8 711.2,2252.0 713.8,2257.5 711.2,2266.2 707.5,2270.0 710.0,2277.5 713.8,2283.8 720.0,2280.0 730.0,2278.8 740.0,2281.2 745.0,2286.2 755.0,2292.5 762.5,2296.2 772.5,2296.2 779.3,2295.0Z" fill="#c56e25"/>
<path d="M105.5,1789.5 104.5,1788.0 98.8,1782.5 92.5,1778.0 86.2,1780.0 83.8,1775.0 78.8,1768.8 70.0,1766.2 61.2,1763.8 60.0,1757.5 55.0,1753.0 50.0,1757.5 48.8,1766.2 42.5,1771.2 35.0,1776.2 36.2,1780.0 43.8,1782.5 45.0,1790.0 38.8,1793.8 28.8,1792.5 27.5,1785.0 23.0,1782.5 23.0,2299.0 779.5,2307.0 779.3,2295.0 772.5,2296.2 762.5,2296.2 755.0,2292.5 745.0,2286.2 740.0,2281.2 730.0,2278.8 720.0,2280.0 713.8,2283.8 710.0,2277.5 707.5,2270.0 711.2,2266.2 713.8,2257.5 711.2,2252.0 700.0,2253.8 696.2,2250.0 688.8,2253.0 678.8,2252.5 681.2,2257.5 682.5,2265.0 680.0,2272.5 675.0,2277.5 667.5,2280.0 662.5,2275.0 655.0,2270.0 647.5,2266.2 640.0,2266.2 635.0,2261.2 627.5,2255.0 620.0,2248.8 612.5,2241.2 605.0,2235.0 598.8,2227.5 595.0,2220.0 588.8,2214.0 585.0,2210.0 577.5,2200.0 567.5,2195.0 557.5,2196.2 550.0,2192.5 542.5,2190.0 535.0,2185.0 525.0,2182.5 522.5,2177.5 515.0,2170.0 505.0,2166.2 508.8,2155.0 500.0,2152.5 491.2,2151.2 490.0,2145.0 482.5,2140.0 475.0,2142.5 475.0,2128.8 482.5,2126.2 485.0,2121.2 495.0,2120.0 496.2,2113.8 487.5,2110.0 496.2,2107.5 495.0,2097.5 490.0,2090.0 491.2,2080.0 485.0,2076.2 477.5,2070.0 473.8,2063.8 480.0,2060.0 482.5,2050.0 488.8,2045.0 485.0,2040.0 487.5,2032.5 490.0,2020.0 488.8,2005.0 482.5,1997.5 475.0,1995.0 477.5,2002.5 467.5,2001.2 462.5,1992.5 460.0,1985.0 450.0,1990.0 437.5,1990.0 427.5,1985.0 418.8,1981.2 415.0,1972.5 410.0,1966.2 415.0,1962.5 415.0,1953.8 420.0,1947.5 422.5,1938.8 430.0,1941.2 440.0,1940.0 448.8,1935.0 450.0,1925.0 447.5,1916.2 455.0,1913.8 465.0,1915.0 466.2,1922.5 460.0,1927.5 457.5,1935.0 462.5,1935.0 472.5,1932.5 482.5,1930.0 483.8,1920.0 481.2,1907.5 475.0,1900.0 470.0,1892.5 462.5,1885.0 452.5,1882.5 442.5,1882.5 432.5,1880.0 425.0,1875.0 417.5,1868.8 413.8,1861.2 407.5,1860.0 405.0,1853.8 397.5,1852.5 390.0,1855.0 382.5,1852.5 375.0,1846.2 366.2,1840.0 360.0,1837.5 352.5,1831.2 347.5,1823.8 343.8,1817.5 336.2,1816.2 333.8,1820.0 337.5,1822.5 335.0,1827.5 337.0,1833.8 331.2,1840.0 323.8,1846.2 322.5,1852.5 313.8,1855.0 312.5,1858.8 320.0,1861.2 315.0,1866.2 305.0,1866.2 297.5,1870.0 288.8,1873.8 290.0,1880.0 286.2,1887.5 288.8,1893.8 282.5,1897.5 280.0,1903.8 286.2,1907.5 287.5,1916.2 283.8,1921.2 290.0,1925.0 296.2,1928.0 300.0,1927.5 303.8,1930.5 297.5,1935.5 291.2,1941.2 293.0,1949.5 298.8,1956.2 292.5,1955.0 283.8,1960.5 278.8,1966.2 275.0,1960.5 268.8,1955.0 262.5,1948.8 260.0,1940.0 262.5,1931.2 268.8,1923.8 264.5,1921.2 261.2,1912.5 256.2,1906.2 250.0,1905.0 243.8,1910.0 237.5,1911.2 237.5,1905.0 241.2,1901.2 243.8,1896.2 238.8,1890.0 235.0,1885.0 227.5,1878.8 217.5,1873.8 206.2,1864.7 205.0,1863.8 192.5,1862.0 182.5,1859.5 176.2,1861.2 173.8,1853.8 171.2,1855.0 170.0,1865.0 162.5,1870.0 155.0,1873.8 147.5,1876.2 142.5,1877.5 143.8,1870.0 140.0,1862.5 135.0,1855.0 127.5,1852.5 120.0,1860.0 116.2,1870.0 111.2,1876.2 103.8,1872.5 101.2,1865.0 103.8,1857.5 106.2,1850.0 100.0,1846.2 95.0,1840.0 100.0,1835.0 107.5,1830.0 112.5,1821.2 106.2,1820.0 97.5,1817.5 100.0,1810.0 107.5,1805.0 112.5,1797.5 108.0,1793.0Z" fill="#9ecfe2"/>
<path d="M105.5,1789.5 108.0,1793.0 112.5,1797.5 107.5,1805.0 100.0,1810.0 97.5,1817.5 106.2,1820.0 112.5,1821.2 107.5,1830.0 100.0,1835.0 95.0,1840.0 100.0,1846.2 106.2,1850.0 103.8,1857.5 101.2,1865.0 103.8,1872.5 111.2,1876.2 116.2,1870.0 120.0,1860.0 127.5,1852.5 135.0,1855.0 140.0,1862.5 143.8,1870.0 142.5,1877.5 147.5,1876.2 155.0,1873.8 162.5,1870.0 170.0,1865.0 171.2,1855.0 173.8,1853.8 176.2,1861.2 182.5,1859.5 192.5,1862.0 205.0,1863.8 206.2,1864.7 207.5,1862.5 208.3,1860.1 209.2,1857.0 210.2,1853.5 211.2,1850.0 212.2,1847.2 213.2,1844.2 214.3,1841.1 215.3,1838.0 216.2,1835.0 217.1,1832.0 217.8,1829.1 218.6,1826.2 219.3,1823.2 220.0,1820.0 220.8,1816.7 221.6,1813.2 222.3,1809.6 223.1,1806.0 223.8,1802.5 224.4,1799.0 224.9,1795.5 225.4,1792.0 225.9,1788.5 226.2,1785.0 226.6,1781.5 226.8,1777.9 227.0,1774.3 227.1,1770.8 227.0,1767.5 226.8,1764.3 226.5,1761.1 226.1,1758.1 225.6,1755.2 225.0,1752.5 223.9,1748.4 222.6,1744.8 221.2,1741.2 220.1,1737.7 219.0,1734.4 217.5,1731.2 215.5,1728.4 213.0,1725.8 210.0,1723.8 207.2,1722.6 204.1,1721.8 200.7,1721.2 197.5,1720.8 194.4,1720.4 191.2,1720.2 188.1,1720.3 185.0,1720.5 181.8,1721.0 178.6,1721.8 175.4,1722.7 172.5,1723.8 168.8,1725.3 165.5,1727.0 162.5,1728.8 159.8,1731.9 156.2,1734.5 153.6,1734.9 150.4,1735.1 146.9,1735.1 143.3,1735.0 140.0,1735.0 136.8,1735.0 133.6,1734.8 130.5,1734.7 127.6,1734.7 125.0,1735.0 121.5,1736.2 118.7,1738.0 116.2,1740.0 114.2,1742.2 112.6,1744.7 111.2,1747.5 110.2,1750.6 109.4,1753.9 108.8,1757.5 108.3,1760.5 108.0,1763.8 107.7,1767.0 107.5,1770.0 107.2,1773.5 107.0,1776.8 106.8,1780.0 106.4,1783.2 105.9,1786.4Z" fill="#c56e25"/>
</g>
<g id="islands" stroke="#6c7176" stroke-width="1.2" stroke-linejoin="round">
<path d="M300.0,1915.0 306.2,1913.8 310.0,1918.8 317.5,1916.2 322.0,1913.8 321.2,1921.2 315.0,1923.0 310.0,1925.0 305.0,1930.0 301.2,1927.5 299.5,1921.2Z" fill="#e9a53e"/>
<path d="M306.2,1895.5 312.5,1893.8 318.8,1898.8 322.5,1905.0 322.0,1910.0 316.2,1908.8 311.2,1903.8 307.5,1900.0Z" fill="#e9a53e"/>
<path d="M324.5,1883.8 330.0,1882.5 331.2,1887.5 340.0,1887.5 345.5,1890.0 340.0,1895.0 335.0,1898.8 330.0,1905.0 325.0,1906.2 323.8,1897.5 323.0,1890.0Z" fill="#e9a53e"/>
<path d="M342.5,1835.0 346.2,1833.8 348.8,1838.8 353.0,1843.8 350.0,1847.5 346.2,1850.0 342.5,1851.2 341.2,1845.5 343.0,1841.2Z" fill="#e9a53e"/>
<path d="M335.0,1867.5 337.5,1863.8 340.5,1866.2 339.5,1871.2 336.2,1873.8Z" fill="#e9a53e"/>
<path d="M116.2,1785.0 125.0,1784.5 132.5,1786.2 135.0,1789.5 130.0,1795.0 121.2,1797.0 116.2,1793.8 113.8,1789.5Z" fill="#9ecfe2"/>
<path d="M402.5,2000.0 410.0,2001.2 417.5,1997.5 425.0,1993.8 431.2,1995.0 433.8,2002.5 440.0,2006.2 435.0,2008.8 426.2,2006.2 418.8,2008.8 411.2,2006.2 403.8,2003.8Z" fill="#672629"/>
<path d="M413.0,1890.0 418.8,1892.5 425.0,1897.5 431.2,1901.2 430.0,1906.2 423.8,1905.0 420.0,1898.8 413.8,1895.0Z" fill="#672629"/>
<path d="M393.8,1867.0 400.0,1868.8 401.2,1872.0 396.2,1872.5Z" fill="#672629"/>
<path d="M662.5,2297.5 667.5,2293.8 672.5,2292.5 677.5,2287.5 683.8,2287.0 682.5,2291.2 676.2,2295.0 671.2,2298.8 665.0,2300.0Z" fill="#c56e25"/>
<path d="M732.0,2297.0 735.5,2292.0 741.2,2289.5 742.0,2293.0 737.0,2297.5 733.0,2300.0Z" fill="#c56e25"/>
</g>
<path d="M1457.5,99.5 1812.5,92.0 1857.0,872.5 1672.7,886.2 1677.5,998.0 1585.0,998.8 1588.7,1112.5 1496.2,1117.5 1500.0,1224.5 1411.2,1232.6 1412.3,1346.5 1322.3,1350.3 1324.6,1463.0 1231.0,1466.0 1235.5,1575.0 1047.5,1581.3 1051.3,1695.0 957.5,1695.5 960.0,1812.5 866.3,1815.0 867.7,1927.3 772.5,1927.8 779.5,2307.0 23.0,2299.0 23.0,1599.3 109.3,1598.6 110.0,1486.0 201.3,1484.5 201.5,1375.0 388.0,1371.3 387.6,1260.6 478.7,1260.8 476.3,1034.5 569.3,1031.3 568.8,922.0 661.2,918.3 661.2,693.7 750.0,691.2 749.3,580.0 1202.5,564.5 1202.0,457.0 1290.0,450.8 1288.8,337.0 1376.3,333.3 1372.0,219.7 1461.5,217.6Z" fill="none" stroke="#1b1f24" stroke-width="3.2" stroke-linejoin="miter"/>
<polygon points="23,2297 781.2,2305.6 781.2,2312.2 23,2303.8" fill="#141517"/>
<!-- frame -->
<path d="M12,2H1878V2339H12Z M23,7.2H1865V2327H23Z" fill="#141517" fill-rule="evenodd"/>
<text x="1465.5" y="850" class="city">Isparta</text>
<text x="1175.2" y="1004" class="city">Burdur</text>
<text x="558.5" y="1832.5" class="city">Fethiye</text>
<g id="compass">
<polygon points="1686.2,1292.0 1686.5,1175.6 1705.9,1252.0" fill="#fdfdfd" stroke="#141517" stroke-width="1.3" stroke-linejoin="miter"/>
<polygon points="1686.2,1292.0 1808.4,1291.7 1728.4,1312.1" fill="#fdfdfd" stroke="#141517" stroke-width="1.3" stroke-linejoin="miter"/>
<polygon points="1686.2,1292.0 1686.5,1408.9 1667.0,1331.4" fill="#fdfdfd" stroke="#141517" stroke-width="1.3" stroke-linejoin="miter"/>
<polygon points="1686.2,1292.0 1565.0,1291.7 1643.7,1272.3" fill="#fdfdfd" stroke="#141517" stroke-width="1.3" stroke-linejoin="miter"/>
<polygon points="1686.2,1292.0 1747.4,1233.8 1728.4,1271.8" fill="#fdfdfd" stroke="#141517" stroke-width="1.3" stroke-linejoin="miter"/>
<polygon points="1686.2,1292.0 1625.9,1234.2 1666.1,1252.0" fill="#fdfdfd" stroke="#141517" stroke-width="1.3" stroke-linejoin="miter"/>
<polygon points="1686.2,1292.0 1625.9,1350.5 1643.7,1312.4" fill="#fdfdfd" stroke="#141517" stroke-width="1.3" stroke-linejoin="miter"/>
<polygon points="1686.2,1292.0 1747.4,1350.5 1706.8,1331.4" fill="#fdfdfd" stroke="#141517" stroke-width="1.3" stroke-linejoin="miter"/>
<polygon points="1686.2,1292.0 1686.5,1175.6 1666.1,1252.0" fill="#141517" stroke="#141517" stroke-width="1.3" stroke-linejoin="miter"/>
<polygon points="1686.2,1292.0 1808.4,1291.7 1728.4,1271.8" fill="#141517" stroke="#141517" stroke-width="1.3" stroke-linejoin="miter"/>
<polygon points="1686.2,1292.0 1686.5,1408.9 1706.8,1331.4" fill="#141517" stroke="#141517" stroke-width="1.3" stroke-linejoin="miter"/>
<polygon points="1686.2,1292.0 1565.0,1291.7 1643.7,1312.4" fill="#141517" stroke="#141517" stroke-width="1.3" stroke-linejoin="miter"/>
<polygon points="1686.2,1292.0 1747.4,1233.8 1705.9,1252.0" fill="#141517" stroke="#141517" stroke-width="1.3" stroke-linejoin="miter"/>
<polygon points="1686.2,1292.0 1625.9,1234.2 1643.7,1272.3" fill="#141517" stroke="#141517" stroke-width="1.3" stroke-linejoin="miter"/>
<polygon points="1686.2,1292.0 1625.9,1350.5 1667.0,1331.4" fill="#141517" stroke="#141517" stroke-width="1.3" stroke-linejoin="miter"/>
<polygon points="1686.2,1292.0 1747.4,1350.5 1728.4,1312.1" fill="#141517" stroke="#141517" stroke-width="1.3" stroke-linejoin="miter"/>
</g>
<text x="1690" y="1167.2" class="cmp" text-anchor="middle">N</text>
<text x="1687.5" y="1457.5" class="cmp" text-anchor="middle">S</text>
<text x="1565.5" y="1307" class="cmp" text-anchor="end">W</text>
<text x="1814.5" y="1307" class="cmp">E</text>
<text x="1300.2" y="1547" class="lg">Legend</text>
<text x="1300.2" y="1616" class="lg">Population</text>
<rect x="1301.5" y="1667.1" width="113.5" height="54.5" fill="#f4ee82" stroke="#8d8b80" stroke-width="1.6"/>
<text x="1423" y="1714.4" class="lg">&lt; 7000</text>
<rect x="1301.5" y="1740.9" width="113.5" height="54.5" fill="#f3d85c" stroke="#8d8b80" stroke-width="1.6"/>
<text x="1423" y="1787.6" class="lg">7001−12000</text>
<rect x="1301.5" y="1815.0" width="113.5" height="54.5" fill="#eebd48" stroke="#8d8b80" stroke-width="1.6"/>
<text x="1423" y="1860.8" class="lg">12001−25000</text>
<rect x="1301.5" y="1888.4" width="113.5" height="54.5" fill="#e9a53e" stroke="#8d8b80" stroke-width="1.6"/>
<text x="1423" y="1934.0" class="lg">25001−45000</text>
<rect x="1301.5" y="1961.9" width="113.5" height="54.5" fill="#c56e25" stroke="#8d8b80" stroke-width="1.6"/>
<text x="1423" y="2007.2" class="lg">45001−65000</text>
<rect x="1301.5" y="2034.9" width="113.5" height="54.5" fill="#993f28" stroke="#8d8b80" stroke-width="1.6"/>
<text x="1423" y="2080.4" class="lg">65001−100000</text>
<rect x="1301.5" y="2108.9" width="113.5" height="54.5" fill="#672629" stroke="#8d8b80" stroke-width="1.6"/>
<text x="1423" y="2153.6" class="lg">100001−310000</text>
<rect x="1301.5" y="2182.0" width="113.5" height="54.5" fill="#9ecfe2" stroke="#7f9fc9" stroke-width="1.6"/>
<text x="1423" y="2226.8" class="lg">Mediterranean Sea</text>
<g id="scalebar">
<rect x="823.2" y="2273.7" width="340.5" height="24.4" fill="#141517"/>
<rect x="911" y="2277.3" width="81.1" height="17" fill="#fdfdfd"/>
<rect x="1079.4" y="2277.3" width="81.3" height="17" fill="#fdfdfd"/>
<text x="811" y="2260.5" class="sc">0</text>
<text x="879.6" y="2260.5" class="sc">10</text>
<text x="961" y="2260.5" class="sc">20</text>
<text x="1044.5" y="2260.5" class="sc">30</text>
<text x="1122.5" y="2260.5" class="sc">40</text>
<text x="1195" y="2260.5" class="sc">km</text>
</g>
</svg>
</body></html>
